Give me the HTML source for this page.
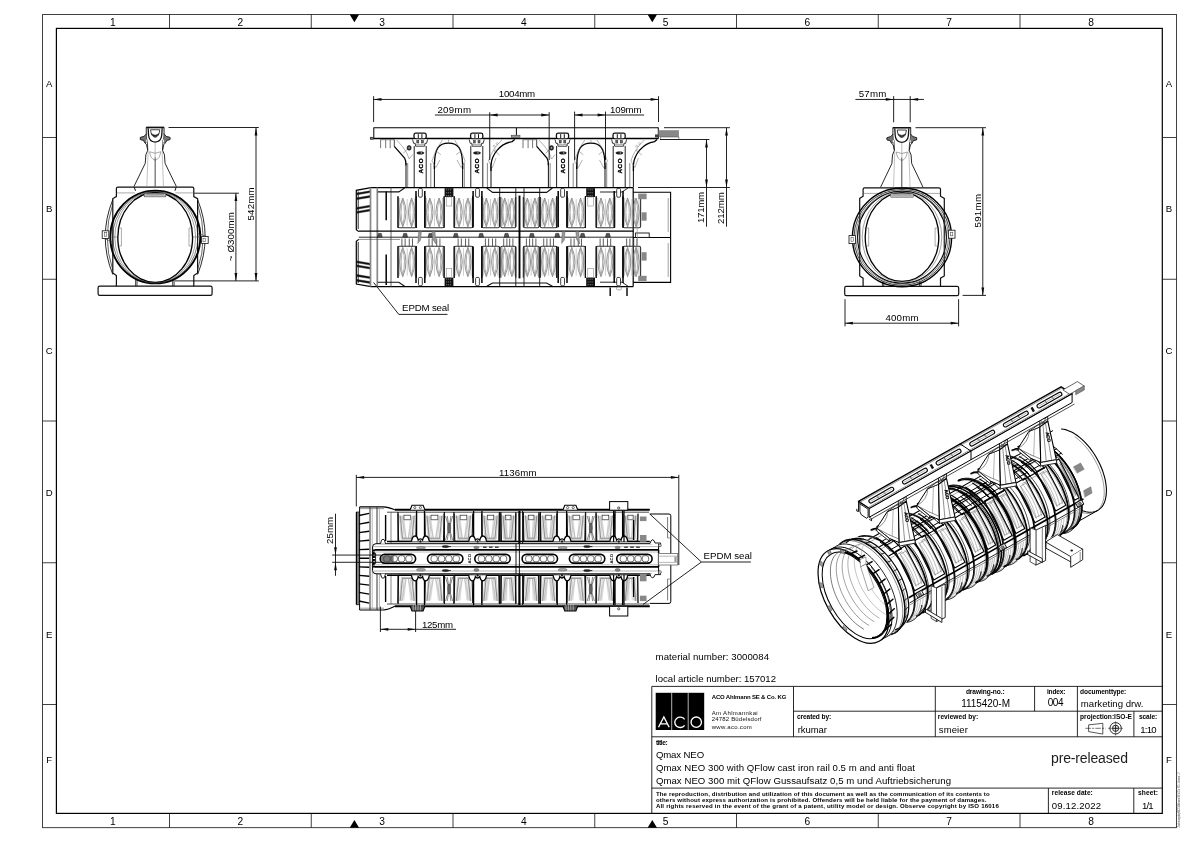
<!DOCTYPE html>
<html><head><meta charset="utf-8"><title>Qmax NEO 300 drawing</title>
<style>
html,body{margin:0;padding:0;background:#fff;}
body{width:1191px;height:842px;overflow:hidden;font-family:"Liberation Sans",sans-serif;}
svg{display:block;font-family:"Liberation Sans",sans-serif;filter:grayscale(1);}
text{font-family:"Liberation Sans",sans-serif;}
</style></head><body>
<svg width="1191" height="842" viewBox="0 0 1191 842">
<rect x="0" y="0" width="1191" height="842" fill="#fff"/>
<g id="frame">
<rect x="42.60" y="14.40" width="1133.80" height="813.30" rx="0" stroke="#111" stroke-width="0.8" fill="none" />
<rect x="56.40" y="28.40" width="1105.90" height="785.00" rx="0" stroke="#000" stroke-width="1.2" fill="none" />
<line x1="169.50" y1="14.40" x2="169.50" y2="28.40" stroke="#111" stroke-width="0.8" />
<line x1="169.50" y1="813.40" x2="169.50" y2="827.70" stroke="#111" stroke-width="0.8" />
<line x1="311.25" y1="14.40" x2="311.25" y2="28.40" stroke="#111" stroke-width="0.8" />
<line x1="311.25" y1="813.40" x2="311.25" y2="827.70" stroke="#111" stroke-width="0.8" />
<line x1="453.00" y1="14.40" x2="453.00" y2="28.40" stroke="#111" stroke-width="0.8" />
<line x1="453.00" y1="813.40" x2="453.00" y2="827.70" stroke="#111" stroke-width="0.8" />
<line x1="594.75" y1="14.40" x2="594.75" y2="28.40" stroke="#111" stroke-width="0.8" />
<line x1="594.75" y1="813.40" x2="594.75" y2="827.70" stroke="#111" stroke-width="0.8" />
<line x1="736.50" y1="14.40" x2="736.50" y2="28.40" stroke="#111" stroke-width="0.8" />
<line x1="736.50" y1="813.40" x2="736.50" y2="827.70" stroke="#111" stroke-width="0.8" />
<line x1="878.25" y1="14.40" x2="878.25" y2="28.40" stroke="#111" stroke-width="0.8" />
<line x1="878.25" y1="813.40" x2="878.25" y2="827.70" stroke="#111" stroke-width="0.8" />
<line x1="1020.00" y1="14.40" x2="1020.00" y2="28.40" stroke="#111" stroke-width="0.8" />
<line x1="1020.00" y1="813.40" x2="1020.00" y2="827.70" stroke="#111" stroke-width="0.8" />
<line x1="42.60" y1="137.50" x2="56.40" y2="137.50" stroke="#111" stroke-width="0.8" />
<line x1="1162.30" y1="137.50" x2="1176.40" y2="137.50" stroke="#111" stroke-width="0.8" />
<line x1="42.60" y1="279.25" x2="56.40" y2="279.25" stroke="#111" stroke-width="0.8" />
<line x1="1162.30" y1="279.25" x2="1176.40" y2="279.25" stroke="#111" stroke-width="0.8" />
<line x1="42.60" y1="421.00" x2="56.40" y2="421.00" stroke="#111" stroke-width="0.8" />
<line x1="1162.30" y1="421.00" x2="1176.40" y2="421.00" stroke="#111" stroke-width="0.8" />
<line x1="42.60" y1="562.75" x2="56.40" y2="562.75" stroke="#111" stroke-width="0.8" />
<line x1="1162.30" y1="562.75" x2="1176.40" y2="562.75" stroke="#111" stroke-width="0.8" />
<line x1="42.60" y1="704.50" x2="56.40" y2="704.50" stroke="#111" stroke-width="0.8" />
<line x1="1162.30" y1="704.50" x2="1176.40" y2="704.50" stroke="#111" stroke-width="0.8" />
<text x="112.95" y="25.90" font-size="10.2" text-anchor="middle" fill="#000" >1</text>
<text x="112.95" y="825.00" font-size="10.2" text-anchor="middle" fill="#000" >1</text>
<text x="240.38" y="25.90" font-size="10.2" text-anchor="middle" fill="#000" >2</text>
<text x="240.38" y="825.00" font-size="10.2" text-anchor="middle" fill="#000" >2</text>
<text x="382.12" y="25.90" font-size="10.2" text-anchor="middle" fill="#000" >3</text>
<text x="382.12" y="825.00" font-size="10.2" text-anchor="middle" fill="#000" >3</text>
<text x="523.88" y="25.90" font-size="10.2" text-anchor="middle" fill="#000" >4</text>
<text x="523.88" y="825.00" font-size="10.2" text-anchor="middle" fill="#000" >4</text>
<text x="665.62" y="25.90" font-size="10.2" text-anchor="middle" fill="#000" >5</text>
<text x="665.62" y="825.00" font-size="10.2" text-anchor="middle" fill="#000" >5</text>
<text x="807.38" y="25.90" font-size="10.2" text-anchor="middle" fill="#000" >6</text>
<text x="807.38" y="825.00" font-size="10.2" text-anchor="middle" fill="#000" >6</text>
<text x="949.12" y="25.90" font-size="10.2" text-anchor="middle" fill="#000" >7</text>
<text x="949.12" y="825.00" font-size="10.2" text-anchor="middle" fill="#000" >7</text>
<text x="1091.15" y="25.90" font-size="10.2" text-anchor="middle" fill="#000" >8</text>
<text x="1091.15" y="825.00" font-size="10.2" text-anchor="middle" fill="#000" >8</text>
<text x="49.30" y="86.85" font-size="9.6" text-anchor="middle" fill="#000" >A</text>
<text x="1169.00" y="86.85" font-size="9.6" text-anchor="middle" fill="#000" >A</text>
<text x="49.30" y="212.28" font-size="9.6" text-anchor="middle" fill="#000" >B</text>
<text x="1169.00" y="212.28" font-size="9.6" text-anchor="middle" fill="#000" >B</text>
<text x="49.30" y="354.02" font-size="9.6" text-anchor="middle" fill="#000" >C</text>
<text x="1169.00" y="354.02" font-size="9.6" text-anchor="middle" fill="#000" >C</text>
<text x="49.30" y="495.77" font-size="9.6" text-anchor="middle" fill="#000" >D</text>
<text x="1169.00" y="495.77" font-size="9.6" text-anchor="middle" fill="#000" >D</text>
<text x="49.30" y="637.52" font-size="9.6" text-anchor="middle" fill="#000" >E</text>
<text x="1169.00" y="637.52" font-size="9.6" text-anchor="middle" fill="#000" >E</text>
<text x="49.30" y="762.85" font-size="9.6" text-anchor="middle" fill="#000" >F</text>
<text x="1169.00" y="762.85" font-size="9.6" text-anchor="middle" fill="#000" >F</text>
<polygon points="349.7,14.4 359.09999999999997,14.4 354.4,22.2" fill="#000"/>
<polygon points="349.7,827.7 359.09999999999997,827.7 354.4,819.9" fill="#000"/>
<polygon points="647.5999999999999,14.4 657.0,14.4 652.3,22.2" fill="#000"/>
<polygon points="647.5999999999999,827.7 657.0,827.7 652.3,819.9" fill="#000"/>
</g>
<g id="title">
<line x1="651.80" y1="686.40" x2="1162.30" y2="686.40" stroke="#111" stroke-width="0.9" />
<line x1="651.80" y1="686.40" x2="651.80" y2="813.40" stroke="#111" stroke-width="0.9" />
<line x1="793.50" y1="711.20" x2="1162.30" y2="711.20" stroke="#111" stroke-width="0.9" />
<line x1="651.80" y1="736.80" x2="1162.30" y2="736.80" stroke="#111" stroke-width="0.9" />
<line x1="651.80" y1="788.10" x2="1162.30" y2="788.10" stroke="#111" stroke-width="0.9" />
<line x1="793.50" y1="686.40" x2="793.50" y2="736.80" stroke="#111" stroke-width="0.9" />
<line x1="935.30" y1="686.40" x2="935.30" y2="736.80" stroke="#111" stroke-width="0.9" />
<line x1="1034.60" y1="686.40" x2="1034.60" y2="711.20" stroke="#111" stroke-width="0.9" />
<line x1="1077.40" y1="686.40" x2="1077.40" y2="736.80" stroke="#111" stroke-width="0.9" />
<line x1="1133.90" y1="711.20" x2="1133.90" y2="736.80" stroke="#111" stroke-width="0.9" />
<line x1="1048.40" y1="788.10" x2="1048.40" y2="813.40" stroke="#111" stroke-width="0.9" />
<line x1="1133.80" y1="788.10" x2="1133.80" y2="813.40" stroke="#111" stroke-width="0.9" />
<rect x="655.70" y="692.80" width="48.50" height="37.20" rx="0" stroke="#000" stroke-width="0" fill="#000" />
<line x1="671.70" y1="692.80" x2="671.70" y2="730.00" stroke="#fff" stroke-width="0.7" />
<line x1="688.20" y1="692.80" x2="688.20" y2="730.00" stroke="#fff" stroke-width="0.7" />
<g fill="none" stroke="#fff" stroke-width="1.35">
<path d="M658.5,727.3 L663.85,717 L669.2,727.3 M660.3,723.9 L667.4,723.9"/>
<path d="M684.6,719.3 A5.4,5.2 0 1 0 684.6,725.3"/>
<ellipse cx="696.25" cy="722.15" rx="5.2" ry="5.15"/>
</g>
<text x="711.70" y="698.90" font-size="6" text-anchor="start" fill="#000" font-weight="bold" textLength="74.60" lengthAdjust="spacing" >ACO Ahlmann SE &amp; Co. KG</text>
<text x="711.70" y="714.90" font-size="6" text-anchor="start" fill="#111" textLength="46.00" lengthAdjust="spacing" >Am Ahlmannkai</text>
<text x="711.70" y="720.80" font-size="6" text-anchor="start" fill="#111" textLength="49.80" lengthAdjust="spacing" >24782 Büdelsdorf</text>
<text x="711.70" y="728.70" font-size="6" text-anchor="start" fill="#111" textLength="40.10" lengthAdjust="spacing" >www.aco.com</text>
<text x="655.60" y="682.00" font-size="9.6" text-anchor="start" fill="#000" textLength="120.40" lengthAdjust="spacing" >local article number: 157012</text>
<text x="655.60" y="660.20" font-size="9.6" text-anchor="start" fill="#000" textLength="113.40" lengthAdjust="spacing" >material number: 3000084</text>
<text x="796.90" y="719.30" font-size="6.6" text-anchor="start" fill="#000" font-weight="bold" textLength="34.40" lengthAdjust="spacing" >created by:</text>
<text x="797.80" y="732.90" font-size="9.5" text-anchor="start" fill="#000" textLength="29.10" lengthAdjust="spacing" >rkumar</text>
<text x="937.80" y="719.30" font-size="6.6" text-anchor="start" fill="#000" font-weight="bold" textLength="40.30" lengthAdjust="spacing" >reviewed by:</text>
<text x="938.80" y="732.90" font-size="9.5" text-anchor="start" fill="#000" textLength="29.00" lengthAdjust="spacing" >smeier</text>
<text x="965.90" y="694.10" font-size="6.6" text-anchor="start" fill="#000" font-weight="bold" textLength="38.70" lengthAdjust="spacing" >drawing-no.:</text>
<text x="961.20" y="706.90" font-size="10" text-anchor="start" fill="#000" textLength="48.80" lengthAdjust="spacing" >1115420-M</text>
<text x="1046.90" y="694.10" font-size="6.6" text-anchor="start" fill="#000" font-weight="bold" textLength="18.50" lengthAdjust="spacing" >index:</text>
<text x="1047.80" y="706.30" font-size="10" text-anchor="start" fill="#000" textLength="15.70" lengthAdjust="spacing" >004</text>
<text x="1080.10" y="694.10" font-size="6.6" text-anchor="start" fill="#000" font-weight="bold" textLength="46.20" lengthAdjust="spacing" >documenttype:</text>
<text x="1080.80" y="706.90" font-size="9.6" text-anchor="start" fill="#000" textLength="62.60" lengthAdjust="spacing" >marketing drw.</text>
<text x="1080.10" y="719.30" font-size="6.6" text-anchor="start" fill="#000" font-weight="bold" textLength="51.90" lengthAdjust="spacing" >projection:ISO-E</text>
<text x="1138.90" y="719.30" font-size="6.6" text-anchor="start" fill="#000" font-weight="bold" textLength="18.30" lengthAdjust="spacing" >scale:</text>
<text x="1140.20" y="732.90" font-size="9.6" text-anchor="start" fill="#000" textLength="16.40" lengthAdjust="spacing" >1:10</text>
<path d="M1088.6,724.9 L1102.8,723.3 L1102.8,734.1 L1088.6,731.6 Z" stroke="#111" stroke-width="0.7" fill="none" />
<line x1="1085.40" y1="728.30" x2="1105.60" y2="728.30" stroke="#111" stroke-width="0.6" stroke-dasharray="5.5 1.2 2 1.2"/>
<ellipse cx="1115.60" cy="728.30" rx="5.70" ry="5.70" stroke="#111" stroke-width="0.9" fill="none" />
<ellipse cx="1115.60" cy="728.30" rx="3.10" ry="3.10" stroke="#111" stroke-width="0.9" fill="none" />
<line x1="1113.00" y1="728.30" x2="1118.20" y2="728.30" stroke="#111" stroke-width="0.8" />
<line x1="1115.60" y1="725.70" x2="1115.60" y2="730.90" stroke="#111" stroke-width="0.8" />
<line x1="1108.00" y1="728.30" x2="1123.00" y2="728.30" stroke="#111" stroke-width="0.5" />
<line x1="1115.60" y1="721.20" x2="1115.60" y2="735.60" stroke="#111" stroke-width="0.5" />
<text x="655.90" y="744.70" font-size="6.6" text-anchor="start" fill="#000" font-weight="bold" textLength="11.70" lengthAdjust="spacing" >title:</text>
<text x="655.90" y="757.80" font-size="9.6" text-anchor="start" fill="#000" textLength="48.20" lengthAdjust="spacing" >Qmax NEO</text>
<text x="655.90" y="770.80" font-size="9.6" text-anchor="start" fill="#000" textLength="259.10" lengthAdjust="spacing" >Qmax NEO 300 with QFlow cast iron rail 0.5 m and anti float</text>
<text x="655.90" y="783.90" font-size="9.6" text-anchor="start" fill="#000" textLength="295.10" lengthAdjust="spacing" >Qmax NEO 300 mit QFlow Gussaufsatz 0,5 m und Auftriebsicherung</text>
<text x="1051.00" y="762.60" font-size="14" text-anchor="start" fill="#1c1c1c" textLength="77.00" lengthAdjust="spacing" >pre-released</text>
<text x="655.90" y="796.00" font-size="6.1" text-anchor="start" fill="#000" font-weight="bold" textLength="333.80" lengthAdjust="spacing" >The reproduction, distribution and utilization of this document as well as the communication of its contents to</text>
<text x="655.90" y="802.30" font-size="6.1" text-anchor="start" fill="#000" font-weight="bold" textLength="330.60" lengthAdjust="spacing" >others without express authorization is prohibited. Offenders will be held liable for the payment of damages.</text>
<text x="655.90" y="808.20" font-size="6.1" text-anchor="start" fill="#000" font-weight="bold" textLength="342.90" lengthAdjust="spacing" >All rights reserved in the event of the grant of a patent, utility model or design. Observe copyright by ISO 16016</text>
<text x="1051.80" y="795.30" font-size="6.6" text-anchor="start" fill="#000" font-weight="bold" textLength="41.00" lengthAdjust="spacing" >release date:</text>
<text x="1051.80" y="808.90" font-size="9.6" text-anchor="start" fill="#000" textLength="49.30" lengthAdjust="spacing" >09.12.2022</text>
<text x="1138.00" y="795.30" font-size="6.6" text-anchor="start" fill="#000" font-weight="bold" textLength="20.00" lengthAdjust="spacing" >sheet:</text>
<text x="1141.90" y="808.90" font-size="9.6" text-anchor="start" fill="#000" textLength="11.70" lengthAdjust="spacing" >1/1</text>
<text x="1179.60" y="827.40" font-size="2.6" text-anchor="start" fill="#5a5a5a" transform="rotate(-90 1179.60 827.40)" textLength="55.00" lengthAdjust="spacing" >Zeichnungskopf ACO Ahlmann SE &amp; Co. KG - Version 1.7</text>
</g>
<g id="front">
<rect x="98.10" y="286.20" width="114.00" height="9.20" rx="1.6" stroke="#111" stroke-width="1.2" fill="none" />
<path d="M117.9,187.1 L192.3,187.1 Q193.8,187.1 193.8,188.6 L193.8,196.6 L197.6,198.6 L197.6,273 L193.8,275.6 L193.8,286.2 M116.4,286.2 L116.4,275.6 L112.8,273 L112.8,198.6 L116.4,196.6 L116.4,188.6 Q116.4,187.1 117.9,187.1" stroke="#111" stroke-width="1.2" fill="none" />
<line x1="135.60" y1="279.50" x2="135.60" y2="286.20" stroke="#111" stroke-width="0.8" />
<line x1="137.00" y1="279.50" x2="137.00" y2="286.20" stroke="#111" stroke-width="0.8" />
<line x1="172.70" y1="279.50" x2="172.70" y2="286.20" stroke="#111" stroke-width="0.8" />
<line x1="174.10" y1="279.50" x2="174.10" y2="286.20" stroke="#111" stroke-width="0.8" />
<path d="M134.2,187.1 L135.5,190.8 M176.2,187.1 L174.9,190.8" stroke="#111" stroke-width="1.0" fill="none" />
<line x1="116.40" y1="192.90" x2="135.00" y2="192.90" stroke="#555" stroke-width="0.5" />
<line x1="175.40" y1="192.90" x2="193.80" y2="192.90" stroke="#555" stroke-width="0.5" />
<ellipse cx="155.30" cy="237.00" rx="45.00" ry="46.40" stroke="#000" stroke-width="1.9" fill="none" />
<ellipse cx="155.30" cy="237.20" rx="42.60" ry="46.00" stroke="#222" stroke-width="0.6" fill="none" />
<ellipse cx="155.20" cy="237.40" rx="37.40" ry="44.90" stroke="#000" stroke-width="1.35" fill="none" />
<ellipse cx="155.20" cy="237.30" rx="40.40" ry="45.60" stroke="#444" stroke-width="0.5" fill="none" />
<rect x="144.20" y="193.30" width="21.60" height="3.60" rx="0" stroke="#444" stroke-width="0.5" fill="#bbb" />
<line x1="146.00" y1="194.60" x2="164.00" y2="194.60" stroke="#666" stroke-width="0.4" />
<path d="M112.79999999999998,199.5 Q97.69999999999999,237 112.79999999999998,274.5" stroke="#111" stroke-width="0.9" fill="none" />
<path d="M112.79999999999998,204 Q101.69999999999999,237 112.79999999999998,270" stroke="#222" stroke-width="0.7" fill="none" />
<line x1="117.40" y1="228.00" x2="121.40" y2="228.00" stroke="#555" stroke-width="0.5" />
<line x1="117.40" y1="246.00" x2="121.40" y2="246.00" stroke="#555" stroke-width="0.5" />
<line x1="121.40" y1="228.00" x2="121.40" y2="246.00" stroke="#555" stroke-width="0.5" />
<line x1="117.70" y1="237.00" x2="110.20" y2="237.00" stroke="#444" stroke-width="0.5" />
<path d="M197.6,199.5 Q212.7,237 197.6,274.5" stroke="#111" stroke-width="0.9" fill="none" />
<path d="M197.6,204 Q208.7,237 197.6,270" stroke="#222" stroke-width="0.7" fill="none" />
<line x1="193.00" y1="228.00" x2="189.00" y2="228.00" stroke="#555" stroke-width="0.5" />
<line x1="193.00" y1="246.00" x2="189.00" y2="246.00" stroke="#555" stroke-width="0.5" />
<line x1="189.00" y1="228.00" x2="189.00" y2="246.00" stroke="#555" stroke-width="0.5" />
<line x1="192.70" y1="237.00" x2="200.20" y2="237.00" stroke="#444" stroke-width="0.5" />
<rect x="102.20" y="230.80" width="6.60" height="7.60" rx="0" stroke="#111" stroke-width="0.8" fill="#fff" />
<rect x="104.60" y="232.60" width="2.20" height="3.60" rx="0" stroke="#333" stroke-width="0.5" fill="none" />
<line x1="104.00" y1="238.40" x2="112.50" y2="242.00" stroke="#333" stroke-width="0.6" />
<rect x="201.60" y="236.40" width="6.60" height="7.20" rx="0" stroke="#111" stroke-width="0.8" fill="#fff" />
<rect x="203.00" y="238.20" width="2.20" height="3.60" rx="0" stroke="#333" stroke-width="0.5" fill="none" />
<line x1="197.80" y1="233.50" x2="206.50" y2="236.40" stroke="#333" stroke-width="0.6" />
<path d="M155.15,127.25 L164.05,127.25 L164.05,134.65 L166.35,136.55 L169.95,137.45 L169.95,139.55 L166.75,140.25 L165.45,142.75 L163.75,144.75 L162.55,150.25 L164.45,154.75 L165.05,163.25 L176.35,186.50 M155.15,127.25 L146.25,127.25 L146.25,134.65 L143.95,136.55 L140.35,137.45 L140.35,139.55 L143.55,140.25 L144.85,142.75 L146.55,144.75 L147.75,150.25 L145.85,154.75 L145.25,163.25 L133.95,186.50" stroke="#111" stroke-width="0.9" fill="none" />
<line x1="146.25" y1="127.55" x2="164.05" y2="127.55" stroke="#111" stroke-width="1.5" />
<path d="M148.15,128.25 L148.55,135.25 Q149.15,141.75 155.15,142.05 Q161.15,141.75 161.75,135.25 L162.15,128.25" stroke="#111" stroke-width="1.3" fill="none" />
<path d="M150.55,129.75 Q151.15,136.75 155.15,137.25 Q159.15,136.75 159.75,129.75 Z" stroke="#111" stroke-width="0.8" fill="#fff" />
<path d="M151.35,133.75 Q155.15,139.75 158.95000000000002,133.75 Q155.15,136.55 151.35,133.75 Z" stroke="#111" stroke-width="0.5" fill="#222" />
<path d="M146.25,133.75 L143.95000000000002,136.55 L140.35,137.45 L140.35,139.55 L143.55,140.25 L144.85,142.75 L146.95000000000002,141.75 Z" stroke="#111" stroke-width="0.6" fill="#777" />
<path d="M147.35,140.25 L147.75,150.25" stroke="#111" stroke-width="0.8" fill="none" />
<ellipse cx="146.85" cy="140.95" rx="0.90" ry="1.60" stroke="#555" stroke-width="0.4" fill="#fff" />
<path d="M164.05,133.75 L166.35,136.55 L169.95000000000002,137.45 L169.95000000000002,139.55 L166.75,140.25 L165.45000000000002,142.75 L163.35,141.75 Z" stroke="#111" stroke-width="0.6" fill="#777" />
<path d="M162.95000000000002,140.25 L162.55,150.25" stroke="#111" stroke-width="0.8" fill="none" />
<ellipse cx="163.45" cy="140.95" rx="0.90" ry="1.60" stroke="#555" stroke-width="0.4" fill="#fff" />
<line x1="155.15" y1="142.25" x2="155.15" y2="157.25" stroke="#777" stroke-width="0.5" />
<line x1="155.15" y1="157.25" x2="155.15" y2="186.50" stroke="#333" stroke-width="0.9" />
<line x1="148.15" y1="151.25" x2="146.85" y2="186.50" stroke="#777" stroke-width="0.45" />
<line x1="162.15" y1="151.25" x2="163.45" y2="186.50" stroke="#777" stroke-width="0.45" />
<path d="M149.55,151.75 Q155.15,154.75 160.75,151.75" stroke="#555" stroke-width="0.5" fill="none" />
<path d="M149.55,151.75 Q150.65,159.25 155.15,160.25 Q159.65,159.25 160.75,151.75" stroke="#555" stroke-width="0.5" fill="none" />
<line x1="168.50" y1="127.50" x2="258.80" y2="127.50" stroke="#0a0a0a" stroke-width="0.9" />
<line x1="175.00" y1="280.90" x2="258.80" y2="280.90" stroke="#0a0a0a" stroke-width="0.9" />
<line x1="194.20" y1="193.20" x2="238.90" y2="193.20" stroke="#0a0a0a" stroke-width="0.9" />
<line x1="256.00" y1="127.50" x2="256.00" y2="280.90" stroke="#0a0a0a" stroke-width="0.9" />
<polygon points="256.00,127.50 257.40,135.40 254.60,135.40" fill="#0a0a0a"/>
<polygon points="256.00,280.90 254.60,273.00 257.40,273.00" fill="#0a0a0a"/>
<line x1="235.90" y1="193.20" x2="235.90" y2="280.90" stroke="#0a0a0a" stroke-width="0.9" />
<polygon points="235.90,193.20 237.30,201.10 234.50,201.10" fill="#0a0a0a"/>
<polygon points="235.90,280.90 234.50,273.00 237.30,273.00" fill="#0a0a0a"/>
<text x="253.90" y="220.50" font-size="9.7" text-anchor="start" fill="#000" transform="rotate(-90 253.90 220.50)" textLength="33.10" lengthAdjust="spacing" >542mm</text>
<text x="234.20" y="261.20" font-size="9.7" text-anchor="start" fill="#000" transform="rotate(-90 234.20 261.20)" textLength="49.00" lengthAdjust="spacing" >~ Ø300mm</text>
</g>
<g id="side">
<line x1="373.60" y1="127.70" x2="658.50" y2="127.70" stroke="#000" stroke-width="1.1" />
<line x1="370.60" y1="138.50" x2="658.50" y2="138.50" stroke="#000" stroke-width="1.7" />
<line x1="373.80" y1="127.70" x2="373.80" y2="138.50" stroke="#000" stroke-width="1.0" />
<line x1="658.30" y1="127.70" x2="658.30" y2="138.50" stroke="#000" stroke-width="1.0" />
<rect x="370.20" y="137.20" width="3.40" height="2.00" rx="0" stroke="#111" stroke-width="0.5" fill="#777" />
<line x1="516.40" y1="128.00" x2="516.40" y2="136.50" stroke="#000" stroke-width="1.0" />
<rect x="511.20" y="135.20" width="8.80" height="2.40" rx="0" stroke="#333" stroke-width="0.5" fill="#999" />
<line x1="380.20" y1="139.70" x2="394.40" y2="139.70" stroke="#555" stroke-width="0.7" />
<line x1="380.60" y1="139.60" x2="380.60" y2="148.20" stroke="#777" stroke-width="1.0" />
<line x1="385.70" y1="139.60" x2="385.70" y2="148.20" stroke="#777" stroke-width="1.0" />
<line x1="390.20" y1="139.60" x2="390.20" y2="148.20" stroke="#777" stroke-width="1.0" />
<line x1="394.30" y1="139.60" x2="394.30" y2="146.60" stroke="#333" stroke-width="0.9" />
<path d="M394.3,146.4 L404.6,158.2 Q406.1,160.5 406.00000000000006,165.5" stroke="#000" stroke-width="1.25" fill="none" />
<path d="M396.6,140 Q402.6,146 406.6,152.5 L409.20000000000005,159" stroke="#666" stroke-width="0.5" fill="none" />
<path d="M403.1,153.5 L407.6,149 M409.20000000000005,159 L412.70000000000005,154.5" stroke="#666" stroke-width="0.5" fill="none" />
<ellipse cx="409.10" cy="147.90" rx="2.10" ry="2.30" stroke="#111" stroke-width="0.6" fill="#333" />
<ellipse cx="409.10" cy="147.90" rx="0.70" ry="0.80" stroke="#000" stroke-width="0" fill="#bbb" />
<line x1="406.00" y1="187.20" x2="406.00" y2="163.00" stroke="#111" stroke-width="1.0" />
<line x1="407.70" y1="187.20" x2="407.70" y2="163.00" stroke="#555" stroke-width="0.7" />
<line x1="414.20" y1="187.20" x2="414.20" y2="146.00" stroke="#222" stroke-width="1.0" />
<line x1="426.20" y1="187.20" x2="426.20" y2="146.00" stroke="#222" stroke-width="1.0" />
<line x1="430.80" y1="187.20" x2="430.80" y2="163.00" stroke="#555" stroke-width="0.7" />
<line x1="434.40" y1="187.20" x2="434.40" y2="163.00" stroke="#111" stroke-width="1.0" />
<rect x="414.00" y="133.20" width="12.20" height="5.60" rx="1.8" stroke="#111" stroke-width="1.3" fill="#fff" />
<line x1="418.30" y1="134.20" x2="418.30" y2="138.00" stroke="#111" stroke-width="1.0" />
<line x1="421.90" y1="134.20" x2="421.90" y2="138.00" stroke="#111" stroke-width="1.0" />
<path d="M412.6,139.4 L413.6,143.3 L415.20000000000005,143.3 L415.6,146.2 L424.6,146.2 L425.00000000000006,143.3 L426.6,143.3 L427.6,139.4" stroke="#222" stroke-width="0.9" fill="#fff" />
<rect x="416.80" y="140.40" width="2.00" height="2.60" rx="0" stroke="#222" stroke-width="0.5" fill="#666" />
<rect x="421.40" y="140.40" width="2.00" height="2.60" rx="0" stroke="#222" stroke-width="0.5" fill="#666" />
<line x1="415.60" y1="144.40" x2="424.60" y2="144.40" stroke="#555" stroke-width="0.5" />
<ellipse cx="420.40" cy="152.90" rx="3.60" ry="1.25" stroke="#111" stroke-width="0.5" fill="#222" />
<ellipse cx="421.40" cy="152.90" rx="0.80" ry="0.60" stroke="#000" stroke-width="0" fill="#bbb" />
<text x="422.60" y="173.60" font-size="6.2" text-anchor="start" fill="#000" font-weight="bold" transform="rotate(-90 422.60 173.60)" textLength="15.20" lengthAdjust="spacing" stroke="#000" stroke-width="0.35">ACO</text>
<line x1="462.60" y1="187.20" x2="462.60" y2="163.00" stroke="#111" stroke-width="1.0" />
<line x1="464.30" y1="187.20" x2="464.30" y2="163.00" stroke="#555" stroke-width="0.7" />
<line x1="470.80" y1="187.20" x2="470.80" y2="146.00" stroke="#222" stroke-width="1.0" />
<line x1="482.80" y1="187.20" x2="482.80" y2="146.00" stroke="#222" stroke-width="1.0" />
<line x1="487.40" y1="187.20" x2="487.40" y2="163.00" stroke="#555" stroke-width="0.7" />
<line x1="491.00" y1="187.20" x2="491.00" y2="163.00" stroke="#111" stroke-width="1.0" />
<rect x="470.60" y="133.20" width="12.20" height="5.60" rx="1.8" stroke="#111" stroke-width="1.3" fill="#fff" />
<line x1="474.90" y1="134.20" x2="474.90" y2="138.00" stroke="#111" stroke-width="1.0" />
<line x1="478.50" y1="134.20" x2="478.50" y2="138.00" stroke="#111" stroke-width="1.0" />
<path d="M469.2,139.4 L470.2,143.3 L471.8,143.3 L472.2,146.2 L481.2,146.2 L481.6,143.3 L483.2,143.3 L484.2,139.4" stroke="#222" stroke-width="0.9" fill="#fff" />
<rect x="473.40" y="140.40" width="2.00" height="2.60" rx="0" stroke="#222" stroke-width="0.5" fill="#666" />
<rect x="478.00" y="140.40" width="2.00" height="2.60" rx="0" stroke="#222" stroke-width="0.5" fill="#666" />
<line x1="472.20" y1="144.40" x2="481.20" y2="144.40" stroke="#555" stroke-width="0.5" />
<ellipse cx="477.00" cy="152.90" rx="3.60" ry="1.25" stroke="#111" stroke-width="0.5" fill="#222" />
<ellipse cx="478.00" cy="152.90" rx="0.80" ry="0.60" stroke="#000" stroke-width="0" fill="#bbb" />
<text x="479.20" y="173.60" font-size="6.2" text-anchor="start" fill="#000" font-weight="bold" transform="rotate(-90 479.20 173.60)" textLength="15.20" lengthAdjust="spacing" stroke="#000" stroke-width="0.35">ACO</text>
<path d="M434.40,169.00 L434.40,165.00 C434.70,148.00 439.00,143.20 448.50,143.20 C458.00,143.20 462.30,148.00 462.60,165.00 L462.60,169.00" stroke="#000" stroke-width="1.3" fill="none" />
<path d="M431.90,161.00 Q435.40,149.20 442.40,140.00" stroke="#666" stroke-width="0.5" fill="none" />
<path d="M465.10,161.00 Q461.60,149.20 454.60,140.00" stroke="#666" stroke-width="0.5" fill="none" />
<line x1="448.50" y1="139.60" x2="448.50" y2="143.20" stroke="#666" stroke-width="0.5" />
<line x1="436.40" y1="151.20" x2="440.90" y2="154.70" stroke="#666" stroke-width="0.5" />
<line x1="460.60" y1="151.20" x2="456.10" y2="154.70" stroke="#666" stroke-width="0.5" />
<path d="M431.90,161.00 L435.90,167.50 L439.90,160.00" stroke="#666" stroke-width="0.5" fill="none" />
<path d="M465.10,161.00 L461.10,167.50 L457.10,160.00" stroke="#666" stroke-width="0.5" fill="none" />
<path d="M491.00,171 L491.00,165 C491.60,155 500.00,143.3 512.20,141.6 L514.70,139.6" stroke="#000" stroke-width="1.25" fill="none" />
<path d="M488.50,161 Q492.00,149 502.00,140" stroke="#666" stroke-width="0.5" fill="none" />
<path d="M488.50,161 L492.50,167.5 L496.00,158" stroke="#666" stroke-width="0.5" fill="none" />
<line x1="494.00" y1="150.50" x2="499.50" y2="155.00" stroke="#666" stroke-width="0.5" />
<ellipse cx="494.20" cy="146.20" rx="1.00" ry="1.00" stroke="#777" stroke-width="0.4" fill="none" />
<ellipse cx="497.20" cy="143.60" rx="1.00" ry="1.00" stroke="#777" stroke-width="0.4" fill="none" />
<ellipse cx="495.20" cy="150.60" rx="1.00" ry="1.00" stroke="#777" stroke-width="0.4" fill="none" />
<line x1="522.60" y1="139.70" x2="536.80" y2="139.70" stroke="#555" stroke-width="0.7" />
<line x1="523.00" y1="139.60" x2="523.00" y2="148.20" stroke="#777" stroke-width="1.0" />
<line x1="528.10" y1="139.60" x2="528.10" y2="148.20" stroke="#777" stroke-width="1.0" />
<line x1="532.60" y1="139.60" x2="532.60" y2="148.20" stroke="#777" stroke-width="1.0" />
<line x1="536.70" y1="139.60" x2="536.70" y2="146.60" stroke="#333" stroke-width="0.9" />
<path d="M536.7,146.4 L547.0,158.2 Q548.5,160.5 548.4,165.5" stroke="#000" stroke-width="1.25" fill="none" />
<path d="M539.0,140 Q545.0,146 549.0,152.5 L551.6,159" stroke="#666" stroke-width="0.5" fill="none" />
<path d="M545.5,153.5 L550.0,149 M551.6,159 L555.1,154.5" stroke="#666" stroke-width="0.5" fill="none" />
<ellipse cx="551.50" cy="147.90" rx="2.10" ry="2.30" stroke="#111" stroke-width="0.6" fill="#333" />
<ellipse cx="551.50" cy="147.90" rx="0.70" ry="0.80" stroke="#000" stroke-width="0" fill="#bbb" />
<line x1="548.40" y1="187.20" x2="548.40" y2="163.00" stroke="#111" stroke-width="1.0" />
<line x1="550.10" y1="187.20" x2="550.10" y2="163.00" stroke="#555" stroke-width="0.7" />
<line x1="556.60" y1="187.20" x2="556.60" y2="146.00" stroke="#222" stroke-width="1.0" />
<line x1="568.60" y1="187.20" x2="568.60" y2="146.00" stroke="#222" stroke-width="1.0" />
<line x1="573.20" y1="187.20" x2="573.20" y2="163.00" stroke="#555" stroke-width="0.7" />
<line x1="576.80" y1="187.20" x2="576.80" y2="163.00" stroke="#111" stroke-width="1.0" />
<rect x="556.40" y="133.20" width="12.20" height="5.60" rx="1.8" stroke="#111" stroke-width="1.3" fill="#fff" />
<line x1="560.70" y1="134.20" x2="560.70" y2="138.00" stroke="#111" stroke-width="1.0" />
<line x1="564.30" y1="134.20" x2="564.30" y2="138.00" stroke="#111" stroke-width="1.0" />
<path d="M555.0,139.4 L556.0,143.3 L557.6,143.3 L558.0,146.2 L567.0,146.2 L567.4,143.3 L569.0,143.3 L570.0,139.4" stroke="#222" stroke-width="0.9" fill="#fff" />
<rect x="559.20" y="140.40" width="2.00" height="2.60" rx="0" stroke="#222" stroke-width="0.5" fill="#666" />
<rect x="563.80" y="140.40" width="2.00" height="2.60" rx="0" stroke="#222" stroke-width="0.5" fill="#666" />
<line x1="558.00" y1="144.40" x2="567.00" y2="144.40" stroke="#555" stroke-width="0.5" />
<ellipse cx="562.80" cy="152.90" rx="3.60" ry="1.25" stroke="#111" stroke-width="0.5" fill="#222" />
<ellipse cx="563.80" cy="152.90" rx="0.80" ry="0.60" stroke="#000" stroke-width="0" fill="#bbb" />
<text x="565.00" y="173.60" font-size="6.2" text-anchor="start" fill="#000" font-weight="bold" transform="rotate(-90 565.00 173.60)" textLength="15.20" lengthAdjust="spacing" stroke="#000" stroke-width="0.35">ACO</text>
<line x1="605.00" y1="187.20" x2="605.00" y2="163.00" stroke="#111" stroke-width="1.0" />
<line x1="606.70" y1="187.20" x2="606.70" y2="163.00" stroke="#555" stroke-width="0.7" />
<line x1="613.20" y1="187.20" x2="613.20" y2="146.00" stroke="#222" stroke-width="1.0" />
<line x1="625.20" y1="187.20" x2="625.20" y2="146.00" stroke="#222" stroke-width="1.0" />
<line x1="629.80" y1="187.20" x2="629.80" y2="163.00" stroke="#555" stroke-width="0.7" />
<line x1="633.40" y1="187.20" x2="633.40" y2="163.00" stroke="#111" stroke-width="1.0" />
<rect x="613.00" y="133.20" width="12.20" height="5.60" rx="1.8" stroke="#111" stroke-width="1.3" fill="#fff" />
<line x1="617.30" y1="134.20" x2="617.30" y2="138.00" stroke="#111" stroke-width="1.0" />
<line x1="620.90" y1="134.20" x2="620.90" y2="138.00" stroke="#111" stroke-width="1.0" />
<path d="M611.6,139.4 L612.6,143.3 L614.2,143.3 L614.6,146.2 L623.6,146.2 L624.0,143.3 L625.6,143.3 L626.6,139.4" stroke="#222" stroke-width="0.9" fill="#fff" />
<rect x="615.80" y="140.40" width="2.00" height="2.60" rx="0" stroke="#222" stroke-width="0.5" fill="#666" />
<rect x="620.40" y="140.40" width="2.00" height="2.60" rx="0" stroke="#222" stroke-width="0.5" fill="#666" />
<line x1="614.60" y1="144.40" x2="623.60" y2="144.40" stroke="#555" stroke-width="0.5" />
<ellipse cx="619.40" cy="152.90" rx="3.60" ry="1.25" stroke="#111" stroke-width="0.5" fill="#222" />
<ellipse cx="620.40" cy="152.90" rx="0.80" ry="0.60" stroke="#000" stroke-width="0" fill="#bbb" />
<text x="621.60" y="173.60" font-size="6.2" text-anchor="start" fill="#000" font-weight="bold" transform="rotate(-90 621.60 173.60)" textLength="15.20" lengthAdjust="spacing" stroke="#000" stroke-width="0.35">ACO</text>
<path d="M576.80,169.00 L576.80,165.00 C577.10,148.00 581.40,143.20 590.90,143.20 C600.40,143.20 604.70,148.00 605.00,165.00 L605.00,169.00" stroke="#000" stroke-width="1.3" fill="none" />
<path d="M574.30,161.00 Q577.80,149.20 584.80,140.00" stroke="#666" stroke-width="0.5" fill="none" />
<path d="M607.50,161.00 Q604.00,149.20 597.00,140.00" stroke="#666" stroke-width="0.5" fill="none" />
<line x1="590.90" y1="139.60" x2="590.90" y2="143.20" stroke="#666" stroke-width="0.5" />
<line x1="578.80" y1="151.20" x2="583.30" y2="154.70" stroke="#666" stroke-width="0.5" />
<line x1="603.00" y1="151.20" x2="598.50" y2="154.70" stroke="#666" stroke-width="0.5" />
<path d="M574.30,161.00 L578.30,167.50 L582.30,160.00" stroke="#666" stroke-width="0.5" fill="none" />
<path d="M607.50,161.00 L603.50,167.50 L599.50,160.00" stroke="#666" stroke-width="0.5" fill="none" />
<path d="M633.40,171 L633.40,165 C634.00,155 642.40,143.3 654.60,141.6 L657.10,139.6" stroke="#000" stroke-width="1.25" fill="none" />
<path d="M630.90,161 Q634.40,149 644.40,140" stroke="#666" stroke-width="0.5" fill="none" />
<path d="M630.90,161 L634.90,167.5 L638.40,158" stroke="#666" stroke-width="0.5" fill="none" />
<line x1="636.40" y1="150.50" x2="641.90" y2="155.00" stroke="#666" stroke-width="0.5" />
<ellipse cx="636.60" cy="146.20" rx="1.00" ry="1.00" stroke="#777" stroke-width="0.4" fill="none" />
<ellipse cx="639.60" cy="143.60" rx="1.00" ry="1.00" stroke="#777" stroke-width="0.4" fill="none" />
<ellipse cx="637.60" cy="150.60" rx="1.00" ry="1.00" stroke="#777" stroke-width="0.4" fill="none" />
<rect x="658.50" y="130.20" width="20.40" height="6.80" rx="0" stroke="#000" stroke-width="0" fill="#888" />
<rect x="660.40" y="137.00" width="18.50" height="2.60" rx="0" stroke="#555" stroke-width="0.6" fill="#fff" />
<rect x="655.00" y="134.40" width="3.80" height="3.00" rx="0" stroke="#000" stroke-width="0" fill="#444" />
<line x1="371.00" y1="187.60" x2="633.20" y2="187.60" stroke="#000" stroke-width="1.2" />
<line x1="371.00" y1="286.60" x2="633.20" y2="286.60" stroke="#000" stroke-width="1.2" />
<line x1="633.20" y1="187.60" x2="633.20" y2="286.60" stroke="#000" stroke-width="1.2" />
<path d="M371,187.6 L356.3,190.3 L356.3,229.6 L358.8,231.6 M358.8,239.4 L356.3,241.4 L356.3,284 L371,286.6" stroke="#000" stroke-width="1.2" fill="none" />
<line x1="358.20" y1="191.50" x2="358.20" y2="229.00" stroke="#111" stroke-width="0.9" />
<line x1="358.20" y1="242.00" x2="358.20" y2="283.00" stroke="#111" stroke-width="0.9" />
<path d="M357,193.0 L370,190.8 L370,192.60000000000002 L357,194.8 Z" stroke="#111" stroke-width="0.4" fill="#111" />
<path d="M357,281.2 L370,283.4 L370,281.59999999999997 L357,279.4 Z" stroke="#111" stroke-width="0.4" fill="#111" />
<path d="M357,197.79999999999998 L370,195.6 L370,197.4 L357,199.6 Z" stroke="#111" stroke-width="0.4" fill="#111" />
<path d="M357,276.40000000000003 L370,278.6 L370,276.8 L357,274.6 Z" stroke="#111" stroke-width="0.4" fill="#111" />
<path d="M357,207.39999999999998 L370,205.2 L370,207.0 L357,209.2 Z" stroke="#111" stroke-width="0.4" fill="#111" />
<path d="M357,266.8 L370,269.0 L370,267.2 L357,265.0 Z" stroke="#111" stroke-width="0.4" fill="#111" />
<path d="M357,211.39999999999998 L370,209.2 L370,211.0 L357,213.2 Z" stroke="#111" stroke-width="0.4" fill="#111" />
<path d="M357,262.8 L370,265.0 L370,263.2 L357,261.0 Z" stroke="#111" stroke-width="0.4" fill="#111" />
<line x1="370.50" y1="187.60" x2="370.50" y2="286.60" stroke="#888" stroke-width="1.7" />
<line x1="377.30" y1="187.60" x2="377.30" y2="286.60" stroke="#888" stroke-width="1.7" />
<line x1="391.00" y1="187.60" x2="391.00" y2="286.60" stroke="#555" stroke-width="0.9" />
<line x1="386.20" y1="191.60" x2="386.20" y2="220.20" stroke="#000" stroke-width="1.5" />
<line x1="386.20" y1="254.40" x2="386.20" y2="285.00" stroke="#000" stroke-width="1.5" />
<path d="M377.8,191.9 L398.8,191.9 L404.6,188.0" stroke="#111" stroke-width="1.1" fill="none" />
<path d="M377.8,282.3 L398.8,282.3 L404.6,286.20000000000005" stroke="#111" stroke-width="1.1" fill="none" />
<path d="M486.8,188.0 L492.6,192.4 L546.6,192.4 L552.4,188.0" stroke="#111" stroke-width="1.1" fill="none" />
<path d="M486.8,286.20000000000005 L492.6,283.0 L546.6,283.0 L552.4,286.20000000000005" stroke="#111" stroke-width="1.1" fill="none" />
<path d="M628,188.0 L622,192.0 L600,192.0" stroke="#111" stroke-width="0.9" fill="none" />
<path d="M628,286.20000000000005 L622,282.20000000000005 L600,282.20000000000005" stroke="#111" stroke-width="0.9" fill="none" />
<line x1="358.80" y1="231.20" x2="633.20" y2="231.20" stroke="#000" stroke-width="1.3" />
<line x1="358.80" y1="237.20" x2="633.20" y2="237.20" stroke="#111" stroke-width="0.9" />
<line x1="358.80" y1="239.40" x2="400.00" y2="239.40" stroke="#444" stroke-width="0.6" />
<path d="M377.40,237.2 L378.30,233.4 L381.30,233.4 L382.20,237.2 Z" stroke="#111" stroke-width="0.5" fill="#555" />
<path d="M402.75,237.2 L403.65,233.4 L406.65,233.4 L407.55,237.2 Z" stroke="#111" stroke-width="0.5" fill="#555" />
<path d="M428.10,237.2 L429.00,233.4 L432.00,233.4 L432.90,237.2 Z" stroke="#111" stroke-width="0.5" fill="#555" />
<path d="M453.45,237.2 L454.35,233.4 L457.35,233.4 L458.25,237.2 Z" stroke="#111" stroke-width="0.5" fill="#555" />
<path d="M478.80,237.2 L479.70,233.4 L482.70,233.4 L483.60,237.2 Z" stroke="#111" stroke-width="0.5" fill="#555" />
<path d="M504.15,237.2 L505.05,233.4 L508.05,233.4 L508.95,237.2 Z" stroke="#111" stroke-width="0.5" fill="#555" />
<path d="M529.50,237.2 L530.40,233.4 L533.40,233.4 L534.30,237.2 Z" stroke="#111" stroke-width="0.5" fill="#555" />
<path d="M554.85,237.2 L555.75,233.4 L558.75,233.4 L559.65,237.2 Z" stroke="#111" stroke-width="0.5" fill="#555" />
<path d="M580.20,237.2 L581.10,233.4 L584.10,233.4 L585.00,237.2 Z" stroke="#111" stroke-width="0.5" fill="#555" />
<path d="M605.55,237.2 L606.45,233.4 L609.45,233.4 L610.35,237.2 Z" stroke="#111" stroke-width="0.5" fill="#555" />
<path d="M398,197 L398,226.3 Q398,227.8 399.5,227.8 L414.9,227.8 Q416.4,227.8 416.4,226.3 L416.4,197" stroke="#333" stroke-width="1.1" fill="none" />
<path d="M402.78,198.00 Q396.38,212.40 402.78,226.80 Q409.18,212.40 402.78,198.00" stroke="#777" stroke-width="0.8" fill="none" />
<path d="M402.78,199.50 Q399.38,212.40 402.78,225.30 Q406.18,212.40 402.78,199.50" stroke="#999" stroke-width="0.8" fill="none" />
<path d="M411.62,198.00 Q405.22,212.40 411.62,226.80 Q418.02,212.40 411.62,198.00" stroke="#777" stroke-width="0.8" fill="none" />
<path d="M411.62,199.50 Q408.22,212.40 411.62,225.30 Q415.02,212.40 411.62,199.50" stroke="#999" stroke-width="0.8" fill="none" />
<line x1="407.20" y1="199.00" x2="407.20" y2="225.80" stroke="#999" stroke-width="0.5" />
<line x1="399.60" y1="198.00" x2="399.60" y2="225.80" stroke="#888" stroke-width="0.5" />
<line x1="414.80" y1="198.00" x2="414.80" y2="225.80" stroke="#888" stroke-width="0.5" />
<path d="M398,277.7 L398,247.8 Q398,246.3 399.5,246.3 L414.9,246.3 Q416.4,246.3 416.4,247.8 L416.4,277.7" stroke="#333" stroke-width="1.1" fill="none" />
<path d="M402.78,247.30 Q396.38,262.00 402.78,276.70 Q409.18,262.00 402.78,247.30" stroke="#777" stroke-width="0.8" fill="none" />
<path d="M402.78,248.80 Q399.38,262.00 402.78,275.20 Q406.18,262.00 402.78,248.80" stroke="#999" stroke-width="0.8" fill="none" />
<path d="M411.62,247.30 Q405.22,262.00 411.62,276.70 Q418.02,262.00 411.62,247.30" stroke="#777" stroke-width="0.8" fill="none" />
<path d="M411.62,248.80 Q408.22,262.00 411.62,275.20 Q415.02,262.00 411.62,248.80" stroke="#999" stroke-width="0.8" fill="none" />
<line x1="407.20" y1="248.30" x2="407.20" y2="275.70" stroke="#999" stroke-width="0.5" />
<line x1="399.60" y1="247.30" x2="399.60" y2="275.70" stroke="#888" stroke-width="0.5" />
<line x1="414.80" y1="247.30" x2="414.80" y2="275.70" stroke="#888" stroke-width="0.5" />
<line x1="401.92" y1="238.50" x2="401.92" y2="246.30" stroke="#333" stroke-width="0.8" />
<line x1="405.12" y1="238.50" x2="405.12" y2="246.30" stroke="#333" stroke-width="0.8" />
<line x1="409.28" y1="238.50" x2="409.28" y2="246.30" stroke="#333" stroke-width="0.8" />
<line x1="412.48" y1="238.50" x2="412.48" y2="246.30" stroke="#333" stroke-width="0.8" />
<path d="M424.8,197 L424.8,226.3 Q424.8,227.8 426.3,227.8 L442.6,227.8 Q444.1,227.8 444.1,226.3 L444.1,197" stroke="#333" stroke-width="1.1" fill="none" />
<path d="M429.82,198.00 Q423.42,212.40 429.82,226.80 Q436.22,212.40 429.82,198.00" stroke="#777" stroke-width="0.8" fill="none" />
<path d="M429.82,199.50 Q426.42,212.40 429.82,225.30 Q433.22,212.40 429.82,199.50" stroke="#999" stroke-width="0.8" fill="none" />
<path d="M439.08,198.00 Q432.68,212.40 439.08,226.80 Q445.48,212.40 439.08,198.00" stroke="#777" stroke-width="0.8" fill="none" />
<path d="M439.08,199.50 Q435.68,212.40 439.08,225.30 Q442.48,212.40 439.08,199.50" stroke="#999" stroke-width="0.8" fill="none" />
<line x1="434.45" y1="199.00" x2="434.45" y2="225.80" stroke="#999" stroke-width="0.5" />
<line x1="426.40" y1="198.00" x2="426.40" y2="225.80" stroke="#888" stroke-width="0.5" />
<line x1="442.50" y1="198.00" x2="442.50" y2="225.80" stroke="#888" stroke-width="0.5" />
<path d="M424.8,277.7 L424.8,247.8 Q424.8,246.3 426.3,246.3 L442.6,246.3 Q444.1,246.3 444.1,247.8 L444.1,277.7" stroke="#333" stroke-width="1.1" fill="none" />
<path d="M429.82,247.30 Q423.42,262.00 429.82,276.70 Q436.22,262.00 429.82,247.30" stroke="#777" stroke-width="0.8" fill="none" />
<path d="M429.82,248.80 Q426.42,262.00 429.82,275.20 Q433.22,262.00 429.82,248.80" stroke="#999" stroke-width="0.8" fill="none" />
<path d="M439.08,247.30 Q432.68,262.00 439.08,276.70 Q445.48,262.00 439.08,247.30" stroke="#777" stroke-width="0.8" fill="none" />
<path d="M439.08,248.80 Q435.68,262.00 439.08,275.20 Q442.48,262.00 439.08,248.80" stroke="#999" stroke-width="0.8" fill="none" />
<line x1="434.45" y1="248.30" x2="434.45" y2="275.70" stroke="#999" stroke-width="0.5" />
<line x1="426.40" y1="247.30" x2="426.40" y2="275.70" stroke="#888" stroke-width="0.5" />
<line x1="442.50" y1="247.30" x2="442.50" y2="275.70" stroke="#888" stroke-width="0.5" />
<line x1="428.99" y1="238.50" x2="428.99" y2="246.30" stroke="#333" stroke-width="0.8" />
<line x1="432.19" y1="238.50" x2="432.19" y2="246.30" stroke="#333" stroke-width="0.8" />
<line x1="436.71" y1="238.50" x2="436.71" y2="246.30" stroke="#333" stroke-width="0.8" />
<line x1="439.91" y1="238.50" x2="439.91" y2="246.30" stroke="#333" stroke-width="0.8" />
<path d="M454.2,197 L454.2,226.3 Q454.2,227.8 455.7,227.8 L471.2,227.8 Q472.7,227.8 472.7,226.3 L472.7,197" stroke="#333" stroke-width="1.1" fill="none" />
<path d="M459.01,198.00 Q452.61,212.40 459.01,226.80 Q465.41,212.40 459.01,198.00" stroke="#777" stroke-width="0.8" fill="none" />
<path d="M459.01,199.50 Q455.61,212.40 459.01,225.30 Q462.41,212.40 459.01,199.50" stroke="#999" stroke-width="0.8" fill="none" />
<path d="M467.89,198.00 Q461.49,212.40 467.89,226.80 Q474.29,212.40 467.89,198.00" stroke="#777" stroke-width="0.8" fill="none" />
<path d="M467.89,199.50 Q464.49,212.40 467.89,225.30 Q471.29,212.40 467.89,199.50" stroke="#999" stroke-width="0.8" fill="none" />
<line x1="463.45" y1="199.00" x2="463.45" y2="225.80" stroke="#999" stroke-width="0.5" />
<line x1="455.80" y1="198.00" x2="455.80" y2="225.80" stroke="#888" stroke-width="0.5" />
<line x1="471.10" y1="198.00" x2="471.10" y2="225.80" stroke="#888" stroke-width="0.5" />
<path d="M454.2,277.7 L454.2,247.8 Q454.2,246.3 455.7,246.3 L471.2,246.3 Q472.7,246.3 472.7,247.8 L472.7,277.7" stroke="#333" stroke-width="1.1" fill="none" />
<path d="M459.01,247.30 Q452.61,262.00 459.01,276.70 Q465.41,262.00 459.01,247.30" stroke="#777" stroke-width="0.8" fill="none" />
<path d="M459.01,248.80 Q455.61,262.00 459.01,275.20 Q462.41,262.00 459.01,248.80" stroke="#999" stroke-width="0.8" fill="none" />
<path d="M467.89,247.30 Q461.49,262.00 467.89,276.70 Q474.29,262.00 467.89,247.30" stroke="#777" stroke-width="0.8" fill="none" />
<path d="M467.89,248.80 Q464.49,262.00 467.89,275.20 Q471.29,262.00 467.89,248.80" stroke="#999" stroke-width="0.8" fill="none" />
<line x1="463.45" y1="248.30" x2="463.45" y2="275.70" stroke="#999" stroke-width="0.5" />
<line x1="455.80" y1="247.30" x2="455.80" y2="275.70" stroke="#888" stroke-width="0.5" />
<line x1="471.10" y1="247.30" x2="471.10" y2="275.70" stroke="#888" stroke-width="0.5" />
<line x1="458.15" y1="238.50" x2="458.15" y2="246.30" stroke="#333" stroke-width="0.8" />
<line x1="461.35" y1="238.50" x2="461.35" y2="246.30" stroke="#333" stroke-width="0.8" />
<line x1="465.55" y1="238.50" x2="465.55" y2="246.30" stroke="#333" stroke-width="0.8" />
<line x1="468.75" y1="238.50" x2="468.75" y2="246.30" stroke="#333" stroke-width="0.8" />
<path d="M481.7,197 L481.7,226.3 Q481.7,227.8 483.2,227.8 L497.9,227.8 Q499.4,227.8 499.4,226.3 L499.4,197" stroke="#333" stroke-width="1.1" fill="none" />
<path d="M486.30,198.00 Q479.90,212.40 486.30,226.80 Q492.70,212.40 486.30,198.00" stroke="#777" stroke-width="0.8" fill="none" />
<path d="M486.30,199.50 Q482.90,212.40 486.30,225.30 Q489.70,212.40 486.30,199.50" stroke="#999" stroke-width="0.8" fill="none" />
<path d="M494.80,198.00 Q488.40,212.40 494.80,226.80 Q501.20,212.40 494.80,198.00" stroke="#777" stroke-width="0.8" fill="none" />
<path d="M494.80,199.50 Q491.40,212.40 494.80,225.30 Q498.20,212.40 494.80,199.50" stroke="#999" stroke-width="0.8" fill="none" />
<line x1="490.55" y1="199.00" x2="490.55" y2="225.80" stroke="#999" stroke-width="0.5" />
<line x1="483.30" y1="198.00" x2="483.30" y2="225.80" stroke="#888" stroke-width="0.5" />
<line x1="497.80" y1="198.00" x2="497.80" y2="225.80" stroke="#888" stroke-width="0.5" />
<path d="M481.7,277.7 L481.7,247.8 Q481.7,246.3 483.2,246.3 L497.9,246.3 Q499.4,246.3 499.4,247.8 L499.4,277.7" stroke="#333" stroke-width="1.1" fill="none" />
<path d="M486.30,247.30 Q479.90,262.00 486.30,276.70 Q492.70,262.00 486.30,247.30" stroke="#777" stroke-width="0.8" fill="none" />
<path d="M486.30,248.80 Q482.90,262.00 486.30,275.20 Q489.70,262.00 486.30,248.80" stroke="#999" stroke-width="0.8" fill="none" />
<path d="M494.80,247.30 Q488.40,262.00 494.80,276.70 Q501.20,262.00 494.80,247.30" stroke="#777" stroke-width="0.8" fill="none" />
<path d="M494.80,248.80 Q491.40,262.00 494.80,275.20 Q498.20,262.00 494.80,248.80" stroke="#999" stroke-width="0.8" fill="none" />
<line x1="490.55" y1="248.30" x2="490.55" y2="275.70" stroke="#999" stroke-width="0.5" />
<line x1="483.30" y1="247.30" x2="483.30" y2="275.70" stroke="#888" stroke-width="0.5" />
<line x1="497.80" y1="247.30" x2="497.80" y2="275.70" stroke="#888" stroke-width="0.5" />
<line x1="485.41" y1="238.50" x2="485.41" y2="246.30" stroke="#333" stroke-width="0.8" />
<line x1="488.61" y1="238.50" x2="488.61" y2="246.30" stroke="#333" stroke-width="0.8" />
<line x1="492.49" y1="238.50" x2="492.49" y2="246.30" stroke="#333" stroke-width="0.8" />
<line x1="495.69" y1="238.50" x2="495.69" y2="246.30" stroke="#333" stroke-width="0.8" />
<path d="M500.8,197 L500.8,226.3 Q500.8,227.8 502.3,227.8 L514.3,227.8 Q515.8,227.8 515.8,226.3 L515.8,197" stroke="#333" stroke-width="1.1" fill="none" />
<path d="M504.70,198.00 Q498.30,212.40 504.70,226.80 Q511.10,212.40 504.70,198.00" stroke="#777" stroke-width="0.8" fill="none" />
<path d="M504.70,199.50 Q501.30,212.40 504.70,225.30 Q508.10,212.40 504.70,199.50" stroke="#999" stroke-width="0.8" fill="none" />
<path d="M511.90,198.00 Q505.50,212.40 511.90,226.80 Q518.30,212.40 511.90,198.00" stroke="#777" stroke-width="0.8" fill="none" />
<path d="M511.90,199.50 Q508.50,212.40 511.90,225.30 Q515.30,212.40 511.90,199.50" stroke="#999" stroke-width="0.8" fill="none" />
<line x1="508.30" y1="199.00" x2="508.30" y2="225.80" stroke="#999" stroke-width="0.5" />
<line x1="502.40" y1="198.00" x2="502.40" y2="225.80" stroke="#888" stroke-width="0.5" />
<line x1="514.20" y1="198.00" x2="514.20" y2="225.80" stroke="#888" stroke-width="0.5" />
<path d="M500.8,277.7 L500.8,247.8 Q500.8,246.3 502.3,246.3 L514.3,246.3 Q515.8,246.3 515.8,247.8 L515.8,277.7" stroke="#333" stroke-width="1.1" fill="none" />
<path d="M504.70,247.30 Q498.30,262.00 504.70,276.70 Q511.10,262.00 504.70,247.30" stroke="#777" stroke-width="0.8" fill="none" />
<path d="M504.70,248.80 Q501.30,262.00 504.70,275.20 Q508.10,262.00 504.70,248.80" stroke="#999" stroke-width="0.8" fill="none" />
<path d="M511.90,247.30 Q505.50,262.00 511.90,276.70 Q518.30,262.00 511.90,247.30" stroke="#777" stroke-width="0.8" fill="none" />
<path d="M511.90,248.80 Q508.50,262.00 511.90,275.20 Q515.30,262.00 511.90,248.80" stroke="#999" stroke-width="0.8" fill="none" />
<line x1="508.30" y1="248.30" x2="508.30" y2="275.70" stroke="#999" stroke-width="0.5" />
<line x1="502.40" y1="247.30" x2="502.40" y2="275.70" stroke="#888" stroke-width="0.5" />
<line x1="514.20" y1="247.30" x2="514.20" y2="275.70" stroke="#888" stroke-width="0.5" />
<line x1="503.70" y1="238.50" x2="503.70" y2="246.30" stroke="#333" stroke-width="0.8" />
<line x1="506.90" y1="238.50" x2="506.90" y2="246.30" stroke="#333" stroke-width="0.8" />
<line x1="509.70" y1="238.50" x2="509.70" y2="246.30" stroke="#333" stroke-width="0.8" />
<line x1="512.90" y1="238.50" x2="512.90" y2="246.30" stroke="#333" stroke-width="0.8" />
<path d="M523.3,197 L523.3,226.3 Q523.3,227.8 524.8,227.8 L537.5,227.8 Q539,227.8 539,226.3 L539,197" stroke="#333" stroke-width="1.1" fill="none" />
<path d="M527.38,198.00 Q520.98,212.40 527.38,226.80 Q533.78,212.40 527.38,198.00" stroke="#777" stroke-width="0.8" fill="none" />
<path d="M527.38,199.50 Q523.98,212.40 527.38,225.30 Q530.78,212.40 527.38,199.50" stroke="#999" stroke-width="0.8" fill="none" />
<path d="M534.92,198.00 Q528.52,212.40 534.92,226.80 Q541.32,212.40 534.92,198.00" stroke="#777" stroke-width="0.8" fill="none" />
<path d="M534.92,199.50 Q531.52,212.40 534.92,225.30 Q538.32,212.40 534.92,199.50" stroke="#999" stroke-width="0.8" fill="none" />
<line x1="531.15" y1="199.00" x2="531.15" y2="225.80" stroke="#999" stroke-width="0.5" />
<line x1="524.90" y1="198.00" x2="524.90" y2="225.80" stroke="#888" stroke-width="0.5" />
<line x1="537.40" y1="198.00" x2="537.40" y2="225.80" stroke="#888" stroke-width="0.5" />
<path d="M523.3,277.7 L523.3,247.8 Q523.3,246.3 524.8,246.3 L537.5,246.3 Q539,246.3 539,247.8 L539,277.7" stroke="#333" stroke-width="1.1" fill="none" />
<path d="M527.38,247.30 Q520.98,262.00 527.38,276.70 Q533.78,262.00 527.38,247.30" stroke="#777" stroke-width="0.8" fill="none" />
<path d="M527.38,248.80 Q523.98,262.00 527.38,275.20 Q530.78,262.00 527.38,248.80" stroke="#999" stroke-width="0.8" fill="none" />
<path d="M534.92,247.30 Q528.52,262.00 534.92,276.70 Q541.32,262.00 534.92,247.30" stroke="#777" stroke-width="0.8" fill="none" />
<path d="M534.92,248.80 Q531.52,262.00 534.92,275.20 Q538.32,262.00 534.92,248.80" stroke="#999" stroke-width="0.8" fill="none" />
<line x1="531.15" y1="248.30" x2="531.15" y2="275.70" stroke="#999" stroke-width="0.5" />
<line x1="524.90" y1="247.30" x2="524.90" y2="275.70" stroke="#888" stroke-width="0.5" />
<line x1="537.40" y1="247.30" x2="537.40" y2="275.70" stroke="#888" stroke-width="0.5" />
<line x1="526.41" y1="238.50" x2="526.41" y2="246.30" stroke="#333" stroke-width="0.8" />
<line x1="529.61" y1="238.50" x2="529.61" y2="246.30" stroke="#333" stroke-width="0.8" />
<line x1="532.69" y1="238.50" x2="532.69" y2="246.30" stroke="#333" stroke-width="0.8" />
<line x1="535.89" y1="238.50" x2="535.89" y2="246.30" stroke="#333" stroke-width="0.8" />
<path d="M540.4,197 L540.4,226.3 Q540.4,227.8 541.9,227.8 L555.3,227.8 Q556.8,227.8 556.8,226.3 L556.8,197" stroke="#333" stroke-width="1.1" fill="none" />
<path d="M544.66,198.00 Q538.26,212.40 544.66,226.80 Q551.06,212.40 544.66,198.00" stroke="#777" stroke-width="0.8" fill="none" />
<path d="M544.66,199.50 Q541.26,212.40 544.66,225.30 Q548.06,212.40 544.66,199.50" stroke="#999" stroke-width="0.8" fill="none" />
<path d="M552.54,198.00 Q546.14,212.40 552.54,226.80 Q558.94,212.40 552.54,198.00" stroke="#777" stroke-width="0.8" fill="none" />
<path d="M552.54,199.50 Q549.14,212.40 552.54,225.30 Q555.94,212.40 552.54,199.50" stroke="#999" stroke-width="0.8" fill="none" />
<line x1="548.60" y1="199.00" x2="548.60" y2="225.80" stroke="#999" stroke-width="0.5" />
<line x1="542.00" y1="198.00" x2="542.00" y2="225.80" stroke="#888" stroke-width="0.5" />
<line x1="555.20" y1="198.00" x2="555.20" y2="225.80" stroke="#888" stroke-width="0.5" />
<path d="M540.4,277.7 L540.4,247.8 Q540.4,246.3 541.9,246.3 L555.3,246.3 Q556.8,246.3 556.8,247.8 L556.8,277.7" stroke="#333" stroke-width="1.1" fill="none" />
<path d="M544.66,247.30 Q538.26,262.00 544.66,276.70 Q551.06,262.00 544.66,247.30" stroke="#777" stroke-width="0.8" fill="none" />
<path d="M544.66,248.80 Q541.26,262.00 544.66,275.20 Q548.06,262.00 544.66,248.80" stroke="#999" stroke-width="0.8" fill="none" />
<path d="M552.54,247.30 Q546.14,262.00 552.54,276.70 Q558.94,262.00 552.54,247.30" stroke="#777" stroke-width="0.8" fill="none" />
<path d="M552.54,248.80 Q549.14,262.00 552.54,275.20 Q555.94,262.00 552.54,248.80" stroke="#999" stroke-width="0.8" fill="none" />
<line x1="548.60" y1="248.30" x2="548.60" y2="275.70" stroke="#999" stroke-width="0.5" />
<line x1="542.00" y1="247.30" x2="542.00" y2="275.70" stroke="#888" stroke-width="0.5" />
<line x1="555.20" y1="247.30" x2="555.20" y2="275.70" stroke="#888" stroke-width="0.5" />
<line x1="543.72" y1="238.50" x2="543.72" y2="246.30" stroke="#333" stroke-width="0.8" />
<line x1="546.92" y1="238.50" x2="546.92" y2="246.30" stroke="#333" stroke-width="0.8" />
<line x1="550.28" y1="238.50" x2="550.28" y2="246.30" stroke="#333" stroke-width="0.8" />
<line x1="553.48" y1="238.50" x2="553.48" y2="246.30" stroke="#333" stroke-width="0.8" />
<path d="M567,197 L567,226.3 Q567,227.8 568.5,227.8 L583.9,227.8 Q585.4,227.8 585.4,226.3 L585.4,197" stroke="#333" stroke-width="1.1" fill="none" />
<path d="M571.78,198.00 Q565.38,212.40 571.78,226.80 Q578.18,212.40 571.78,198.00" stroke="#777" stroke-width="0.8" fill="none" />
<path d="M571.78,199.50 Q568.38,212.40 571.78,225.30 Q575.18,212.40 571.78,199.50" stroke="#999" stroke-width="0.8" fill="none" />
<path d="M580.62,198.00 Q574.22,212.40 580.62,226.80 Q587.02,212.40 580.62,198.00" stroke="#777" stroke-width="0.8" fill="none" />
<path d="M580.62,199.50 Q577.22,212.40 580.62,225.30 Q584.02,212.40 580.62,199.50" stroke="#999" stroke-width="0.8" fill="none" />
<line x1="576.20" y1="199.00" x2="576.20" y2="225.80" stroke="#999" stroke-width="0.5" />
<line x1="568.60" y1="198.00" x2="568.60" y2="225.80" stroke="#888" stroke-width="0.5" />
<line x1="583.80" y1="198.00" x2="583.80" y2="225.80" stroke="#888" stroke-width="0.5" />
<path d="M567,277.7 L567,247.8 Q567,246.3 568.5,246.3 L583.9,246.3 Q585.4,246.3 585.4,247.8 L585.4,277.7" stroke="#333" stroke-width="1.1" fill="none" />
<path d="M571.78,247.30 Q565.38,262.00 571.78,276.70 Q578.18,262.00 571.78,247.30" stroke="#777" stroke-width="0.8" fill="none" />
<path d="M571.78,248.80 Q568.38,262.00 571.78,275.20 Q575.18,262.00 571.78,248.80" stroke="#999" stroke-width="0.8" fill="none" />
<path d="M580.62,247.30 Q574.22,262.00 580.62,276.70 Q587.02,262.00 580.62,247.30" stroke="#777" stroke-width="0.8" fill="none" />
<path d="M580.62,248.80 Q577.22,262.00 580.62,275.20 Q584.02,262.00 580.62,248.80" stroke="#999" stroke-width="0.8" fill="none" />
<line x1="576.20" y1="248.30" x2="576.20" y2="275.70" stroke="#999" stroke-width="0.5" />
<line x1="568.60" y1="247.30" x2="568.60" y2="275.70" stroke="#888" stroke-width="0.5" />
<line x1="583.80" y1="247.30" x2="583.80" y2="275.70" stroke="#888" stroke-width="0.5" />
<line x1="570.92" y1="238.50" x2="570.92" y2="246.30" stroke="#333" stroke-width="0.8" />
<line x1="574.12" y1="238.50" x2="574.12" y2="246.30" stroke="#333" stroke-width="0.8" />
<line x1="578.28" y1="238.50" x2="578.28" y2="246.30" stroke="#333" stroke-width="0.8" />
<line x1="581.48" y1="238.50" x2="581.48" y2="246.30" stroke="#333" stroke-width="0.8" />
<path d="M596.2,197 L596.2,226.3 Q596.2,227.8 597.7,227.8 L613.1,227.8 Q614.6,227.8 614.6,226.3 L614.6,197" stroke="#333" stroke-width="1.1" fill="none" />
<path d="M600.98,198.00 Q594.58,212.40 600.98,226.80 Q607.38,212.40 600.98,198.00" stroke="#777" stroke-width="0.8" fill="none" />
<path d="M600.98,199.50 Q597.58,212.40 600.98,225.30 Q604.38,212.40 600.98,199.50" stroke="#999" stroke-width="0.8" fill="none" />
<path d="M609.82,198.00 Q603.42,212.40 609.82,226.80 Q616.22,212.40 609.82,198.00" stroke="#777" stroke-width="0.8" fill="none" />
<path d="M609.82,199.50 Q606.42,212.40 609.82,225.30 Q613.22,212.40 609.82,199.50" stroke="#999" stroke-width="0.8" fill="none" />
<line x1="605.40" y1="199.00" x2="605.40" y2="225.80" stroke="#999" stroke-width="0.5" />
<line x1="597.80" y1="198.00" x2="597.80" y2="225.80" stroke="#888" stroke-width="0.5" />
<line x1="613.00" y1="198.00" x2="613.00" y2="225.80" stroke="#888" stroke-width="0.5" />
<path d="M596.2,277.7 L596.2,247.8 Q596.2,246.3 597.7,246.3 L613.1,246.3 Q614.6,246.3 614.6,247.8 L614.6,277.7" stroke="#333" stroke-width="1.1" fill="none" />
<path d="M600.98,247.30 Q594.58,262.00 600.98,276.70 Q607.38,262.00 600.98,247.30" stroke="#777" stroke-width="0.8" fill="none" />
<path d="M600.98,248.80 Q597.58,262.00 600.98,275.20 Q604.38,262.00 600.98,248.80" stroke="#999" stroke-width="0.8" fill="none" />
<path d="M609.82,247.30 Q603.42,262.00 609.82,276.70 Q616.22,262.00 609.82,247.30" stroke="#777" stroke-width="0.8" fill="none" />
<path d="M609.82,248.80 Q606.42,262.00 609.82,275.20 Q613.22,262.00 609.82,248.80" stroke="#999" stroke-width="0.8" fill="none" />
<line x1="605.40" y1="248.30" x2="605.40" y2="275.70" stroke="#999" stroke-width="0.5" />
<line x1="597.80" y1="247.30" x2="597.80" y2="275.70" stroke="#888" stroke-width="0.5" />
<line x1="613.00" y1="247.30" x2="613.00" y2="275.70" stroke="#888" stroke-width="0.5" />
<line x1="600.12" y1="238.50" x2="600.12" y2="246.30" stroke="#333" stroke-width="0.8" />
<line x1="603.32" y1="238.50" x2="603.32" y2="246.30" stroke="#333" stroke-width="0.8" />
<line x1="607.48" y1="238.50" x2="607.48" y2="246.30" stroke="#333" stroke-width="0.8" />
<line x1="610.68" y1="238.50" x2="610.68" y2="246.30" stroke="#333" stroke-width="0.8" />
<path d="M623,197 L623,226.3 Q623,227.8 624.5,227.8 L639.1,227.8 Q640.6,227.8 640.6,226.3 L640.6,197" stroke="#333" stroke-width="1.1" fill="none" />
<path d="M627.58,198.00 Q621.18,212.40 627.58,226.80 Q633.98,212.40 627.58,198.00" stroke="#777" stroke-width="0.8" fill="none" />
<path d="M627.58,199.50 Q624.18,212.40 627.58,225.30 Q630.98,212.40 627.58,199.50" stroke="#999" stroke-width="0.8" fill="none" />
<path d="M636.02,198.00 Q629.62,212.40 636.02,226.80 Q642.42,212.40 636.02,198.00" stroke="#777" stroke-width="0.8" fill="none" />
<path d="M636.02,199.50 Q632.62,212.40 636.02,225.30 Q639.42,212.40 636.02,199.50" stroke="#999" stroke-width="0.8" fill="none" />
<line x1="631.80" y1="199.00" x2="631.80" y2="225.80" stroke="#999" stroke-width="0.5" />
<line x1="624.60" y1="198.00" x2="624.60" y2="225.80" stroke="#888" stroke-width="0.5" />
<line x1="639.00" y1="198.00" x2="639.00" y2="225.80" stroke="#888" stroke-width="0.5" />
<path d="M623,277.7 L623,247.8 Q623,246.3 624.5,246.3 L639.1,246.3 Q640.6,246.3 640.6,247.8 L640.6,277.7" stroke="#333" stroke-width="1.1" fill="none" />
<path d="M627.58,247.30 Q621.18,262.00 627.58,276.70 Q633.98,262.00 627.58,247.30" stroke="#777" stroke-width="0.8" fill="none" />
<path d="M627.58,248.80 Q624.18,262.00 627.58,275.20 Q630.98,262.00 627.58,248.80" stroke="#999" stroke-width="0.8" fill="none" />
<path d="M636.02,247.30 Q629.62,262.00 636.02,276.70 Q642.42,262.00 636.02,247.30" stroke="#777" stroke-width="0.8" fill="none" />
<path d="M636.02,248.80 Q632.62,262.00 636.02,275.20 Q639.42,262.00 636.02,248.80" stroke="#999" stroke-width="0.8" fill="none" />
<line x1="631.80" y1="248.30" x2="631.80" y2="275.70" stroke="#999" stroke-width="0.5" />
<line x1="624.60" y1="247.30" x2="624.60" y2="275.70" stroke="#888" stroke-width="0.5" />
<line x1="639.00" y1="247.30" x2="639.00" y2="275.70" stroke="#888" stroke-width="0.5" />
<line x1="626.68" y1="238.50" x2="626.68" y2="246.30" stroke="#333" stroke-width="0.8" />
<line x1="629.88" y1="238.50" x2="629.88" y2="246.30" stroke="#333" stroke-width="0.8" />
<line x1="633.72" y1="238.50" x2="633.72" y2="246.30" stroke="#333" stroke-width="0.8" />
<line x1="636.92" y1="238.50" x2="636.92" y2="246.30" stroke="#333" stroke-width="0.8" />
<rect x="418.50" y="188.40" width="3.80" height="8.80" rx="1.2" stroke="#111" stroke-width="0.8" fill="#fff" />
<rect x="418.50" y="277.40" width="3.80" height="8.40" rx="1.2" stroke="#111" stroke-width="0.8" fill="#fff" />
<line x1="416.00" y1="191.00" x2="416.00" y2="227.20" stroke="#000" stroke-width="1.5" />
<line x1="416.00" y1="246.80" x2="416.00" y2="283.00" stroke="#000" stroke-width="1.5" />
<line x1="424.80" y1="191.00" x2="424.80" y2="227.20" stroke="#000" stroke-width="1.5" />
<line x1="424.80" y1="246.80" x2="424.80" y2="283.00" stroke="#000" stroke-width="1.5" />
<rect x="475.60" y="188.40" width="3.80" height="8.80" rx="1.2" stroke="#111" stroke-width="0.8" fill="#fff" />
<rect x="475.60" y="277.40" width="3.80" height="8.40" rx="1.2" stroke="#111" stroke-width="0.8" fill="#fff" />
<line x1="473.10" y1="191.00" x2="473.10" y2="227.20" stroke="#000" stroke-width="1.5" />
<line x1="473.10" y1="246.80" x2="473.10" y2="283.00" stroke="#000" stroke-width="1.5" />
<line x1="481.90" y1="191.00" x2="481.90" y2="227.20" stroke="#000" stroke-width="1.5" />
<line x1="481.90" y1="246.80" x2="481.90" y2="283.00" stroke="#000" stroke-width="1.5" />
<rect x="560.70" y="188.40" width="3.80" height="8.80" rx="1.2" stroke="#111" stroke-width="0.8" fill="#fff" />
<rect x="560.70" y="277.40" width="3.80" height="8.40" rx="1.2" stroke="#111" stroke-width="0.8" fill="#fff" />
<line x1="558.20" y1="191.00" x2="558.20" y2="227.20" stroke="#000" stroke-width="1.5" />
<line x1="558.20" y1="246.80" x2="558.20" y2="283.00" stroke="#000" stroke-width="1.5" />
<line x1="567.00" y1="191.00" x2="567.00" y2="227.20" stroke="#000" stroke-width="1.5" />
<line x1="567.00" y1="246.80" x2="567.00" y2="283.00" stroke="#000" stroke-width="1.5" />
<rect x="616.70" y="188.40" width="3.80" height="8.80" rx="1.2" stroke="#111" stroke-width="0.8" fill="#fff" />
<rect x="616.70" y="277.40" width="3.80" height="8.40" rx="1.2" stroke="#111" stroke-width="0.8" fill="#fff" />
<line x1="614.20" y1="191.00" x2="614.20" y2="227.20" stroke="#000" stroke-width="1.5" />
<line x1="614.20" y1="246.80" x2="614.20" y2="283.00" stroke="#000" stroke-width="1.5" />
<line x1="623.00" y1="191.00" x2="623.00" y2="227.20" stroke="#000" stroke-width="1.5" />
<line x1="623.00" y1="246.80" x2="623.00" y2="283.00" stroke="#000" stroke-width="1.5" />
<rect x="444.60" y="188.20" width="8.80" height="8.80" rx="0" stroke="#000" stroke-width="0" fill="#111" />
<line x1="446.00" y1="189.81" x2="452.00" y2="189.81" stroke="#ddd" stroke-width="0.5" stroke-dasharray="1.2 0.8"/>
<line x1="446.00" y1="192.75" x2="452.00" y2="192.75" stroke="#ddd" stroke-width="0.5" stroke-dasharray="1.2 0.8"/>
<line x1="446.00" y1="195.68" x2="452.00" y2="195.68" stroke="#ddd" stroke-width="0.5" stroke-dasharray="1.2 0.8"/>
<rect x="444.60" y="277.60" width="8.80" height="8.40" rx="0" stroke="#000" stroke-width="0" fill="#111" />
<line x1="446.00" y1="279.14" x2="452.00" y2="279.14" stroke="#ddd" stroke-width="0.5" stroke-dasharray="1.2 0.8"/>
<line x1="446.00" y1="281.94" x2="452.00" y2="281.94" stroke="#ddd" stroke-width="0.5" stroke-dasharray="1.2 0.8"/>
<line x1="446.00" y1="284.74" x2="452.00" y2="284.74" stroke="#ddd" stroke-width="0.5" stroke-dasharray="1.2 0.8"/>
<rect x="446.20" y="197.00" width="5.60" height="9.00" rx="0" stroke="#777" stroke-width="0.5" fill="none" />
<rect x="446.20" y="268.60" width="5.60" height="9.00" rx="0" stroke="#777" stroke-width="0.5" fill="none" />
<rect x="586.20" y="188.20" width="8.80" height="8.80" rx="0" stroke="#000" stroke-width="0" fill="#111" />
<line x1="587.60" y1="189.81" x2="593.60" y2="189.81" stroke="#ddd" stroke-width="0.5" stroke-dasharray="1.2 0.8"/>
<line x1="587.60" y1="192.75" x2="593.60" y2="192.75" stroke="#ddd" stroke-width="0.5" stroke-dasharray="1.2 0.8"/>
<line x1="587.60" y1="195.68" x2="593.60" y2="195.68" stroke="#ddd" stroke-width="0.5" stroke-dasharray="1.2 0.8"/>
<rect x="586.20" y="277.60" width="8.80" height="8.40" rx="0" stroke="#000" stroke-width="0" fill="#111" />
<line x1="587.60" y1="279.14" x2="593.60" y2="279.14" stroke="#ddd" stroke-width="0.5" stroke-dasharray="1.2 0.8"/>
<line x1="587.60" y1="281.94" x2="593.60" y2="281.94" stroke="#ddd" stroke-width="0.5" stroke-dasharray="1.2 0.8"/>
<line x1="587.60" y1="284.74" x2="593.60" y2="284.74" stroke="#ddd" stroke-width="0.5" stroke-dasharray="1.2 0.8"/>
<rect x="587.80" y="197.00" width="5.60" height="9.00" rx="0" stroke="#777" stroke-width="0.5" fill="none" />
<rect x="587.80" y="268.60" width="5.60" height="9.00" rx="0" stroke="#777" stroke-width="0.5" fill="none" />
<line x1="519.50" y1="195.60" x2="519.50" y2="278.40" stroke="#000" stroke-width="1.9" />
<line x1="499.70" y1="188.20" x2="499.70" y2="227.00" stroke="#111" stroke-width="0.9" />
<line x1="499.70" y1="246.50" x2="499.70" y2="286.00" stroke="#111" stroke-width="0.9" />
<line x1="515.80" y1="188.20" x2="515.80" y2="227.00" stroke="#111" stroke-width="0.9" />
<line x1="515.80" y1="246.50" x2="515.80" y2="286.00" stroke="#111" stroke-width="0.9" />
<line x1="524.00" y1="188.20" x2="524.00" y2="227.00" stroke="#111" stroke-width="0.9" />
<line x1="524.00" y1="246.50" x2="524.00" y2="286.00" stroke="#111" stroke-width="0.9" />
<line x1="539.70" y1="188.20" x2="539.70" y2="227.00" stroke="#111" stroke-width="0.9" />
<line x1="539.70" y1="246.50" x2="539.70" y2="286.00" stroke="#111" stroke-width="0.9" />
<line x1="398.00" y1="196.00" x2="398.00" y2="228.00" stroke="#111" stroke-width="1.2" />
<line x1="398.00" y1="246.00" x2="398.00" y2="278.00" stroke="#111" stroke-width="1.2" />
<line x1="416.40" y1="196.00" x2="416.40" y2="228.00" stroke="#111" stroke-width="1.2" />
<line x1="416.40" y1="246.00" x2="416.40" y2="278.00" stroke="#111" stroke-width="1.2" />
<line x1="424.80" y1="196.00" x2="424.80" y2="228.00" stroke="#111" stroke-width="1.2" />
<line x1="424.80" y1="246.00" x2="424.80" y2="278.00" stroke="#111" stroke-width="1.2" />
<line x1="444.10" y1="196.00" x2="444.10" y2="228.00" stroke="#111" stroke-width="1.2" />
<line x1="444.10" y1="246.00" x2="444.10" y2="278.00" stroke="#111" stroke-width="1.2" />
<line x1="454.20" y1="196.00" x2="454.20" y2="228.00" stroke="#111" stroke-width="1.2" />
<line x1="454.20" y1="246.00" x2="454.20" y2="278.00" stroke="#111" stroke-width="1.2" />
<line x1="472.70" y1="196.00" x2="472.70" y2="228.00" stroke="#111" stroke-width="1.2" />
<line x1="472.70" y1="246.00" x2="472.70" y2="278.00" stroke="#111" stroke-width="1.2" />
<line x1="481.70" y1="196.00" x2="481.70" y2="228.00" stroke="#111" stroke-width="1.2" />
<line x1="481.70" y1="246.00" x2="481.70" y2="278.00" stroke="#111" stroke-width="1.2" />
<line x1="556.80" y1="196.00" x2="556.80" y2="228.00" stroke="#111" stroke-width="1.2" />
<line x1="556.80" y1="246.00" x2="556.80" y2="278.00" stroke="#111" stroke-width="1.2" />
<line x1="567.00" y1="196.00" x2="567.00" y2="228.00" stroke="#111" stroke-width="1.2" />
<line x1="567.00" y1="246.00" x2="567.00" y2="278.00" stroke="#111" stroke-width="1.2" />
<line x1="585.40" y1="196.00" x2="585.40" y2="228.00" stroke="#111" stroke-width="1.2" />
<line x1="585.40" y1="246.00" x2="585.40" y2="278.00" stroke="#111" stroke-width="1.2" />
<line x1="596.20" y1="196.00" x2="596.20" y2="228.00" stroke="#111" stroke-width="1.2" />
<line x1="596.20" y1="246.00" x2="596.20" y2="278.00" stroke="#111" stroke-width="1.2" />
<line x1="614.60" y1="196.00" x2="614.60" y2="228.00" stroke="#111" stroke-width="1.2" />
<line x1="614.60" y1="246.00" x2="614.60" y2="278.00" stroke="#111" stroke-width="1.2" />
<line x1="623.00" y1="196.00" x2="623.00" y2="228.00" stroke="#111" stroke-width="1.2" />
<line x1="623.00" y1="246.00" x2="623.00" y2="278.00" stroke="#111" stroke-width="1.2" />
<path d="M562.2,231.4 L565.0,231.4 L564.4,240 L561.6,243.6 Z" stroke="#555" stroke-width="0.4" fill="#999" />
<path d="M575.8,231.4 L578.8,231.4 L579.6,244 L576.4,239 Z" stroke="#555" stroke-width="0.4" fill="#999" />
<path d="M418.6,231.4 L421.4,231.4 L420.6,240 L417.8,243.6 Z" stroke="#555" stroke-width="0.4" fill="#999" />
<path d="M432,231.4 L435,231.4 L435.8,244 L432.6,239 Z" stroke="#555" stroke-width="0.4" fill="#999" />
<path d="M633.2,192.2 L670.6,192.2 L670.6,282.4 L633.2,282.4" stroke="#000" stroke-width="1.1" fill="none" />
<line x1="633.20" y1="237.50" x2="670.60" y2="237.50" stroke="#000" stroke-width="1.0" />
<line x1="668.20" y1="198.00" x2="668.20" y2="232.00" stroke="#888" stroke-width="0.8" />
<line x1="668.20" y1="243.00" x2="668.20" y2="277.00" stroke="#888" stroke-width="0.8" />
<rect x="638.20" y="193.60" width="8.40" height="5.60" rx="0" stroke="#000" stroke-width="0" fill="#888" />
<rect x="641.60" y="212.30" width="5.00" height="8.40" rx="0" stroke="#000" stroke-width="0" fill="#888" />
<rect x="641.60" y="252.20" width="5.00" height="8.40" rx="0" stroke="#000" stroke-width="0" fill="#888" />
<rect x="638.20" y="275.80" width="8.40" height="5.20" rx="0" stroke="#000" stroke-width="0" fill="#888" />
<rect x="635.60" y="233.00" width="13.60" height="4.40" rx="0" stroke="#111" stroke-width="0.9" fill="#fff" />
<path d="M634,197.5 Q641,237 634,277" stroke="#888" stroke-width="0.6" fill="none" />
<line x1="610.20" y1="287.40" x2="610.20" y2="296.00" stroke="#000" stroke-width="1.4" />
<line x1="627.00" y1="287.40" x2="627.00" y2="296.00" stroke="#000" stroke-width="1.4" />
<rect x="616.60" y="286.80" width="4.80" height="3.00" rx="1" stroke="#777" stroke-width="0.6" fill="none" />
<line x1="373.60" y1="96.20" x2="373.60" y2="122.00" stroke="#0a0a0a" stroke-width="0.9" />
<line x1="658.50" y1="96.20" x2="658.50" y2="122.00" stroke="#0a0a0a" stroke-width="0.9" />
<line x1="373.60" y1="99.44" x2="658.50" y2="99.44" stroke="#0a0a0a" stroke-width="0.9" />
<polygon points="373.60,99.44 381.50,98.04 381.50,100.84" fill="#0a0a0a"/>
<polygon points="658.50,99.44 650.60,100.84 650.60,98.04" fill="#0a0a0a"/>
<text x="498.80" y="96.95" font-size="9.7" text-anchor="start" fill="#000" textLength="36.40" lengthAdjust="spacing" >1004mm</text>
<line x1="489.74" y1="112.20" x2="489.74" y2="160.00" stroke="#0a0a0a" stroke-width="0.9" />
<line x1="549.17" y1="112.20" x2="549.17" y2="160.00" stroke="#0a0a0a" stroke-width="0.9" />
<line x1="434.90" y1="115.00" x2="549.17" y2="115.00" stroke="#0a0a0a" stroke-width="0.9" />
<polygon points="489.74,115.00 497.64,113.60 497.64,116.40" fill="#0a0a0a"/>
<polygon points="549.17,115.00 541.27,116.40 541.27,113.60" fill="#0a0a0a"/>
<text x="437.40" y="112.80" font-size="9.7" text-anchor="start" fill="#000" textLength="33.60" lengthAdjust="spacing" >209mm</text>
<line x1="574.60" y1="111.60" x2="574.60" y2="160.00" stroke="#0a0a0a" stroke-width="0.9" />
<line x1="605.50" y1="111.60" x2="605.50" y2="160.00" stroke="#0a0a0a" stroke-width="0.9" />
<line x1="574.60" y1="115.00" x2="644.10" y2="115.00" stroke="#0a0a0a" stroke-width="0.9" />
<polygon points="574.60,115.00 582.50,113.60 582.50,116.40" fill="#0a0a0a"/>
<polygon points="605.50,115.00 597.60,116.40 597.60,113.60" fill="#0a0a0a"/>
<text x="610.10" y="112.90" font-size="9.7" text-anchor="start" fill="#000" textLength="31.40" lengthAdjust="spacing" >109mm</text>
<line x1="664.00" y1="127.70" x2="729.90" y2="127.70" stroke="#0a0a0a" stroke-width="0.9" />
<line x1="660.00" y1="139.50" x2="709.40" y2="139.50" stroke="#0a0a0a" stroke-width="0.9" />
<line x1="638.00" y1="187.50" x2="729.90" y2="187.50" stroke="#0a0a0a" stroke-width="0.9" />
<line x1="706.50" y1="139.50" x2="706.50" y2="187.50" stroke="#0a0a0a" stroke-width="0.9" />
<polygon points="706.50,139.50 707.90,147.40 705.10,147.40" fill="#0a0a0a"/>
<polygon points="706.50,187.50 705.10,179.60 707.90,179.60" fill="#0a0a0a"/>
<line x1="706.50" y1="187.50" x2="706.50" y2="226.70" stroke="#0a0a0a" stroke-width="0.9" />
<line x1="726.50" y1="127.70" x2="726.50" y2="187.50" stroke="#0a0a0a" stroke-width="0.9" />
<polygon points="726.50,127.70 727.90,135.60 725.10,135.60" fill="#0a0a0a"/>
<polygon points="726.50,187.50 725.10,179.60 727.90,179.60" fill="#0a0a0a"/>
<line x1="726.50" y1="187.50" x2="726.50" y2="226.70" stroke="#0a0a0a" stroke-width="0.9" />
<text x="704.05" y="223.10" font-size="9.7" text-anchor="start" fill="#000" transform="rotate(-90 704.05 223.10)" textLength="31.30" lengthAdjust="spacing" >171mm</text>
<text x="724.00" y="224.10" font-size="9.7" text-anchor="start" fill="#000" transform="rotate(-90 724.00 224.10)" textLength="32.00" lengthAdjust="spacing" >212mm</text>
<path d="M373.6,282.5 L398.8,314.4 L447.5,314.4" stroke="#0a0a0a" stroke-width="0.9" fill="none" />
<text x="402.10" y="310.70" font-size="9.7" text-anchor="start" fill="#000" textLength="47.00" lengthAdjust="spacing" >EPDM seal</text>
</g>
<g id="right">
<rect x="844.70" y="286.30" width="114.00" height="9.40" rx="1.6" stroke="#111" stroke-width="1.2" fill="none" />
<path d="M864.6,187.8 L939,187.8 Q940.5,187.8 940.5,189.3 L940.5,196.2 L944.3,198.4 L944.3,276 L940.5,278.2 L940.5,286.3 M863.1,286.3 L863.1,278.2 L859.7,276 L859.7,198.4 L863.1,196.2 L863.1,189.3 Q863.1,187.8 864.6,187.8" stroke="#111" stroke-width="1.2" fill="none" />
<line x1="882.40" y1="281.50" x2="882.40" y2="286.30" stroke="#111" stroke-width="0.8" />
<line x1="883.80" y1="281.50" x2="883.80" y2="286.30" stroke="#111" stroke-width="0.8" />
<line x1="919.60" y1="281.50" x2="919.60" y2="286.30" stroke="#111" stroke-width="0.8" />
<line x1="921.00" y1="281.50" x2="921.00" y2="286.30" stroke="#111" stroke-width="0.8" />
<line x1="863.10" y1="193.40" x2="882.00" y2="193.40" stroke="#555" stroke-width="0.5" />
<line x1="921.80" y1="193.40" x2="940.50" y2="193.40" stroke="#555" stroke-width="0.5" />
<ellipse cx="902.00" cy="237.40" rx="49.60" ry="49.40" stroke="#000" stroke-width="1.4" fill="none" />
<ellipse cx="902.00" cy="237.40" rx="48.00" ry="47.90" stroke="#111" stroke-width="0.8" fill="none" />
<ellipse cx="902.00" cy="237.40" rx="46.40" ry="46.60" stroke="#333" stroke-width="0.6" fill="none" />
<ellipse cx="902.00" cy="237.20" rx="44.40" ry="46.00" stroke="#000" stroke-width="1.1" fill="none" />
<ellipse cx="902.00" cy="237.00" rx="36.80" ry="44.40" stroke="#000" stroke-width="1.3" fill="none" />
<ellipse cx="902.00" cy="237.00" rx="39.80" ry="45.20" stroke="#444" stroke-width="0.5" fill="none" />
<rect x="890.80" y="193.60" width="22.40" height="3.60" rx="0" stroke="#444" stroke-width="0.5" fill="#bbb" />
<line x1="892.50" y1="194.90" x2="911.50" y2="194.90" stroke="#666" stroke-width="0.4" />
<line x1="864.70" y1="228.00" x2="868.70" y2="228.00" stroke="#555" stroke-width="0.5" />
<line x1="864.70" y1="246.00" x2="868.70" y2="246.00" stroke="#555" stroke-width="0.5" />
<line x1="868.70" y1="228.00" x2="868.70" y2="246.00" stroke="#555" stroke-width="0.5" />
<line x1="859.40" y1="214.00" x2="859.40" y2="260.00" stroke="#555" stroke-width="0.5" />
<line x1="939.10" y1="228.00" x2="935.10" y2="228.00" stroke="#555" stroke-width="0.5" />
<line x1="939.10" y1="246.00" x2="935.10" y2="246.00" stroke="#555" stroke-width="0.5" />
<line x1="935.10" y1="228.00" x2="935.10" y2="246.00" stroke="#555" stroke-width="0.5" />
<line x1="944.40" y1="214.00" x2="944.40" y2="260.00" stroke="#555" stroke-width="0.5" />
<rect x="849.00" y="235.60" width="6.60" height="8.00" rx="0" stroke="#111" stroke-width="0.8" fill="#fff" />
<rect x="851.00" y="237.60" width="2.20" height="3.60" rx="0" stroke="#333" stroke-width="0.5" fill="none" />
<rect x="948.40" y="230.20" width="6.60" height="8.00" rx="0" stroke="#111" stroke-width="0.8" fill="#fff" />
<rect x="950.60" y="232.20" width="2.20" height="3.60" rx="0" stroke="#333" stroke-width="0.5" fill="none" />
<path d="M901.80,127.50 L910.70,127.50 L910.70,134.90 L913.00,136.80 L916.60,137.70 L916.60,139.80 L913.40,140.50 L912.10,143.00 L910.40,145.00 L909.20,150.50 L911.10,155.00 L911.70,163.50 L923.00,187.20 M901.80,127.50 L892.90,127.50 L892.90,134.90 L890.60,136.80 L887.00,137.70 L887.00,139.80 L890.20,140.50 L891.50,143.00 L893.20,145.00 L894.40,150.50 L892.50,155.00 L891.90,163.50 L880.60,187.20" stroke="#111" stroke-width="0.9" fill="none" />
<line x1="892.90" y1="127.80" x2="910.70" y2="127.80" stroke="#111" stroke-width="1.5" />
<path d="M894.8,128.5 L895.1999999999999,135.5 Q895.8,142.0 901.8,142.3 Q907.8,142.0 908.4,135.5 L908.8,128.5" stroke="#111" stroke-width="1.3" fill="none" />
<path d="M897.1999999999999,130.0 Q897.8,137.0 901.8,137.5 Q905.8,137.0 906.4,130.0 Z" stroke="#111" stroke-width="0.8" fill="#fff" />
<path d="M898.0,134.0 Q901.8,140.0 905.5999999999999,134.0 Q901.8,136.8 898.0,134.0 Z" stroke="#111" stroke-width="0.5" fill="#222" />
<path d="M892.9,134.0 L890.5999999999999,136.8 L887.0,137.7 L887.0,139.8 L890.1999999999999,140.5 L891.5,143.0 L893.5999999999999,142.0 Z" stroke="#111" stroke-width="0.6" fill="#777" />
<path d="M894.0,140.5 L894.4,150.5" stroke="#111" stroke-width="0.8" fill="none" />
<ellipse cx="893.50" cy="141.20" rx="0.90" ry="1.60" stroke="#555" stroke-width="0.4" fill="#fff" />
<path d="M910.6999999999999,134.0 L913.0,136.8 L916.5999999999999,137.7 L916.5999999999999,139.8 L913.4,140.5 L912.0999999999999,143.0 L910.0,142.0 Z" stroke="#111" stroke-width="0.6" fill="#777" />
<path d="M909.5999999999999,140.5 L909.1999999999999,150.5" stroke="#111" stroke-width="0.8" fill="none" />
<ellipse cx="910.10" cy="141.20" rx="0.90" ry="1.60" stroke="#555" stroke-width="0.4" fill="#fff" />
<line x1="901.80" y1="142.50" x2="901.80" y2="157.50" stroke="#777" stroke-width="0.5" />
<line x1="901.80" y1="157.50" x2="901.80" y2="187.20" stroke="#333" stroke-width="0.9" />
<line x1="894.80" y1="151.50" x2="893.50" y2="187.20" stroke="#777" stroke-width="0.45" />
<line x1="908.80" y1="151.50" x2="910.10" y2="187.20" stroke="#777" stroke-width="0.45" />
<path d="M896.1999999999999,152.0 Q901.8,155.0 907.4,152.0" stroke="#555" stroke-width="0.5" fill="none" />
<path d="M896.1999999999999,152.0 Q897.3,159.5 901.8,160.5 Q906.3,159.5 907.4,152.0" stroke="#555" stroke-width="0.5" fill="none" />
<line x1="915.50" y1="127.70" x2="986.00" y2="127.70" stroke="#0a0a0a" stroke-width="0.9" />
<line x1="962.60" y1="295.40" x2="986.00" y2="295.40" stroke="#0a0a0a" stroke-width="0.9" />
<line x1="982.80" y1="127.70" x2="982.80" y2="295.40" stroke="#0a0a0a" stroke-width="0.9" />
<polygon points="982.80,127.70 984.20,135.60 981.40,135.60" fill="#0a0a0a"/>
<polygon points="982.80,295.40 981.40,287.50 984.20,287.50" fill="#0a0a0a"/>
<text x="980.60" y="227.50" font-size="9.7" text-anchor="start" fill="#000" transform="rotate(-90 980.60 227.50)" textLength="33.50" lengthAdjust="spacing" >591mm</text>
<line x1="893.65" y1="96.10" x2="893.65" y2="122.30" stroke="#0a0a0a" stroke-width="0.9" />
<line x1="910.20" y1="96.10" x2="910.20" y2="122.30" stroke="#0a0a0a" stroke-width="0.9" />
<line x1="855.40" y1="99.45" x2="923.90" y2="99.45" stroke="#0a0a0a" stroke-width="0.9" />
<polygon points="893.65,99.45 885.75,100.85 885.75,98.05" fill="#0a0a0a"/>
<polygon points="910.20,99.45 918.10,98.05 918.10,100.85" fill="#0a0a0a"/>
<text x="858.70" y="96.95" font-size="9.7" text-anchor="start" fill="#000" textLength="27.60" lengthAdjust="spacing" >57mm</text>
<line x1="845.00" y1="299.20" x2="845.00" y2="326.40" stroke="#0a0a0a" stroke-width="0.9" />
<line x1="958.60" y1="299.20" x2="958.60" y2="326.40" stroke="#0a0a0a" stroke-width="0.9" />
<line x1="845.00" y1="323.20" x2="958.60" y2="323.20" stroke="#0a0a0a" stroke-width="0.9" />
<polygon points="845.00,323.20 852.90,321.80 852.90,324.60" fill="#0a0a0a"/>
<polygon points="958.60,323.20 950.70,324.60 950.70,321.80" fill="#0a0a0a"/>
<text x="902.00" y="320.60" font-size="9.7" text-anchor="middle" fill="#000" textLength="33.00" lengthAdjust="spacing" >400mm</text>
</g>
<g id="plan">
<path d="M356.6,512 L356.6,604.7" stroke="#000" stroke-width="1.6" fill="none" />
<path d="M359.6,507 L359.6,610" stroke="#000" stroke-width="1.0" fill="none" />
<line x1="358.10" y1="512.00" x2="358.10" y2="604.70" stroke="#777" stroke-width="1.8" />
<path d="M359.6,506.8 L383.5,506.8 Q388,507 394.8,509.8 M359.6,610 L383.5,610 Q388,609.8 394.8,606.3" stroke="#000" stroke-width="1.2" fill="none" />
<line x1="359.60" y1="508.60" x2="384.00" y2="508.60" stroke="#555" stroke-width="0.6" />
<line x1="359.60" y1="608.20" x2="384.00" y2="608.20" stroke="#555" stroke-width="0.6" />
<line x1="356.40" y1="512.00" x2="359.60" y2="512.00" stroke="#111" stroke-width="0.8" />
<line x1="356.40" y1="604.70" x2="359.60" y2="604.70" stroke="#111" stroke-width="0.8" />
<line x1="370.00" y1="507.00" x2="370.00" y2="610.00" stroke="#333" stroke-width="1.0" />
<line x1="372.20" y1="507.00" x2="372.20" y2="610.00" stroke="#888" stroke-width="0.6" />
<line x1="377.00" y1="507.00" x2="377.00" y2="610.00" stroke="#333" stroke-width="1.0" />
<line x1="379.40" y1="507.00" x2="379.40" y2="610.00" stroke="#888" stroke-width="0.6" />
<line x1="359.00" y1="515.50" x2="369.20" y2="513.26" stroke="#000" stroke-width="1.3" />
<line x1="359.00" y1="524.05" x2="369.20" y2="522.26" stroke="#000" stroke-width="1.3" />
<line x1="359.00" y1="532.60" x2="369.20" y2="531.25" stroke="#000" stroke-width="1.3" />
<line x1="359.00" y1="541.15" x2="369.20" y2="540.25" stroke="#000" stroke-width="1.3" />
<line x1="359.00" y1="549.70" x2="369.20" y2="549.25" stroke="#000" stroke-width="1.3" />
<line x1="359.00" y1="558.25" x2="369.20" y2="558.24" stroke="#000" stroke-width="1.3" />
<line x1="359.00" y1="566.80" x2="369.20" y2="567.24" stroke="#000" stroke-width="1.3" />
<line x1="359.00" y1="575.35" x2="369.20" y2="576.23" stroke="#000" stroke-width="1.3" />
<line x1="359.00" y1="583.90" x2="369.20" y2="585.23" stroke="#000" stroke-width="1.3" />
<line x1="359.00" y1="592.45" x2="369.20" y2="594.23" stroke="#000" stroke-width="1.3" />
<line x1="359.00" y1="601.00" x2="369.20" y2="603.22" stroke="#000" stroke-width="1.3" />
<line x1="394.80" y1="509.80" x2="649.80" y2="509.80" stroke="#000" stroke-width="2.0" />
<line x1="394.80" y1="606.30" x2="649.80" y2="606.30" stroke="#000" stroke-width="2.0" />
<line x1="387.00" y1="512.20" x2="649.00" y2="512.20" stroke="#222" stroke-width="0.8" />
<line x1="387.00" y1="604.00" x2="649.00" y2="604.00" stroke="#222" stroke-width="0.8" />
<line x1="385.60" y1="515.00" x2="385.60" y2="541.00" stroke="#000" stroke-width="1.4" />
<line x1="385.60" y1="576.00" x2="385.60" y2="602.00" stroke="#000" stroke-width="1.4" />
<line x1="391.00" y1="512.00" x2="391.00" y2="543.00" stroke="#555" stroke-width="0.7" />
<line x1="391.00" y1="574.00" x2="391.00" y2="604.00" stroke="#555" stroke-width="0.7" />
<path d="M398,513.6 L398.6,541.4 L415.79999999999995,541.4 L416.4,513.6" stroke="#111" stroke-width="1.1" fill="none" />
<path d="M400.2,515.6 L402.4,538.1999999999999 L412.0,538.1999999999999 L414.2,515.6" stroke="#555" stroke-width="0.7" fill="none" />
<line x1="399.47" y1="515.60" x2="401.31" y2="539.20" stroke="#999" stroke-width="0.45" />
<line x1="414.93" y1="515.60" x2="413.09" y2="539.20" stroke="#999" stroke-width="0.45" />
<line x1="400.94" y1="515.60" x2="402.78" y2="539.20" stroke="#999" stroke-width="0.45" />
<line x1="413.46" y1="515.60" x2="411.62" y2="539.20" stroke="#999" stroke-width="0.45" />
<line x1="402.42" y1="515.60" x2="404.26" y2="539.20" stroke="#999" stroke-width="0.45" />
<line x1="411.98" y1="515.60" x2="410.14" y2="539.20" stroke="#999" stroke-width="0.45" />
<line x1="401.20" y1="539.20" x2="413.20" y2="539.20" stroke="#888" stroke-width="0.5" />
<rect x="403.89" y="515.20" width="6.62" height="4.60" rx="0" stroke="#222" stroke-width="0.7" fill="#fff" />
<path d="M401.4,516.1 L406.0,538.0 M413.0,516.1 L408.4,538.0" stroke="#aaa" stroke-width="0.4" fill="none" />
<path d="M402.59999999999997,516.1 L406.0,538.0 M411.8,516.1 L408.4,538.0" stroke="#aaa" stroke-width="0.4" fill="none" />
<path d="M403.8,516.1 L406.0,538.0 M410.59999999999997,516.1 L408.4,538.0" stroke="#aaa" stroke-width="0.4" fill="none" />
<path d="M398,602.9 L398.6,575.2 L415.79999999999995,575.2 L416.4,602.9" stroke="#111" stroke-width="1.1" fill="none" />
<path d="M400.2,600.9 L402.4,578.4000000000001 L412.0,578.4000000000001 L414.2,600.9" stroke="#555" stroke-width="0.7" fill="none" />
<line x1="399.47" y1="600.90" x2="401.31" y2="577.40" stroke="#999" stroke-width="0.45" />
<line x1="414.93" y1="600.90" x2="413.09" y2="577.40" stroke="#999" stroke-width="0.45" />
<line x1="400.94" y1="600.90" x2="402.78" y2="577.40" stroke="#999" stroke-width="0.45" />
<line x1="413.46" y1="600.90" x2="411.62" y2="577.40" stroke="#999" stroke-width="0.45" />
<line x1="402.42" y1="600.90" x2="404.26" y2="577.40" stroke="#999" stroke-width="0.45" />
<line x1="411.98" y1="600.90" x2="410.14" y2="577.40" stroke="#999" stroke-width="0.45" />
<line x1="401.20" y1="577.40" x2="413.20" y2="577.40" stroke="#888" stroke-width="0.5" />
<path d="M401.4,600.4 L406.0,578.6 M413.0,600.4 L408.4,578.6" stroke="#aaa" stroke-width="0.4" fill="none" />
<path d="M402.59999999999997,600.4 L406.0,578.6 M411.8,600.4 L408.4,578.6" stroke="#aaa" stroke-width="0.4" fill="none" />
<path d="M403.8,600.4 L406.0,578.6 M410.59999999999997,600.4 L408.4,578.6" stroke="#aaa" stroke-width="0.4" fill="none" />
<path d="M424.8,513.6 L425.40000000000003,541.4 L443.5,541.4 L444.1,513.6" stroke="#111" stroke-width="1.1" fill="none" />
<path d="M427.0,515.6 L429.2,538.1999999999999 L439.70000000000005,538.1999999999999 L441.90000000000003,515.6" stroke="#555" stroke-width="0.7" fill="none" />
<line x1="426.34" y1="515.60" x2="428.27" y2="539.20" stroke="#999" stroke-width="0.45" />
<line x1="442.56" y1="515.60" x2="440.63" y2="539.20" stroke="#999" stroke-width="0.45" />
<line x1="427.89" y1="515.60" x2="429.82" y2="539.20" stroke="#999" stroke-width="0.45" />
<line x1="441.01" y1="515.60" x2="439.08" y2="539.20" stroke="#999" stroke-width="0.45" />
<line x1="429.43" y1="515.60" x2="431.36" y2="539.20" stroke="#999" stroke-width="0.45" />
<line x1="439.47" y1="515.60" x2="437.54" y2="539.20" stroke="#999" stroke-width="0.45" />
<line x1="428.00" y1="539.20" x2="440.90" y2="539.20" stroke="#888" stroke-width="0.5" />
<rect x="430.98" y="515.20" width="6.95" height="4.60" rx="0" stroke="#222" stroke-width="0.7" fill="#fff" />
<path d="M428.2,516.1 L433.25000000000006,538.0 M440.70000000000005,516.1 L435.65000000000003,538.0" stroke="#aaa" stroke-width="0.4" fill="none" />
<path d="M429.4,516.1 L433.25000000000006,538.0 M439.50000000000006,516.1 L435.65000000000003,538.0" stroke="#aaa" stroke-width="0.4" fill="none" />
<path d="M430.6,516.1 L433.25000000000006,538.0 M438.3,516.1 L435.65000000000003,538.0" stroke="#aaa" stroke-width="0.4" fill="none" />
<path d="M424.8,602.9 L425.40000000000003,575.2 L443.5,575.2 L444.1,602.9" stroke="#111" stroke-width="1.1" fill="none" />
<path d="M427.0,600.9 L429.2,578.4000000000001 L439.70000000000005,578.4000000000001 L441.90000000000003,600.9" stroke="#555" stroke-width="0.7" fill="none" />
<line x1="426.34" y1="600.90" x2="428.27" y2="577.40" stroke="#999" stroke-width="0.45" />
<line x1="442.56" y1="600.90" x2="440.63" y2="577.40" stroke="#999" stroke-width="0.45" />
<line x1="427.89" y1="600.90" x2="429.82" y2="577.40" stroke="#999" stroke-width="0.45" />
<line x1="441.01" y1="600.90" x2="439.08" y2="577.40" stroke="#999" stroke-width="0.45" />
<line x1="429.43" y1="600.90" x2="431.36" y2="577.40" stroke="#999" stroke-width="0.45" />
<line x1="439.47" y1="600.90" x2="437.54" y2="577.40" stroke="#999" stroke-width="0.45" />
<line x1="428.00" y1="577.40" x2="440.90" y2="577.40" stroke="#888" stroke-width="0.5" />
<path d="M428.2,600.4 L433.25000000000006,578.6 M440.70000000000005,600.4 L435.65000000000003,578.6" stroke="#aaa" stroke-width="0.4" fill="none" />
<path d="M429.4,600.4 L433.25000000000006,578.6 M439.50000000000006,600.4 L435.65000000000003,578.6" stroke="#aaa" stroke-width="0.4" fill="none" />
<path d="M430.6,600.4 L433.25000000000006,578.6 M438.3,600.4 L435.65000000000003,578.6" stroke="#aaa" stroke-width="0.4" fill="none" />
<path d="M454.2,513.6 L454.8,541.4 L472.09999999999997,541.4 L472.7,513.6" stroke="#111" stroke-width="1.1" fill="none" />
<path d="M456.4,515.6 L458.59999999999997,538.1999999999999 L468.3,538.1999999999999 L470.5,515.6" stroke="#555" stroke-width="0.7" fill="none" />
<line x1="455.68" y1="515.60" x2="457.53" y2="539.20" stroke="#999" stroke-width="0.45" />
<line x1="471.22" y1="515.60" x2="469.37" y2="539.20" stroke="#999" stroke-width="0.45" />
<line x1="457.16" y1="515.60" x2="459.01" y2="539.20" stroke="#999" stroke-width="0.45" />
<line x1="469.74" y1="515.60" x2="467.89" y2="539.20" stroke="#999" stroke-width="0.45" />
<line x1="458.64" y1="515.60" x2="460.49" y2="539.20" stroke="#999" stroke-width="0.45" />
<line x1="468.26" y1="515.60" x2="466.41" y2="539.20" stroke="#999" stroke-width="0.45" />
<line x1="457.40" y1="539.20" x2="469.50" y2="539.20" stroke="#888" stroke-width="0.5" />
<rect x="460.12" y="515.20" width="6.66" height="4.60" rx="0" stroke="#222" stroke-width="0.7" fill="#fff" />
<path d="M457.59999999999997,516.1 L462.25,538.0 M469.3,516.1 L464.65,538.0" stroke="#aaa" stroke-width="0.4" fill="none" />
<path d="M458.79999999999995,516.1 L462.25,538.0 M468.1,516.1 L464.65,538.0" stroke="#aaa" stroke-width="0.4" fill="none" />
<path d="M460.0,516.1 L462.25,538.0 M466.9,516.1 L464.65,538.0" stroke="#aaa" stroke-width="0.4" fill="none" />
<path d="M454.2,602.9 L454.8,575.2 L472.09999999999997,575.2 L472.7,602.9" stroke="#111" stroke-width="1.1" fill="none" />
<path d="M456.4,600.9 L458.59999999999997,578.4000000000001 L468.3,578.4000000000001 L470.5,600.9" stroke="#555" stroke-width="0.7" fill="none" />
<line x1="455.68" y1="600.90" x2="457.53" y2="577.40" stroke="#999" stroke-width="0.45" />
<line x1="471.22" y1="600.90" x2="469.37" y2="577.40" stroke="#999" stroke-width="0.45" />
<line x1="457.16" y1="600.90" x2="459.01" y2="577.40" stroke="#999" stroke-width="0.45" />
<line x1="469.74" y1="600.90" x2="467.89" y2="577.40" stroke="#999" stroke-width="0.45" />
<line x1="458.64" y1="600.90" x2="460.49" y2="577.40" stroke="#999" stroke-width="0.45" />
<line x1="468.26" y1="600.90" x2="466.41" y2="577.40" stroke="#999" stroke-width="0.45" />
<line x1="457.40" y1="577.40" x2="469.50" y2="577.40" stroke="#888" stroke-width="0.5" />
<path d="M457.59999999999997,600.4 L462.25,578.6 M469.3,600.4 L464.65,578.6" stroke="#aaa" stroke-width="0.4" fill="none" />
<path d="M458.79999999999995,600.4 L462.25,578.6 M468.1,600.4 L464.65,578.6" stroke="#aaa" stroke-width="0.4" fill="none" />
<path d="M460.0,600.4 L462.25,578.6 M466.9,600.4 L464.65,578.6" stroke="#aaa" stroke-width="0.4" fill="none" />
<path d="M481.7,513.6 L482.3,541.4 L498.79999999999995,541.4 L499.4,513.6" stroke="#111" stroke-width="1.1" fill="none" />
<path d="M483.9,515.6 L486.09999999999997,538.1999999999999 L495.0,538.1999999999999 L497.2,515.6" stroke="#555" stroke-width="0.7" fill="none" />
<line x1="483.12" y1="515.60" x2="484.89" y2="539.20" stroke="#999" stroke-width="0.45" />
<line x1="497.98" y1="515.60" x2="496.21" y2="539.20" stroke="#999" stroke-width="0.45" />
<line x1="484.53" y1="515.60" x2="486.30" y2="539.20" stroke="#999" stroke-width="0.45" />
<line x1="496.57" y1="515.60" x2="494.80" y2="539.20" stroke="#999" stroke-width="0.45" />
<line x1="485.95" y1="515.60" x2="487.72" y2="539.20" stroke="#999" stroke-width="0.45" />
<line x1="495.15" y1="515.60" x2="493.38" y2="539.20" stroke="#999" stroke-width="0.45" />
<line x1="484.90" y1="539.20" x2="496.20" y2="539.20" stroke="#888" stroke-width="0.5" />
<rect x="487.36" y="515.20" width="6.37" height="4.60" rx="0" stroke="#222" stroke-width="0.7" fill="#fff" />
<path d="M485.09999999999997,516.1 L489.34999999999997,538.0 M496.0,516.1 L491.74999999999994,538.0" stroke="#aaa" stroke-width="0.4" fill="none" />
<path d="M486.29999999999995,516.1 L489.34999999999997,538.0 M494.8,516.1 L491.74999999999994,538.0" stroke="#aaa" stroke-width="0.4" fill="none" />
<path d="M487.5,516.1 L489.34999999999997,538.0 M493.59999999999997,516.1 L491.74999999999994,538.0" stroke="#aaa" stroke-width="0.4" fill="none" />
<path d="M481.7,602.9 L482.3,575.2 L498.79999999999995,575.2 L499.4,602.9" stroke="#111" stroke-width="1.1" fill="none" />
<path d="M483.9,600.9 L486.09999999999997,578.4000000000001 L495.0,578.4000000000001 L497.2,600.9" stroke="#555" stroke-width="0.7" fill="none" />
<line x1="483.12" y1="600.90" x2="484.89" y2="577.40" stroke="#999" stroke-width="0.45" />
<line x1="497.98" y1="600.90" x2="496.21" y2="577.40" stroke="#999" stroke-width="0.45" />
<line x1="484.53" y1="600.90" x2="486.30" y2="577.40" stroke="#999" stroke-width="0.45" />
<line x1="496.57" y1="600.90" x2="494.80" y2="577.40" stroke="#999" stroke-width="0.45" />
<line x1="485.95" y1="600.90" x2="487.72" y2="577.40" stroke="#999" stroke-width="0.45" />
<line x1="495.15" y1="600.90" x2="493.38" y2="577.40" stroke="#999" stroke-width="0.45" />
<line x1="484.90" y1="577.40" x2="496.20" y2="577.40" stroke="#888" stroke-width="0.5" />
<path d="M485.09999999999997,600.4 L489.34999999999997,578.6 M496.0,600.4 L491.74999999999994,578.6" stroke="#aaa" stroke-width="0.4" fill="none" />
<path d="M486.29999999999995,600.4 L489.34999999999997,578.6 M494.8,600.4 L491.74999999999994,578.6" stroke="#aaa" stroke-width="0.4" fill="none" />
<path d="M487.5,600.4 L489.34999999999997,578.6 M493.59999999999997,600.4 L491.74999999999994,578.6" stroke="#aaa" stroke-width="0.4" fill="none" />
<path d="M500.8,513.6 L501.40000000000003,541.4 L515.1999999999999,541.4 L515.8,513.6" stroke="#111" stroke-width="1.1" fill="none" />
<path d="M503.0,515.6 L505.2,538.1999999999999 L511.4,538.1999999999999 L513.5999999999999,515.6" stroke="#555" stroke-width="0.7" fill="none" />
<line x1="502.00" y1="515.60" x2="503.50" y2="539.20" stroke="#999" stroke-width="0.45" />
<line x1="514.60" y1="515.60" x2="513.10" y2="539.20" stroke="#999" stroke-width="0.45" />
<line x1="503.20" y1="515.60" x2="504.70" y2="539.20" stroke="#999" stroke-width="0.45" />
<line x1="513.40" y1="515.60" x2="511.90" y2="539.20" stroke="#999" stroke-width="0.45" />
<line x1="504.40" y1="515.60" x2="505.90" y2="539.20" stroke="#999" stroke-width="0.45" />
<line x1="512.20" y1="515.60" x2="510.70" y2="539.20" stroke="#999" stroke-width="0.45" />
<line x1="504.00" y1="539.20" x2="512.60" y2="539.20" stroke="#888" stroke-width="0.5" />
<rect x="505.60" y="515.20" width="5.40" height="4.60" rx="0" stroke="#222" stroke-width="0.7" fill="#fff" />
<path d="M504.2,516.1 L507.09999999999997,538.0 M512.3999999999999,516.1 L509.49999999999994,538.0" stroke="#aaa" stroke-width="0.4" fill="none" />
<path d="M505.4,516.1 L507.09999999999997,538.0 M511.19999999999993,516.1 L509.49999999999994,538.0" stroke="#aaa" stroke-width="0.4" fill="none" />
<path d="M506.6,516.1 L507.09999999999997,538.0 M509.9999999999999,516.1 L509.49999999999994,538.0" stroke="#aaa" stroke-width="0.4" fill="none" />
<path d="M500.8,602.9 L501.40000000000003,575.2 L515.1999999999999,575.2 L515.8,602.9" stroke="#111" stroke-width="1.1" fill="none" />
<path d="M503.0,600.9 L505.2,578.4000000000001 L511.4,578.4000000000001 L513.5999999999999,600.9" stroke="#555" stroke-width="0.7" fill="none" />
<line x1="502.00" y1="600.90" x2="503.50" y2="577.40" stroke="#999" stroke-width="0.45" />
<line x1="514.60" y1="600.90" x2="513.10" y2="577.40" stroke="#999" stroke-width="0.45" />
<line x1="503.20" y1="600.90" x2="504.70" y2="577.40" stroke="#999" stroke-width="0.45" />
<line x1="513.40" y1="600.90" x2="511.90" y2="577.40" stroke="#999" stroke-width="0.45" />
<line x1="504.40" y1="600.90" x2="505.90" y2="577.40" stroke="#999" stroke-width="0.45" />
<line x1="512.20" y1="600.90" x2="510.70" y2="577.40" stroke="#999" stroke-width="0.45" />
<line x1="504.00" y1="577.40" x2="512.60" y2="577.40" stroke="#888" stroke-width="0.5" />
<path d="M504.2,600.4 L507.09999999999997,578.6 M512.3999999999999,600.4 L509.49999999999994,578.6" stroke="#aaa" stroke-width="0.4" fill="none" />
<path d="M505.4,600.4 L507.09999999999997,578.6 M511.19999999999993,600.4 L509.49999999999994,578.6" stroke="#aaa" stroke-width="0.4" fill="none" />
<path d="M506.6,600.4 L507.09999999999997,578.6 M509.9999999999999,600.4 L509.49999999999994,578.6" stroke="#aaa" stroke-width="0.4" fill="none" />
<path d="M523.3,513.6 L523.9,541.4 L538.4,541.4 L539,513.6" stroke="#111" stroke-width="1.1" fill="none" />
<path d="M525.5,515.6 L527.6999999999999,538.1999999999999 L534.6,538.1999999999999 L536.8,515.6" stroke="#555" stroke-width="0.7" fill="none" />
<line x1="524.56" y1="515.60" x2="526.13" y2="539.20" stroke="#999" stroke-width="0.45" />
<line x1="537.74" y1="515.60" x2="536.17" y2="539.20" stroke="#999" stroke-width="0.45" />
<line x1="525.81" y1="515.60" x2="527.38" y2="539.20" stroke="#999" stroke-width="0.45" />
<line x1="536.49" y1="515.60" x2="534.92" y2="539.20" stroke="#999" stroke-width="0.45" />
<line x1="527.07" y1="515.60" x2="528.64" y2="539.20" stroke="#999" stroke-width="0.45" />
<line x1="535.23" y1="515.60" x2="533.66" y2="539.20" stroke="#999" stroke-width="0.45" />
<line x1="526.50" y1="539.20" x2="535.80" y2="539.20" stroke="#888" stroke-width="0.5" />
<rect x="528.32" y="515.20" width="5.65" height="4.60" rx="0" stroke="#222" stroke-width="0.7" fill="#fff" />
<path d="M526.7,516.1 L529.9499999999999,538.0 M535.5999999999999,516.1 L532.35,538.0" stroke="#aaa" stroke-width="0.4" fill="none" />
<path d="M527.9,516.1 L529.9499999999999,538.0 M534.4,516.1 L532.35,538.0" stroke="#aaa" stroke-width="0.4" fill="none" />
<path d="M529.1,516.1 L529.9499999999999,538.0 M533.1999999999999,516.1 L532.35,538.0" stroke="#aaa" stroke-width="0.4" fill="none" />
<path d="M523.3,602.9 L523.9,575.2 L538.4,575.2 L539,602.9" stroke="#111" stroke-width="1.1" fill="none" />
<path d="M525.5,600.9 L527.6999999999999,578.4000000000001 L534.6,578.4000000000001 L536.8,600.9" stroke="#555" stroke-width="0.7" fill="none" />
<line x1="524.56" y1="600.90" x2="526.13" y2="577.40" stroke="#999" stroke-width="0.45" />
<line x1="537.74" y1="600.90" x2="536.17" y2="577.40" stroke="#999" stroke-width="0.45" />
<line x1="525.81" y1="600.90" x2="527.38" y2="577.40" stroke="#999" stroke-width="0.45" />
<line x1="536.49" y1="600.90" x2="534.92" y2="577.40" stroke="#999" stroke-width="0.45" />
<line x1="527.07" y1="600.90" x2="528.64" y2="577.40" stroke="#999" stroke-width="0.45" />
<line x1="535.23" y1="600.90" x2="533.66" y2="577.40" stroke="#999" stroke-width="0.45" />
<line x1="526.50" y1="577.40" x2="535.80" y2="577.40" stroke="#888" stroke-width="0.5" />
<path d="M526.7,600.4 L529.9499999999999,578.6 M535.5999999999999,600.4 L532.35,578.6" stroke="#aaa" stroke-width="0.4" fill="none" />
<path d="M527.9,600.4 L529.9499999999999,578.6 M534.4,600.4 L532.35,578.6" stroke="#aaa" stroke-width="0.4" fill="none" />
<path d="M529.1,600.4 L529.9499999999999,578.6 M533.1999999999999,600.4 L532.35,578.6" stroke="#aaa" stroke-width="0.4" fill="none" />
<path d="M540.4,513.6 L541.0,541.4 L556.1999999999999,541.4 L556.8,513.6" stroke="#111" stroke-width="1.1" fill="none" />
<path d="M542.6,515.6 L544.8,538.1999999999999 L552.4,538.1999999999999 L554.5999999999999,515.6" stroke="#555" stroke-width="0.7" fill="none" />
<line x1="541.71" y1="515.60" x2="543.35" y2="539.20" stroke="#999" stroke-width="0.45" />
<line x1="555.49" y1="515.60" x2="553.85" y2="539.20" stroke="#999" stroke-width="0.45" />
<line x1="543.02" y1="515.60" x2="544.66" y2="539.20" stroke="#999" stroke-width="0.45" />
<line x1="554.18" y1="515.60" x2="552.54" y2="539.20" stroke="#999" stroke-width="0.45" />
<line x1="544.34" y1="515.60" x2="545.98" y2="539.20" stroke="#999" stroke-width="0.45" />
<line x1="552.86" y1="515.60" x2="551.22" y2="539.20" stroke="#999" stroke-width="0.45" />
<line x1="543.60" y1="539.20" x2="553.60" y2="539.20" stroke="#888" stroke-width="0.5" />
<rect x="545.65" y="515.20" width="5.90" height="4.60" rx="0" stroke="#222" stroke-width="0.7" fill="#fff" />
<path d="M543.8000000000001,516.1 L547.3999999999999,538.0 M553.3999999999999,516.1 L549.8,538.0" stroke="#aaa" stroke-width="0.4" fill="none" />
<path d="M545.0,516.1 L547.3999999999999,538.0 M552.1999999999999,516.1 L549.8,538.0" stroke="#aaa" stroke-width="0.4" fill="none" />
<path d="M546.2,516.1 L547.3999999999999,538.0 M550.9999999999999,516.1 L549.8,538.0" stroke="#aaa" stroke-width="0.4" fill="none" />
<path d="M540.4,602.9 L541.0,575.2 L556.1999999999999,575.2 L556.8,602.9" stroke="#111" stroke-width="1.1" fill="none" />
<path d="M542.6,600.9 L544.8,578.4000000000001 L552.4,578.4000000000001 L554.5999999999999,600.9" stroke="#555" stroke-width="0.7" fill="none" />
<line x1="541.71" y1="600.90" x2="543.35" y2="577.40" stroke="#999" stroke-width="0.45" />
<line x1="555.49" y1="600.90" x2="553.85" y2="577.40" stroke="#999" stroke-width="0.45" />
<line x1="543.02" y1="600.90" x2="544.66" y2="577.40" stroke="#999" stroke-width="0.45" />
<line x1="554.18" y1="600.90" x2="552.54" y2="577.40" stroke="#999" stroke-width="0.45" />
<line x1="544.34" y1="600.90" x2="545.98" y2="577.40" stroke="#999" stroke-width="0.45" />
<line x1="552.86" y1="600.90" x2="551.22" y2="577.40" stroke="#999" stroke-width="0.45" />
<line x1="543.60" y1="577.40" x2="553.60" y2="577.40" stroke="#888" stroke-width="0.5" />
<path d="M543.8000000000001,600.4 L547.3999999999999,578.6 M553.3999999999999,600.4 L549.8,578.6" stroke="#aaa" stroke-width="0.4" fill="none" />
<path d="M545.0,600.4 L547.3999999999999,578.6 M552.1999999999999,600.4 L549.8,578.6" stroke="#aaa" stroke-width="0.4" fill="none" />
<path d="M546.2,600.4 L547.3999999999999,578.6 M550.9999999999999,600.4 L549.8,578.6" stroke="#aaa" stroke-width="0.4" fill="none" />
<path d="M567,513.6 L567.6,541.4 L584.8,541.4 L585.4,513.6" stroke="#111" stroke-width="1.1" fill="none" />
<path d="M569.2,515.6 L571.4,538.1999999999999 L581.0,538.1999999999999 L583.1999999999999,515.6" stroke="#555" stroke-width="0.7" fill="none" />
<line x1="568.47" y1="515.60" x2="570.31" y2="539.20" stroke="#999" stroke-width="0.45" />
<line x1="583.93" y1="515.60" x2="582.09" y2="539.20" stroke="#999" stroke-width="0.45" />
<line x1="569.94" y1="515.60" x2="571.78" y2="539.20" stroke="#999" stroke-width="0.45" />
<line x1="582.46" y1="515.60" x2="580.62" y2="539.20" stroke="#999" stroke-width="0.45" />
<line x1="571.42" y1="515.60" x2="573.26" y2="539.20" stroke="#999" stroke-width="0.45" />
<line x1="580.98" y1="515.60" x2="579.14" y2="539.20" stroke="#999" stroke-width="0.45" />
<line x1="570.20" y1="539.20" x2="582.20" y2="539.20" stroke="#888" stroke-width="0.5" />
<rect x="572.89" y="515.20" width="6.62" height="4.60" rx="0" stroke="#222" stroke-width="0.7" fill="#fff" />
<path d="M570.4000000000001,516.1 L575.0,538.0 M581.9999999999999,516.1 L577.4000000000001,538.0" stroke="#aaa" stroke-width="0.4" fill="none" />
<path d="M571.6,516.1 L575.0,538.0 M580.8,516.1 L577.4000000000001,538.0" stroke="#aaa" stroke-width="0.4" fill="none" />
<path d="M572.8000000000001,516.1 L575.0,538.0 M579.5999999999999,516.1 L577.4000000000001,538.0" stroke="#aaa" stroke-width="0.4" fill="none" />
<path d="M567,602.9 L567.6,575.2 L584.8,575.2 L585.4,602.9" stroke="#111" stroke-width="1.1" fill="none" />
<path d="M569.2,600.9 L571.4,578.4000000000001 L581.0,578.4000000000001 L583.1999999999999,600.9" stroke="#555" stroke-width="0.7" fill="none" />
<line x1="568.47" y1="600.90" x2="570.31" y2="577.40" stroke="#999" stroke-width="0.45" />
<line x1="583.93" y1="600.90" x2="582.09" y2="577.40" stroke="#999" stroke-width="0.45" />
<line x1="569.94" y1="600.90" x2="571.78" y2="577.40" stroke="#999" stroke-width="0.45" />
<line x1="582.46" y1="600.90" x2="580.62" y2="577.40" stroke="#999" stroke-width="0.45" />
<line x1="571.42" y1="600.90" x2="573.26" y2="577.40" stroke="#999" stroke-width="0.45" />
<line x1="580.98" y1="600.90" x2="579.14" y2="577.40" stroke="#999" stroke-width="0.45" />
<line x1="570.20" y1="577.40" x2="582.20" y2="577.40" stroke="#888" stroke-width="0.5" />
<path d="M570.4000000000001,600.4 L575.0,578.6 M581.9999999999999,600.4 L577.4000000000001,578.6" stroke="#aaa" stroke-width="0.4" fill="none" />
<path d="M571.6,600.4 L575.0,578.6 M580.8,600.4 L577.4000000000001,578.6" stroke="#aaa" stroke-width="0.4" fill="none" />
<path d="M572.8000000000001,600.4 L575.0,578.6 M579.5999999999999,600.4 L577.4000000000001,578.6" stroke="#aaa" stroke-width="0.4" fill="none" />
<path d="M596.2,513.6 L596.8000000000001,541.4 L614.0,541.4 L614.6,513.6" stroke="#111" stroke-width="1.1" fill="none" />
<path d="M598.4000000000001,515.6 L600.6,538.1999999999999 L610.2,538.1999999999999 L612.4,515.6" stroke="#555" stroke-width="0.7" fill="none" />
<line x1="597.67" y1="515.60" x2="599.51" y2="539.20" stroke="#999" stroke-width="0.45" />
<line x1="613.13" y1="515.60" x2="611.29" y2="539.20" stroke="#999" stroke-width="0.45" />
<line x1="599.14" y1="515.60" x2="600.98" y2="539.20" stroke="#999" stroke-width="0.45" />
<line x1="611.66" y1="515.60" x2="609.82" y2="539.20" stroke="#999" stroke-width="0.45" />
<line x1="600.62" y1="515.60" x2="602.46" y2="539.20" stroke="#999" stroke-width="0.45" />
<line x1="610.18" y1="515.60" x2="608.34" y2="539.20" stroke="#999" stroke-width="0.45" />
<line x1="599.40" y1="539.20" x2="611.40" y2="539.20" stroke="#888" stroke-width="0.5" />
<rect x="602.09" y="515.20" width="6.62" height="4.60" rx="0" stroke="#222" stroke-width="0.7" fill="#fff" />
<path d="M599.6000000000001,516.1 L604.2,538.0 M611.1999999999999,516.1 L606.6000000000001,538.0" stroke="#aaa" stroke-width="0.4" fill="none" />
<path d="M600.8000000000001,516.1 L604.2,538.0 M610.0,516.1 L606.6000000000001,538.0" stroke="#aaa" stroke-width="0.4" fill="none" />
<path d="M602.0000000000001,516.1 L604.2,538.0 M608.8,516.1 L606.6000000000001,538.0" stroke="#aaa" stroke-width="0.4" fill="none" />
<path d="M596.2,602.9 L596.8000000000001,575.2 L614.0,575.2 L614.6,602.9" stroke="#111" stroke-width="1.1" fill="none" />
<path d="M598.4000000000001,600.9 L600.6,578.4000000000001 L610.2,578.4000000000001 L612.4,600.9" stroke="#555" stroke-width="0.7" fill="none" />
<line x1="597.67" y1="600.90" x2="599.51" y2="577.40" stroke="#999" stroke-width="0.45" />
<line x1="613.13" y1="600.90" x2="611.29" y2="577.40" stroke="#999" stroke-width="0.45" />
<line x1="599.14" y1="600.90" x2="600.98" y2="577.40" stroke="#999" stroke-width="0.45" />
<line x1="611.66" y1="600.90" x2="609.82" y2="577.40" stroke="#999" stroke-width="0.45" />
<line x1="600.62" y1="600.90" x2="602.46" y2="577.40" stroke="#999" stroke-width="0.45" />
<line x1="610.18" y1="600.90" x2="608.34" y2="577.40" stroke="#999" stroke-width="0.45" />
<line x1="599.40" y1="577.40" x2="611.40" y2="577.40" stroke="#888" stroke-width="0.5" />
<path d="M599.6000000000001,600.4 L604.2,578.6 M611.1999999999999,600.4 L606.6000000000001,578.6" stroke="#aaa" stroke-width="0.4" fill="none" />
<path d="M600.8000000000001,600.4 L604.2,578.6 M610.0,600.4 L606.6000000000001,578.6" stroke="#aaa" stroke-width="0.4" fill="none" />
<path d="M602.0000000000001,600.4 L604.2,578.6 M608.8,600.4 L606.6000000000001,578.6" stroke="#aaa" stroke-width="0.4" fill="none" />
<path d="M623,513.6 L623.6,541.4 L637.4,541.4 L638,513.6" stroke="#111" stroke-width="1.1" fill="none" />
<path d="M625.2,515.6 L627.4,538.1999999999999 L633.6,538.1999999999999 L635.8,515.6" stroke="#555" stroke-width="0.7" fill="none" />
<line x1="624.20" y1="515.60" x2="625.70" y2="539.20" stroke="#999" stroke-width="0.45" />
<line x1="636.80" y1="515.60" x2="635.30" y2="539.20" stroke="#999" stroke-width="0.45" />
<line x1="625.40" y1="515.60" x2="626.90" y2="539.20" stroke="#999" stroke-width="0.45" />
<line x1="635.60" y1="515.60" x2="634.10" y2="539.20" stroke="#999" stroke-width="0.45" />
<line x1="626.60" y1="515.60" x2="628.10" y2="539.20" stroke="#999" stroke-width="0.45" />
<line x1="634.40" y1="515.60" x2="632.90" y2="539.20" stroke="#999" stroke-width="0.45" />
<line x1="626.20" y1="539.20" x2="634.80" y2="539.20" stroke="#888" stroke-width="0.5" />
<rect x="627.80" y="515.20" width="5.40" height="4.60" rx="0" stroke="#222" stroke-width="0.7" fill="#fff" />
<path d="M626.4000000000001,516.1 L629.3,538.0 M634.5999999999999,516.1 L631.7,538.0" stroke="#aaa" stroke-width="0.4" fill="none" />
<path d="M627.6,516.1 L629.3,538.0 M633.4,516.1 L631.7,538.0" stroke="#aaa" stroke-width="0.4" fill="none" />
<path d="M628.8000000000001,516.1 L629.3,538.0 M632.1999999999999,516.1 L631.7,538.0" stroke="#aaa" stroke-width="0.4" fill="none" />
<path d="M623,602.9 L623.6,575.2 L637.4,575.2 L638,602.9" stroke="#111" stroke-width="1.1" fill="none" />
<path d="M625.2,600.9 L627.4,578.4000000000001 L633.6,578.4000000000001 L635.8,600.9" stroke="#555" stroke-width="0.7" fill="none" />
<line x1="624.20" y1="600.90" x2="625.70" y2="577.40" stroke="#999" stroke-width="0.45" />
<line x1="636.80" y1="600.90" x2="635.30" y2="577.40" stroke="#999" stroke-width="0.45" />
<line x1="625.40" y1="600.90" x2="626.90" y2="577.40" stroke="#999" stroke-width="0.45" />
<line x1="635.60" y1="600.90" x2="634.10" y2="577.40" stroke="#999" stroke-width="0.45" />
<line x1="626.60" y1="600.90" x2="628.10" y2="577.40" stroke="#999" stroke-width="0.45" />
<line x1="634.40" y1="600.90" x2="632.90" y2="577.40" stroke="#999" stroke-width="0.45" />
<line x1="626.20" y1="577.40" x2="634.80" y2="577.40" stroke="#888" stroke-width="0.5" />
<path d="M626.4000000000001,600.4 L629.3,578.6 M634.5999999999999,600.4 L631.7,578.6" stroke="#aaa" stroke-width="0.4" fill="none" />
<path d="M627.6,600.4 L629.3,578.6 M633.4,600.4 L631.7,578.6" stroke="#aaa" stroke-width="0.4" fill="none" />
<path d="M628.8000000000001,600.4 L629.3,578.6 M632.1999999999999,600.4 L631.7,578.6" stroke="#aaa" stroke-width="0.4" fill="none" />
<line x1="387.00" y1="541.60" x2="649.80" y2="541.60" stroke="#000" stroke-width="1.5" />
<line x1="387.00" y1="575.20" x2="649.80" y2="575.20" stroke="#000" stroke-width="1.5" />
<line x1="416.60" y1="511.00" x2="416.60" y2="542.00" stroke="#000" stroke-width="1.3" />
<line x1="416.60" y1="575.00" x2="416.60" y2="605.00" stroke="#000" stroke-width="1.3" />
<line x1="424.50" y1="511.00" x2="424.50" y2="542.00" stroke="#000" stroke-width="1.3" />
<line x1="424.50" y1="575.00" x2="424.50" y2="605.00" stroke="#000" stroke-width="1.3" />
<line x1="473.60" y1="511.00" x2="473.60" y2="542.00" stroke="#000" stroke-width="1.3" />
<line x1="473.60" y1="575.00" x2="473.60" y2="605.00" stroke="#000" stroke-width="1.3" />
<line x1="481.90" y1="511.00" x2="481.90" y2="542.00" stroke="#000" stroke-width="1.3" />
<line x1="481.90" y1="575.00" x2="481.90" y2="605.00" stroke="#000" stroke-width="1.3" />
<line x1="557.20" y1="511.00" x2="557.20" y2="542.00" stroke="#000" stroke-width="1.3" />
<line x1="557.20" y1="575.00" x2="557.20" y2="605.00" stroke="#000" stroke-width="1.3" />
<line x1="566.60" y1="511.00" x2="566.60" y2="542.00" stroke="#000" stroke-width="1.3" />
<line x1="566.60" y1="575.00" x2="566.60" y2="605.00" stroke="#000" stroke-width="1.3" />
<line x1="615.00" y1="511.00" x2="615.00" y2="542.00" stroke="#000" stroke-width="1.3" />
<line x1="615.00" y1="575.00" x2="615.00" y2="605.00" stroke="#000" stroke-width="1.3" />
<line x1="622.60" y1="511.00" x2="622.60" y2="542.00" stroke="#000" stroke-width="1.3" />
<line x1="622.60" y1="575.00" x2="622.60" y2="605.00" stroke="#000" stroke-width="1.3" />
<line x1="444.40" y1="512.00" x2="444.40" y2="541.50" stroke="#111" stroke-width="1.2" />
<line x1="444.40" y1="575.00" x2="444.40" y2="604.00" stroke="#111" stroke-width="1.2" />
<line x1="453.90" y1="512.00" x2="453.90" y2="541.50" stroke="#111" stroke-width="1.2" />
<line x1="453.90" y1="575.00" x2="453.90" y2="604.00" stroke="#111" stroke-width="1.2" />
<line x1="585.60" y1="512.00" x2="585.60" y2="541.50" stroke="#111" stroke-width="1.2" />
<line x1="585.60" y1="575.00" x2="585.60" y2="604.00" stroke="#111" stroke-width="1.2" />
<line x1="596.00" y1="512.00" x2="596.00" y2="541.50" stroke="#111" stroke-width="1.2" />
<line x1="596.00" y1="575.00" x2="596.00" y2="604.00" stroke="#111" stroke-width="1.2" />
<line x1="398.00" y1="512.00" x2="398.00" y2="541.50" stroke="#111" stroke-width="1.2" />
<line x1="398.00" y1="575.00" x2="398.00" y2="604.00" stroke="#111" stroke-width="1.2" />
<line x1="499.40" y1="512.00" x2="499.40" y2="541.50" stroke="#111" stroke-width="1.2" />
<line x1="499.40" y1="575.00" x2="499.40" y2="604.00" stroke="#111" stroke-width="1.2" />
<line x1="500.80" y1="512.00" x2="500.80" y2="541.50" stroke="#111" stroke-width="1.2" />
<line x1="500.80" y1="575.00" x2="500.80" y2="604.00" stroke="#111" stroke-width="1.2" />
<line x1="515.80" y1="512.00" x2="515.80" y2="541.50" stroke="#111" stroke-width="1.2" />
<line x1="515.80" y1="575.00" x2="515.80" y2="604.00" stroke="#111" stroke-width="1.2" />
<line x1="523.30" y1="512.00" x2="523.30" y2="541.50" stroke="#111" stroke-width="1.2" />
<line x1="523.30" y1="575.00" x2="523.30" y2="604.00" stroke="#111" stroke-width="1.2" />
<line x1="539.00" y1="512.00" x2="539.00" y2="541.50" stroke="#111" stroke-width="1.2" />
<line x1="539.00" y1="575.00" x2="539.00" y2="604.00" stroke="#111" stroke-width="1.2" />
<line x1="540.40" y1="512.00" x2="540.40" y2="541.50" stroke="#111" stroke-width="1.2" />
<line x1="540.40" y1="575.00" x2="540.40" y2="604.00" stroke="#111" stroke-width="1.2" />
<line x1="519.40" y1="511.00" x2="519.40" y2="605.00" stroke="#000" stroke-width="2.2" />
<line x1="522.60" y1="511.00" x2="522.60" y2="605.00" stroke="#111" stroke-width="1.0" />
<path d="M445.5,516 L452.70000000000005,540 M452.70000000000005,516 L445.5,540 M447.3,516 L450.90000000000003,540 M450.90000000000003,516 L447.3,540" stroke="#333" stroke-width="0.6" fill="none" />
<ellipse cx="449.10" cy="528.00" rx="1.60" ry="5.00" stroke="#333" stroke-width="0.5" fill="#666" />
<path d="M445.5,577 L452.70000000000005,601 M452.70000000000005,577 L445.5,601 M447.3,577 L450.90000000000003,601 M450.90000000000003,577 L447.3,601" stroke="#333" stroke-width="0.6" fill="none" />
<ellipse cx="449.10" cy="589.00" rx="1.60" ry="5.00" stroke="#333" stroke-width="0.5" fill="#666" />
<path d="M587.1999999999999,516 L594.4,540 M594.4,516 L587.1999999999999,540 M589.0,516 L592.5999999999999,540 M592.5999999999999,516 L589.0,540" stroke="#333" stroke-width="0.6" fill="none" />
<ellipse cx="590.80" cy="528.00" rx="1.60" ry="5.00" stroke="#333" stroke-width="0.5" fill="#666" />
<path d="M587.1999999999999,577 L594.4,601 M594.4,577 L587.1999999999999,601 M589.0,577 L592.5999999999999,601 M592.5999999999999,577 L589.0,601" stroke="#333" stroke-width="0.6" fill="none" />
<ellipse cx="590.80" cy="589.00" rx="1.60" ry="5.00" stroke="#333" stroke-width="0.5" fill="#666" />
<path d="M411.4,541.6 Q412.4,536.0 415.0,536.0 Q417.4,536.0 418.2,540.2 Q420.4,537.4 422.59999999999997,540.2 Q423.4,536.0 425.79999999999995,536.0 Q428.4,536.0 429.4,541.6" stroke="#000" stroke-width="1.3" fill="#fff" />
<ellipse cx="420.40" cy="541.40" rx="1.00" ry="1.20" stroke="#000" stroke-width="0" fill="#111" />
<path d="M411.4,575.2 Q412.4,580.8000000000001 415.0,580.8000000000001 Q417.4,580.8000000000001 418.2,576.6 Q420.4,579.4000000000001 422.59999999999997,576.6 Q423.4,580.8000000000001 425.79999999999995,580.8000000000001 Q428.4,580.8000000000001 429.4,575.2" stroke="#000" stroke-width="1.3" fill="#fff" />
<ellipse cx="420.40" cy="575.40" rx="1.00" ry="1.20" stroke="#000" stroke-width="0" fill="#111" />
<path d="M468.6,541.6 Q469.6,536.0 472.20000000000005,536.0 Q474.6,536.0 475.40000000000003,540.2 Q477.6,537.4 479.8,540.2 Q480.6,536.0 483.0,536.0 Q485.6,536.0 486.6,541.6" stroke="#000" stroke-width="1.3" fill="#fff" />
<ellipse cx="477.60" cy="541.40" rx="1.00" ry="1.20" stroke="#000" stroke-width="0" fill="#111" />
<path d="M468.6,575.2 Q469.6,580.8000000000001 472.20000000000005,580.8000000000001 Q474.6,580.8000000000001 475.40000000000003,576.6 Q477.6,579.4000000000001 479.8,576.6 Q480.6,580.8000000000001 483.0,580.8000000000001 Q485.6,580.8000000000001 486.6,575.2" stroke="#000" stroke-width="1.3" fill="#fff" />
<ellipse cx="477.60" cy="575.40" rx="1.00" ry="1.20" stroke="#000" stroke-width="0" fill="#111" />
<path d="M553,541.6 Q554,536.0 556.6,536.0 Q559,536.0 559.8,540.2 Q562,537.4 564.2,540.2 Q565,536.0 567.4,536.0 Q570,536.0 571,541.6" stroke="#000" stroke-width="1.3" fill="#fff" />
<ellipse cx="562.00" cy="541.40" rx="1.00" ry="1.20" stroke="#000" stroke-width="0" fill="#111" />
<path d="M553,575.2 Q554,580.8000000000001 556.6,580.8000000000001 Q559,580.8000000000001 559.8,576.6 Q562,579.4000000000001 564.2,576.6 Q565,580.8000000000001 567.4,580.8000000000001 Q570,580.8000000000001 571,575.2" stroke="#000" stroke-width="1.3" fill="#fff" />
<ellipse cx="562.00" cy="575.40" rx="1.00" ry="1.20" stroke="#000" stroke-width="0" fill="#111" />
<path d="M609.8,541.6 Q610.8,536.0 613.4,536.0 Q615.8,536.0 616.5999999999999,540.2 Q618.8,537.4 621.0,540.2 Q621.8,536.0 624.1999999999999,536.0 Q626.8,536.0 627.8,541.6" stroke="#000" stroke-width="1.3" fill="#fff" />
<ellipse cx="618.80" cy="541.40" rx="1.00" ry="1.20" stroke="#000" stroke-width="0" fill="#111" />
<path d="M609.8,575.2 Q610.8,580.8000000000001 613.4,580.8000000000001 Q615.8,580.8000000000001 616.5999999999999,576.6 Q618.8,579.4000000000001 621.0,576.6 Q621.8,580.8000000000001 624.1999999999999,580.8000000000001 Q626.8,580.8000000000001 627.8,575.2" stroke="#000" stroke-width="1.3" fill="#fff" />
<ellipse cx="618.80" cy="575.40" rx="1.00" ry="1.20" stroke="#000" stroke-width="0" fill="#111" />
<path d="M658.6,543.7 L376,543.7 Q372.6,543.7 372.6,547 L372.6,570.6 Q372.6,573.8 376,573.8 L658.6,573.8" stroke="#000" stroke-width="1.0" fill="#fff" />
<line x1="374.00" y1="546.60" x2="658.60" y2="546.60" stroke="#666" stroke-width="0.5" />
<line x1="374.00" y1="571.00" x2="658.60" y2="571.00" stroke="#666" stroke-width="0.5" />
<line x1="374.60" y1="549.90" x2="658.60" y2="549.90" stroke="#000" stroke-width="1.8" />
<line x1="374.60" y1="566.80" x2="658.60" y2="566.80" stroke="#000" stroke-width="1.8" />
<line x1="374.60" y1="552.00" x2="658.60" y2="552.00" stroke="#777" stroke-width="0.5" />
<line x1="374.60" y1="564.80" x2="658.60" y2="564.80" stroke="#777" stroke-width="0.5" />
<path d="M372.6,552 L375.6,553.4 L375.6,563.4 L372.6,564.8" stroke="#000" stroke-width="0.9" fill="none" />
<line x1="373.90" y1="549.40" x2="373.90" y2="567.40" stroke="#000" stroke-width="2.0" stroke-dasharray="2.2 1.0"/>
<path d="M380.5,543.7 L381.5,540.1 Q383,538.3000000000001 384.5,540.1 L385.5,543.7" stroke="#000" stroke-width="0.9" fill="#fff" />
<path d="M380.5,573.8 L381.5,577.4 Q383,579.1999999999999 384.5,577.4 L385.5,573.8" stroke="#000" stroke-width="0.9" fill="#fff" />
<rect x="380.20" y="554.40" width="35.40" height="8.70" rx="4.35" stroke="#000" stroke-width="1.6" fill="#fff" />
<path d="M384.55,555.1999999999999 L393.652,555.1999999999999 L393.652,562.3000000000001 L384.55,562.3000000000001 A3.55,3.55 0 0 1 384.55,555.1999999999999 Z" stroke="#000" stroke-width="0" fill="#777" />
<rect x="383.70" y="555.70" width="6.35" height="6.10" rx="2.2" stroke="#444" stroke-width="0.8" fill="none" />
<rect x="391.05" y="555.70" width="6.35" height="6.10" rx="2.2" stroke="#444" stroke-width="0.8" fill="none" />
<rect x="398.40" y="555.70" width="6.35" height="6.10" rx="2.2" stroke="#444" stroke-width="0.8" fill="none" />
<rect x="405.75" y="555.70" width="6.35" height="6.10" rx="2.2" stroke="#444" stroke-width="0.8" fill="none" />
<rect x="427.50" y="554.40" width="35.40" height="8.70" rx="4.35" stroke="#000" stroke-width="1.6" fill="#fff" />
<rect x="431.00" y="555.70" width="6.35" height="6.10" rx="2.2" stroke="#444" stroke-width="0.8" fill="none" />
<rect x="438.35" y="555.70" width="6.35" height="6.10" rx="2.2" stroke="#444" stroke-width="0.8" fill="none" />
<rect x="445.70" y="555.70" width="6.35" height="6.10" rx="2.2" stroke="#444" stroke-width="0.8" fill="none" />
<rect x="453.05" y="555.70" width="6.35" height="6.10" rx="2.2" stroke="#444" stroke-width="0.8" fill="none" />
<rect x="474.80" y="554.40" width="35.40" height="8.70" rx="4.35" stroke="#000" stroke-width="1.6" fill="#fff" />
<rect x="478.30" y="555.70" width="6.35" height="6.10" rx="2.2" stroke="#444" stroke-width="0.8" fill="none" />
<rect x="485.65" y="555.70" width="6.35" height="6.10" rx="2.2" stroke="#444" stroke-width="0.8" fill="none" />
<rect x="493.00" y="555.70" width="6.35" height="6.10" rx="2.2" stroke="#444" stroke-width="0.8" fill="none" />
<rect x="500.35" y="555.70" width="6.35" height="6.10" rx="2.2" stroke="#444" stroke-width="0.8" fill="none" />
<rect x="522.10" y="554.40" width="35.40" height="8.70" rx="4.35" stroke="#000" stroke-width="1.6" fill="#fff" />
<rect x="525.60" y="555.70" width="6.35" height="6.10" rx="2.2" stroke="#444" stroke-width="0.8" fill="none" />
<rect x="532.95" y="555.70" width="6.35" height="6.10" rx="2.2" stroke="#444" stroke-width="0.8" fill="none" />
<rect x="540.30" y="555.70" width="6.35" height="6.10" rx="2.2" stroke="#444" stroke-width="0.8" fill="none" />
<rect x="547.65" y="555.70" width="6.35" height="6.10" rx="2.2" stroke="#444" stroke-width="0.8" fill="none" />
<rect x="569.40" y="554.40" width="35.40" height="8.70" rx="4.35" stroke="#000" stroke-width="1.6" fill="#fff" />
<rect x="572.90" y="555.70" width="6.35" height="6.10" rx="2.2" stroke="#444" stroke-width="0.8" fill="none" />
<rect x="580.25" y="555.70" width="6.35" height="6.10" rx="2.2" stroke="#444" stroke-width="0.8" fill="none" />
<rect x="587.60" y="555.70" width="6.35" height="6.10" rx="2.2" stroke="#444" stroke-width="0.8" fill="none" />
<rect x="594.95" y="555.70" width="6.35" height="6.10" rx="2.2" stroke="#444" stroke-width="0.8" fill="none" />
<rect x="616.70" y="554.40" width="35.40" height="8.70" rx="4.35" stroke="#000" stroke-width="1.6" fill="#fff" />
<rect x="620.20" y="555.70" width="6.35" height="6.10" rx="2.2" stroke="#444" stroke-width="0.8" fill="none" />
<rect x="627.55" y="555.70" width="6.35" height="6.10" rx="2.2" stroke="#444" stroke-width="0.8" fill="none" />
<rect x="634.90" y="555.70" width="6.35" height="6.10" rx="2.2" stroke="#444" stroke-width="0.8" fill="none" />
<rect x="642.25" y="555.70" width="6.35" height="6.10" rx="2.2" stroke="#444" stroke-width="0.8" fill="none" />
<line x1="516.00" y1="543.70" x2="516.00" y2="573.80" stroke="#000" stroke-width="0.9" />
<line x1="519.40" y1="543.70" x2="519.40" y2="573.80" stroke="#000" stroke-width="0.9" />
<text x="471.00" y="563.60" font-size="4.2" text-anchor="start" fill="#000" font-weight="bold" transform="rotate(-90 471.00 563.60)" textLength="9.60" lengthAdjust="spacing" >ACO</text>
<text x="612.80" y="563.60" font-size="4.2" text-anchor="start" fill="#000" font-weight="bold" transform="rotate(-90 612.80 563.60)" textLength="9.60" lengthAdjust="spacing" >ACO</text>
<ellipse cx="421.00" cy="547.80" rx="4.60" ry="1.30" stroke="#555" stroke-width="0.5" fill="#aaa" />
<ellipse cx="421.00" cy="569.80" rx="4.60" ry="1.30" stroke="#555" stroke-width="0.5" fill="#aaa" />
<ellipse cx="562.60" cy="547.80" rx="4.60" ry="1.30" stroke="#555" stroke-width="0.5" fill="#aaa" />
<ellipse cx="562.60" cy="569.80" rx="4.60" ry="1.30" stroke="#555" stroke-width="0.5" fill="#aaa" />
<ellipse cx="445.50" cy="546.60" rx="3.40" ry="1.10" stroke="#111" stroke-width="0.4" fill="#222" />
<line x1="447.50" y1="546.60" x2="450.90" y2="546.60" stroke="#222" stroke-width="1.0" />
<ellipse cx="445.50" cy="570.60" rx="3.40" ry="1.10" stroke="#111" stroke-width="0.4" fill="#222" />
<line x1="447.50" y1="570.60" x2="450.90" y2="570.60" stroke="#222" stroke-width="1.0" />
<ellipse cx="587.00" cy="546.60" rx="3.40" ry="1.10" stroke="#111" stroke-width="0.4" fill="#222" />
<line x1="589.00" y1="546.60" x2="592.40" y2="546.60" stroke="#222" stroke-width="1.0" />
<ellipse cx="587.00" cy="570.60" rx="3.40" ry="1.10" stroke="#111" stroke-width="0.4" fill="#222" />
<line x1="589.00" y1="570.60" x2="592.40" y2="570.60" stroke="#222" stroke-width="1.0" />
<ellipse cx="476.40" cy="547.60" rx="2.60" ry="1.40" stroke="#444" stroke-width="0.4" fill="#888" />
<ellipse cx="476.40" cy="570.00" rx="2.60" ry="1.40" stroke="#444" stroke-width="0.4" fill="#888" />
<ellipse cx="617.60" cy="547.60" rx="2.60" ry="1.40" stroke="#444" stroke-width="0.4" fill="#888" />
<ellipse cx="617.60" cy="570.00" rx="2.60" ry="1.40" stroke="#444" stroke-width="0.4" fill="#888" />
<rect x="483.00" y="546.60" width="3.60" height="1.20" rx="0" stroke="#000" stroke-width="0" fill="#222" />
<rect x="489.00" y="546.60" width="3.60" height="1.20" rx="0" stroke="#000" stroke-width="0" fill="#222" />
<rect x="495.00" y="546.60" width="3.60" height="1.20" rx="0" stroke="#000" stroke-width="0" fill="#222" />
<rect x="624.20" y="546.60" width="3.60" height="1.20" rx="0" stroke="#000" stroke-width="0" fill="#222" />
<rect x="630.20" y="546.60" width="3.60" height="1.20" rx="0" stroke="#000" stroke-width="0" fill="#222" />
<rect x="636.20" y="546.60" width="3.60" height="1.20" rx="0" stroke="#000" stroke-width="0" fill="#222" />
<path d="M410.2,509.8 L412.0,505.2 L423.09999999999997,505.2 L424.9,509.8" stroke="#000" stroke-width="1.1" fill="#fff" />
<ellipse cx="414.80" cy="507.60" rx="1.10" ry="1.10" stroke="#111" stroke-width="0.6" fill="none" />
<ellipse cx="420.40" cy="507.60" rx="1.10" ry="1.10" stroke="#111" stroke-width="0.6" fill="none" />
<path d="M410.2,606.3 L412.0,611 L423.09999999999997,611 L424.9,606.3" stroke="#000" stroke-width="1.1" fill="#555" />
<line x1="413.20" y1="604.50" x2="413.20" y2="610.40" stroke="#ddd" stroke-width="0.6" />
<line x1="415.60" y1="604.50" x2="415.60" y2="610.40" stroke="#ddd" stroke-width="0.6" />
<line x1="418.00" y1="604.50" x2="418.00" y2="610.40" stroke="#ddd" stroke-width="0.6" />
<line x1="420.40" y1="604.50" x2="420.40" y2="610.40" stroke="#ddd" stroke-width="0.6" />
<path d="M563.0,509.8 L564.8,505.2 L575.9,505.2 L577.7,509.8" stroke="#000" stroke-width="1.1" fill="#fff" />
<ellipse cx="567.60" cy="507.60" rx="1.10" ry="1.10" stroke="#111" stroke-width="0.6" fill="none" />
<ellipse cx="573.20" cy="507.60" rx="1.10" ry="1.10" stroke="#111" stroke-width="0.6" fill="none" />
<path d="M563.0,606.3 L564.8,611 L575.9,611 L577.7,606.3" stroke="#000" stroke-width="1.1" fill="#555" />
<line x1="566.00" y1="604.50" x2="566.00" y2="610.40" stroke="#ddd" stroke-width="0.6" />
<line x1="568.40" y1="604.50" x2="568.40" y2="610.40" stroke="#ddd" stroke-width="0.6" />
<line x1="570.80" y1="604.50" x2="570.80" y2="610.40" stroke="#ddd" stroke-width="0.6" />
<line x1="573.20" y1="604.50" x2="573.20" y2="610.40" stroke="#ddd" stroke-width="0.6" />
<rect x="609.60" y="501.60" width="18.20" height="8.60" rx="0" stroke="#000" stroke-width="1.0" fill="#fff" />
<ellipse cx="618.70" cy="508.00" rx="1.10" ry="1.10" stroke="#111" stroke-width="0.7" fill="none" />
<rect x="609.60" y="606.30" width="18.20" height="9.70" rx="0" stroke="#000" stroke-width="1.0" fill="#fff" />
<ellipse cx="618.70" cy="608.80" rx="1.10" ry="1.10" stroke="#111" stroke-width="0.7" fill="none" />
<line x1="613.60" y1="511.00" x2="613.60" y2="542.00" stroke="#000" stroke-width="1.2" />
<line x1="624.00" y1="511.00" x2="624.00" y2="542.00" stroke="#000" stroke-width="1.2" />
<line x1="613.60" y1="575.00" x2="613.60" y2="605.00" stroke="#000" stroke-width="1.2" />
<line x1="624.00" y1="575.00" x2="624.00" y2="605.00" stroke="#000" stroke-width="1.2" />
<path d="M649.8,514 L669,514 Q670.8,514 670.8,515.8 L670.8,601.6 Q670.8,603.4 669,603.4 L649.8,603.4" stroke="#000" stroke-width="1.0" fill="none" />
<line x1="667.60" y1="517.00" x2="667.60" y2="538.00" stroke="#555" stroke-width="0.8" />
<line x1="667.60" y1="579.00" x2="667.60" y2="600.40" stroke="#555" stroke-width="0.8" />
<line x1="667.60" y1="538.00" x2="670.80" y2="538.00" stroke="#555" stroke-width="0.6" />
<line x1="667.60" y1="579.00" x2="670.80" y2="579.00" stroke="#555" stroke-width="0.6" />
<rect x="639.90" y="516.50" width="6.60" height="4.60" rx="0" stroke="#000" stroke-width="0" fill="#888" />
<rect x="639.90" y="535.00" width="6.60" height="6.80" rx="0" stroke="#000" stroke-width="0" fill="#888" />
<rect x="639.90" y="573.70" width="6.60" height="7.60" rx="0" stroke="#000" stroke-width="0" fill="#888" />
<rect x="639.90" y="595.70" width="6.60" height="5.40" rx="0" stroke="#000" stroke-width="0" fill="#888" />
<line x1="638.00" y1="514.20" x2="638.00" y2="541.40" stroke="#333" stroke-width="0.9" />
<line x1="638.00" y1="575.40" x2="638.00" y2="603.00" stroke="#333" stroke-width="0.9" />
<line x1="633.60" y1="520.00" x2="633.60" y2="540.00" stroke="#000" stroke-width="1.3" />
<line x1="633.60" y1="577.00" x2="633.60" y2="597.00" stroke="#000" stroke-width="1.3" />
<path d="M649.8,543.7 L651,541 Q652,538.6 654,540.6 L655,543 L660.6,543 L660.6,546.4 L658.6,546.4" stroke="#000" stroke-width="0.9" fill="#fff" />
<path d="M649.8,573.8 L651,576.6 Q652,579 654,577 L655,574.6 L660.6,574.6 L660.6,571.2 L658.6,571.2" stroke="#000" stroke-width="0.9" fill="#fff" />
<line x1="658.60" y1="543.70" x2="658.60" y2="573.80" stroke="#000" stroke-width="1.0" />
<ellipse cx="660.00" cy="545.40" rx="1.50" ry="1.20" stroke="#555" stroke-width="0.5" fill="#ccc" />
<ellipse cx="660.00" cy="572.00" rx="1.50" ry="1.20" stroke="#555" stroke-width="0.5" fill="#ccc" />
<line x1="658.60" y1="549.90" x2="658.60" y2="566.80" stroke="#000" stroke-width="1.4" />
<rect x="658.60" y="553.50" width="19.10" height="11.50" rx="0" stroke="#666" stroke-width="0.8" fill="#fff" />
<line x1="658.60" y1="556.20" x2="677.70" y2="556.20" stroke="#888" stroke-width="0.6" />
<line x1="658.60" y1="562.40" x2="677.70" y2="562.40" stroke="#888" stroke-width="0.6" />
<rect x="674.40" y="556.60" width="2.20" height="5.40" rx="0" stroke="#000" stroke-width="0" fill="#999" />
<line x1="356.30" y1="474.80" x2="356.30" y2="506.40" stroke="#0a0a0a" stroke-width="0.9" />
<line x1="678.80" y1="474.80" x2="678.80" y2="565.00" stroke="#0a0a0a" stroke-width="0.9" />
<line x1="356.30" y1="477.40" x2="678.80" y2="477.40" stroke="#0a0a0a" stroke-width="0.9" />
<polygon points="356.30,477.40 364.20,476.00 364.20,478.80" fill="#0a0a0a"/>
<polygon points="678.80,477.40 670.90,478.80 670.90,476.00" fill="#0a0a0a"/>
<text x="499.10" y="475.90" font-size="9.7" text-anchor="start" fill="#000" textLength="37.40" lengthAdjust="spacing" >1136mm</text>
<line x1="332.20" y1="555.07" x2="380.80" y2="555.07" stroke="#0a0a0a" stroke-width="0.9" />
<line x1="332.20" y1="562.29" x2="380.80" y2="562.29" stroke="#0a0a0a" stroke-width="0.9" />
<line x1="335.50" y1="513.70" x2="335.50" y2="575.80" stroke="#0a0a0a" stroke-width="0.9" />
<polygon points="335.50,555.07 334.10,547.17 336.90,547.17" fill="#0a0a0a"/>
<polygon points="335.50,562.29 336.90,570.19 334.10,570.19" fill="#0a0a0a"/>
<text x="332.80" y="544.00" font-size="9.7" text-anchor="start" fill="#000" transform="rotate(-90 332.80 544.00)" textLength="27.10" lengthAdjust="spacing" >25mm</text>
<line x1="380.40" y1="606.60" x2="380.40" y2="632.00" stroke="#0a0a0a" stroke-width="0.9" />
<line x1="415.60" y1="611.00" x2="415.60" y2="632.00" stroke="#0a0a0a" stroke-width="0.9" />
<line x1="380.40" y1="629.30" x2="456.00" y2="629.30" stroke="#0a0a0a" stroke-width="0.9" />
<polygon points="380.40,629.30 388.30,627.90 388.30,630.70" fill="#0a0a0a"/>
<polygon points="415.60,629.30 407.70,630.70 407.70,627.90" fill="#0a0a0a"/>
<text x="422.00" y="627.50" font-size="9.7" text-anchor="start" fill="#000" textLength="31.00" lengthAdjust="spacing" >125mm</text>
<path d="M649.8,514 L701.4,562 L643,604.5" stroke="#0a0a0a" stroke-width="0.9" fill="none" />
<line x1="701.40" y1="562.00" x2="750.90" y2="562.00" stroke="#0a0a0a" stroke-width="0.9" />
<text x="703.60" y="559.40" font-size="9.7" text-anchor="start" fill="#000" textLength="48.40" lengthAdjust="spacing" >EPDM seal</text>
</g>
<g id="iso" stroke-linejoin="round" stroke-linecap="round">
<path d="M1060.2,492.7 L1062.6,495.6 L1065.1,498.4 L1067.6,500.9 L1070.2,503.2 L1072.9,505.3 L1075.5,507.2 L1078.2,508.7 L1080.8,510.0 L1083.4,511.0 L1086.0,511.7 L1088.4,512.1 L1090.8,512.2 L1093.1,512.0 L1095.2,511.5 L1097.2,510.7 L1099.0,509.6 L1100.6,508.2 L1102.1,506.6 L1103.3,504.7 L1104.4,502.5 L1105.2,500.1 L1105.8,497.5 L1106.2,494.7 L1106.4,491.7 L1106.4,488.5 L1106.1,485.3 L1105.6,481.9 L1104.9,478.4 L1103.9,474.9 L1102.8,471.3 L1101.4,467.8 L1099.9,464.2 L1098.1,460.7 L1096.2,457.3 L1094.2,454.0 L1092.0,450.8 L1089.7,447.7 L1087.3,444.9 L1084.8,442.1 L1082.2,439.7 L1079.6,437.4 L1076.9,435.3 L1074.3,433.6 L1071.6,432.1 L1069.0,430.9 L1066.4,429.9 L1063.9,429.3 L1061.4,429.0" stroke="#000" stroke-width="1.1" fill="none" />
<path d="M1071.0,506.8 L1074.2,508.9 L1077.5,510.7 L1080.7,512.0 L1083.8,512.9 L1086.8,513.4 L1089.7,513.4 L1092.3,512.9 L1094.8,512.0 L1097.0,510.7 L1099.0,508.9 L1100.7,506.7 L1102.0,504.1 L1103.1,501.2 L1103.8,498.0 L1104.2,494.4 L1104.2,490.7 L1103.9,486.7 L1103.3,482.5 L1102.3,478.3 L1101.0,473.9 L1099.4,469.6 L1097.6,465.2 L1095.4,461.0 L1093.0,456.8 L1090.4,452.8 L1087.6,449.1 L1084.6,445.5 L1081.5,442.3 L1078.3,439.4 L1075.1,436.8" stroke="#555" stroke-width="0.6" fill="none" />
<line x1="1071.16" y1="525.44" x2="1097.75" y2="510.39" stroke="#000" stroke-width="1.0" />
<line x1="1026.09" y1="445.78" x2="1052.68" y2="430.73" stroke="#000" stroke-width="1.0" />
<path d="M1073.6,466.8 L1080.6,462.9 L1084.2,469.2 L1077.2,473.1 Z" stroke="#555" stroke-width="0.4" fill="#888" />
<path d="M1083.8,490.6 L1090.8,486.7 L1092.0,493.1 L1085.0,497.0 Z" stroke="#555" stroke-width="0.4" fill="#888" />
<path d="M833.7,548.8 L1024.6,443.1 L1029.0,441.5 L1033.9,441.3 L1039.3,442.3 L1045.0,444.7 L1050.8,448.3 L1056.6,453.1 L1062.0,458.8 L1067.1,465.4 L1071.6,472.6 L1075.5,480.1 L1078.5,487.9 L1080.6,495.6 L1081.7,502.9 L1081.8,509.8 L1080.9,515.9 L1079.1,521.0 L1076.3,525.2 L1072.6,528.1 L883.7,637.3 Z" stroke="#111" stroke-width="0" fill="#fff" />
<path d="M903.7,623.5 L906.4,622.1 L908.7,620.1 L910.7,617.7 L912.3,614.7 L913.5,611.3 L914.3,607.5 L914.6,603.4 L914.6,599.0 L914.1,594.3 L913.2,589.4 L911.8,584.4 L910.1,579.4 L908.0,574.4 L905.6,569.4 L902.9,564.6 L899.9,560.0 L896.6,555.7 L893.2,551.6 L889.6,548.0 L885.9,544.7 L882.1,541.9 L878.4,539.6 L874.6,537.9 L871.0,536.6 L867.5,536.0 L864.1,535.8 L861.0,536.3 L858.2,537.3" stroke="#000" stroke-width="1.7" fill="none" />
<path d="M916.8,616.1 L919.5,614.7 L921.8,612.7 L923.8,610.3 L925.4,607.3 L926.6,603.9 L927.3,600.1 L927.7,596.0 L927.6,591.6 L927.2,586.9 L926.2,582.0 L924.9,577.0 L923.2,572.0 L921.1,567.0 L918.7,562.0 L916.0,557.2 L913.0,552.6 L909.7,548.3 L906.3,544.2 L902.7,540.6 L899.0,537.3 L895.2,534.5 L891.4,532.2 L887.7,530.5 L884.1,529.2 L880.5,528.5 L877.2,528.4 L874.1,528.9 L871.3,529.9" stroke="#000" stroke-width="1.7" fill="none" />
<path d="M905.3,622.0 L907.8,620.5 L910.0,618.4 L911.8,615.9 L913.2,613.0 L914.3,609.6 L915.0,605.9 L915.3,601.9 L915.2,597.5 L914.6,593.0 L913.7,588.3 L912.4,583.5 L910.7,578.6 L908.7,573.8 L906.4,569.0 L903.7,564.3 L900.8,559.9 L897.7,555.7 L894.4,551.7 L890.9,548.2 L887.4,545.0 L883.7,542.2 L880.1,539.9 L876.5,538.1 L872.9,536.8 L869.5,536.0 L866.2,535.8 L863.2,536.1 L860.3,536.9" stroke="#555" stroke-width="0.5" fill="none" />
<path d="M916.3,615.8 L918.8,614.3 L921.0,612.2 L922.8,609.7 L924.2,606.8 L925.3,603.4 L926.0,599.7 L926.3,595.6 L926.1,591.3 L925.6,586.8 L924.7,582.1 L923.4,577.3 L921.7,572.4 L919.7,567.5 L917.4,562.8 L914.7,558.1 L911.8,553.7 L908.7,549.4 L905.4,545.5 L901.9,542.0 L898.4,538.8 L894.7,536.0 L891.1,533.7 L887.5,531.9 L883.9,530.6 L880.5,529.8 L877.2,529.6 L874.2,529.9 L871.3,530.7" stroke="#555" stroke-width="0.5" fill="none" />
<path d="M916.1,586.2 L915.8,585.0 L915.5,583.8 L915.1,582.5 L914.8,581.3 L914.4,580.1 L913.9,578.8 L913.5,577.6 L913.0,576.3 L912.5,575.1 L912.0,573.9 L911.5,572.6 L910.9,571.4 L910.3,570.2 L909.7,569.0 L909.1,567.8 L908.4,566.5 L907.8,565.4 L907.1,564.2 L906.4,563.0 L905.7,561.8 L905.0,560.7 L904.2,559.6 L903.4,558.5 L902.7,557.4 L901.9,556.3 L901.1,555.2 L900.2,554.2 L899.4,553.1" stroke="#777" stroke-width="0.5" fill="none" />
<path d="M909.6,619.1 L910.1,618.8 L910.6,618.4 L911.1,618.0 L911.5,617.6 L912.0,617.2 L912.4,616.7 L912.8,616.2 L913.3,615.7 L913.6,615.2 L914.0,614.6 L914.4,614.1 L914.7,613.5 L915.0,612.9 L915.3,612.3 L915.6,611.6 L915.9,610.9 L916.2,610.3 L916.4,609.6 L916.6,608.8 L916.8,608.1 L917.0,607.4 L917.2,606.6 L917.3,605.8 L917.5,605.0 L917.6,604.2 L917.7,603.4 L917.8,602.5 L917.8,601.7" stroke="#777" stroke-width="0.5" fill="none" />
<path d="M918.7,584.8 L918.4,583.5 L918.1,582.3 L917.8,581.1 L917.4,579.8 L917.0,578.6 L916.5,577.3 L916.1,576.1 L915.6,574.9 L915.1,573.6 L914.6,572.4 L914.1,571.2 L913.5,569.9 L912.9,568.7 L912.3,567.5 L911.7,566.3 L911.1,565.1 L910.4,563.9 L909.7,562.7 L909.0,561.5 L908.3,560.4 L907.6,559.2 L906.8,558.1 L906.1,557.0 L905.3,555.9 L904.5,554.8 L903.7,553.7 L902.9,552.7 L902.0,551.7" stroke="#777" stroke-width="0.5" fill="none" />
<path d="M912.2,617.6 L912.7,617.3 L913.2,616.9 L913.7,616.5 L914.2,616.1 L914.6,615.7 L915.0,615.2 L915.5,614.7 L915.9,614.2 L916.3,613.7 L916.6,613.2 L917.0,612.6 L917.3,612.0 L917.7,611.4 L918.0,610.8 L918.3,610.1 L918.5,609.5 L918.8,608.8 L919.0,608.1 L919.2,607.4 L919.4,606.6 L919.6,605.9 L919.8,605.1 L920.0,604.3 L920.1,603.5 L920.2,602.7 L920.3,601.9 L920.4,601.0 L920.4,600.2" stroke="#777" stroke-width="0.5" fill="none" />
<path d="M921.4,583.3 L921.1,582.0 L920.7,580.8 L920.4,579.6 L920.0,578.3 L919.6,577.1 L919.2,575.9 L918.7,574.6 L918.2,573.4 L917.7,572.1 L917.2,570.9 L916.7,569.7 L916.1,568.4 L915.5,567.2 L914.9,566.0 L914.3,564.8 L913.7,563.6 L913.0,562.4 L912.3,561.2 L911.6,560.0 L910.9,558.9 L910.2,557.7 L909.4,556.6 L908.7,555.5 L907.9,554.4 L907.1,553.3 L906.3,552.2 L905.5,551.2 L904.6,550.2" stroke="#777" stroke-width="0.5" fill="none" />
<path d="M914.8,616.2 L915.3,615.8 L915.8,615.4 L916.3,615.0 L916.8,614.6 L917.2,614.2 L917.7,613.7 L918.1,613.3 L918.5,612.7 L918.9,612.2 L919.2,611.7 L919.6,611.1 L919.9,610.5 L920.3,609.9 L920.6,609.3 L920.9,608.7 L921.1,608.0 L921.4,607.3 L921.6,606.6 L921.9,605.9 L922.1,605.2 L922.2,604.4 L922.4,603.6 L922.6,602.8 L922.7,602.0 L922.8,601.2 L922.9,600.4 L923.0,599.6 L923.0,598.7" stroke="#777" stroke-width="0.5" fill="none" />
<path d="M914.7,590.8 L895.4,551.5 L904.9,546.1 L925.0,585.0 Z" stroke="#000" stroke-width="1.1" fill="none" />
<path d="M915.5,585.3 L900.3,554.2 L906.3,550.9 L922.2,581.5 Z" stroke="#666" stroke-width="0.5" fill="none" />
<path d="M906.2,622.3 L907.1,622.2 L907.9,622.1 L908.8,621.9 L909.6,621.7 L910.4,621.5 L911.1,621.2 L911.9,620.8 L912.6,620.5 L913.3,620.0 L914.0,619.6 L914.7,619.1 L915.3,618.6 L915.9,618.0 L916.5,617.4 L917.0,616.7 L917.6,616.1 L918.1,615.3 L918.6,614.6 L919.0,613.8 L919.4,613.0 L919.8,612.2 L920.2,611.3 L920.5,610.4 L920.8,609.4 L921.1,608.4 L921.4,607.4 L921.6,606.4 L921.8,605.4" stroke="#111" stroke-width="1.0" fill="none" />
<path d="M909.6,620.2 L910.2,620.0 L910.9,619.8 L911.5,619.6 L912.2,619.4 L912.8,619.1 L913.4,618.8 L914.0,618.5 L914.5,618.2 L915.1,617.8 L915.6,617.4 L916.2,617.0 L916.7,616.6 L917.2,616.1 L917.7,615.6 L918.1,615.1 L918.6,614.5 L919.0,613.9 L919.4,613.3 L919.8,612.7 L920.1,612.1 L920.5,611.4 L920.8,610.7 L921.1,610.0 L921.4,609.3 L921.7,608.5 L921.9,607.8 L922.2,607.0 L922.4,606.2" stroke="#555" stroke-width="0.5" fill="none" />
<path d="M922.8,612.7 L925.4,611.3 L927.8,609.3 L929.7,606.9 L931.3,603.9 L932.5,600.5 L933.3,596.8 L933.7,592.6 L933.6,588.2 L933.1,583.5 L932.2,578.6 L930.9,573.7 L929.2,568.6 L927.1,563.6 L924.7,558.7 L921.9,553.9 L918.9,549.2 L915.7,544.9 L912.2,540.9 L908.6,537.2 L904.9,534.0 L901.2,531.2 L897.4,528.9 L893.7,527.1 L890.0,525.8 L886.5,525.2 L883.2,525.1 L880.1,525.5 L877.2,526.6" stroke="#000" stroke-width="1.7" fill="none" />
<path d="M936.5,604.9 L939.2,603.5 L941.5,601.6 L943.5,599.1 L945.1,596.2 L946.3,592.8 L947.0,589.0 L947.4,584.8 L947.3,580.4 L946.8,575.7 L945.9,570.9 L944.6,565.9 L942.9,560.9 L940.8,555.8 L938.4,550.9 L935.7,546.1 L932.7,541.5 L929.4,537.1 L926.0,533.1 L922.4,529.4 L918.7,526.2 L914.9,523.4 L911.1,521.1 L907.4,519.3 L903.8,518.1 L900.2,517.4 L896.9,517.3 L893.8,517.8 L891.0,518.8" stroke="#000" stroke-width="1.7" fill="none" />
<path d="M924.4,611.2 L926.9,609.7 L929.0,607.7 L930.8,605.2 L932.3,602.2 L933.4,598.9 L934.0,595.1 L934.3,591.1 L934.2,586.8 L933.7,582.2 L932.8,577.5 L931.5,572.7 L929.8,567.8 L927.8,563.0 L925.4,558.2 L922.8,553.6 L919.9,549.1 L916.8,544.9 L913.4,541.0 L910.0,537.4 L906.4,534.2 L902.8,531.4 L899.1,529.1 L895.5,527.3 L892.0,526.0 L888.6,525.2 L885.3,525.0 L882.2,525.3 L879.4,526.1" stroke="#555" stroke-width="0.5" fill="none" />
<path d="M936.0,604.6 L938.5,603.1 L940.6,601.1 L942.5,598.6 L943.9,595.6 L945.0,592.3 L945.7,588.5 L946.0,584.5 L945.8,580.2 L945.3,575.6 L944.4,570.9 L943.1,566.1 L941.4,561.2 L939.4,556.4 L937.1,551.6 L934.4,547.0 L931.5,542.5 L928.4,538.3 L925.1,534.4 L921.6,530.8 L918.0,527.6 L914.4,524.9 L910.8,522.5 L907.2,520.7 L903.6,519.4 L900.2,518.7 L896.9,518.4 L893.9,518.7 L891.0,519.5" stroke="#555" stroke-width="0.5" fill="none" />
<path d="M935.4,575.3 L935.1,574.1 L934.7,572.9 L934.4,571.7 L934.0,570.4 L933.6,569.2 L933.2,567.9 L932.7,566.7 L932.3,565.5 L931.8,564.2 L931.2,563.0 L930.7,561.7 L930.1,560.5 L929.6,559.3 L929.0,558.1 L928.3,556.9 L927.7,555.7 L927.0,554.5 L926.4,553.3 L925.7,552.1 L924.9,551.0 L924.2,549.8 L923.5,548.7 L922.7,547.6 L921.9,546.5 L921.1,545.4 L920.3,544.3 L919.5,543.3 L918.7,542.2" stroke="#777" stroke-width="0.5" fill="none" />
<path d="M928.8,608.2 L929.4,607.9 L929.8,607.5 L930.3,607.1 L930.8,606.7 L931.2,606.3 L931.7,605.8 L932.1,605.3 L932.5,604.8 L932.9,604.3 L933.3,603.7 L933.6,603.2 L934.0,602.6 L934.3,602.0 L934.6,601.4 L934.9,600.7 L935.2,600.1 L935.4,599.4 L935.7,598.7 L935.9,598.0 L936.1,597.2 L936.3,596.5 L936.4,595.7 L936.6,594.9 L936.7,594.1 L936.8,593.3 L936.9,592.5 L937.0,591.6 L937.1,590.8" stroke="#777" stroke-width="0.5" fill="none" />
<path d="M938.1,573.8 L937.8,572.6 L937.5,571.3 L937.1,570.1 L936.8,568.9 L936.4,567.6 L935.9,566.4 L935.5,565.1 L935.0,563.9 L934.5,562.7 L934.0,561.4 L933.5,560.2 L932.9,559.0 L932.3,557.7 L931.7,556.5 L931.1,555.3 L930.4,554.1 L929.8,552.9 L929.1,551.7 L928.4,550.6 L927.7,549.4 L927.0,548.3 L926.2,547.1 L925.4,546.0 L924.7,544.9 L923.9,543.8 L923.1,542.8 L922.2,541.7 L921.4,540.7" stroke="#777" stroke-width="0.5" fill="none" />
<path d="M931.6,606.7 L932.1,606.3 L932.6,606.0 L933.1,605.6 L933.5,605.1 L934.0,604.7 L934.4,604.3 L934.8,603.8 L935.2,603.3 L935.6,602.7 L936.0,602.2 L936.4,601.6 L936.7,601.0 L937.0,600.4 L937.3,599.8 L937.6,599.2 L937.9,598.5 L938.2,597.8 L938.4,597.1 L938.6,596.4 L938.8,595.7 L939.0,594.9 L939.2,594.1 L939.3,593.4 L939.5,592.6 L939.6,591.7 L939.7,590.9 L939.7,590.1 L939.8,589.2" stroke="#777" stroke-width="0.5" fill="none" />
<path d="M940.9,572.2 L940.6,571.0 L940.2,569.8 L939.9,568.6 L939.5,567.3 L939.1,566.1 L938.7,564.8 L938.2,563.6 L937.7,562.3 L937.3,561.1 L936.7,559.9 L936.2,558.6 L935.6,557.4 L935.1,556.2 L934.4,555.0 L933.8,553.8 L933.2,552.6 L932.5,551.4 L931.8,550.2 L931.1,549.0 L930.4,547.8 L929.7,546.7 L928.9,545.6 L928.2,544.5 L927.4,543.4 L926.6,542.3 L925.8,541.2 L925.0,540.2 L924.2,539.1" stroke="#777" stroke-width="0.5" fill="none" />
<path d="M934.3,605.1 L934.8,604.8 L935.3,604.4 L935.8,604.0 L936.3,603.6 L936.7,603.2 L937.2,602.7 L937.6,602.2 L938.0,601.7 L938.4,601.2 L938.8,600.6 L939.1,600.1 L939.5,599.5 L939.8,598.9 L940.1,598.3 L940.4,597.6 L940.6,597.0 L940.9,596.3 L941.1,595.6 L941.4,594.9 L941.6,594.1 L941.8,593.4 L941.9,592.6 L942.1,591.8 L942.2,591.0 L942.3,590.2 L942.4,589.4 L942.5,588.5 L942.6,587.7" stroke="#777" stroke-width="0.5" fill="none" />
<path d="M933.8,580.0 L914.4,540.7 L924.6,535.0 L944.7,573.8 Z" stroke="#000" stroke-width="1.1" fill="none" />
<path d="M934.5,574.5 L919.3,543.5 L926.0,539.7 L941.9,570.3 Z" stroke="#666" stroke-width="0.5" fill="none" />
<path d="M925.6,611.4 L926.5,611.3 L927.3,611.1 L928.1,611.0 L929.0,610.8 L929.7,610.5 L930.5,610.2 L931.3,609.9 L932.0,609.5 L932.7,609.1 L933.4,608.6 L934.0,608.1 L934.7,607.6 L935.3,607.0 L935.9,606.4 L936.4,605.8 L937.0,605.1 L937.5,604.4 L937.9,603.6 L938.4,602.9 L938.8,602.0 L939.2,601.2 L939.6,600.3 L939.9,599.4 L940.2,598.5 L940.5,597.5 L940.8,596.5 L941.0,595.5 L941.2,594.4" stroke="#111" stroke-width="1.0" fill="none" />
<path d="M928.9,609.2 L929.6,609.0 L930.3,608.9 L930.9,608.7 L931.5,608.4 L932.2,608.2 L932.8,607.9 L933.4,607.6 L933.9,607.2 L934.5,606.9 L935.0,606.5 L935.6,606.0 L936.1,605.6 L936.6,605.1 L937.0,604.6 L937.5,604.1 L937.9,603.6 L938.4,603.0 L938.8,602.4 L939.1,601.8 L939.5,601.1 L939.9,600.5 L940.2,599.8 L940.5,599.1 L940.8,598.3 L941.1,597.6 L941.3,596.8 L941.5,596.0 L941.7,595.2" stroke="#555" stroke-width="0.5" fill="none" />
<path d="M943.7,600.9 L946.3,599.5 L948.7,597.5 L950.6,595.1 L952.2,592.1 L953.4,588.7 L954.2,584.9 L954.6,580.8 L954.5,576.3 L954.0,571.7 L953.1,566.8 L951.8,561.8 L950.1,556.8 L948.0,551.8 L945.6,546.8 L942.9,542.0 L939.8,537.4 L936.6,533.1 L933.1,529.0 L929.5,525.4 L925.8,522.1 L922.1,519.3 L918.3,517.0 L914.6,515.3 L910.9,514.0 L907.4,513.3 L904.1,513.2 L901.0,513.7 L898.1,514.7" stroke="#000" stroke-width="1.7" fill="none" />
<path d="M956.8,593.4 L959.5,592.0 L961.8,590.1 L963.8,587.6 L965.4,584.7 L966.6,581.3 L967.4,577.5 L967.7,573.3 L967.7,568.9 L967.2,564.2 L966.3,559.4 L965.0,554.4 L963.2,549.4 L961.2,544.3 L958.7,539.4 L956.0,534.6 L953.0,530.0 L949.7,525.6 L946.3,521.6 L942.7,517.9 L939.0,514.7 L935.2,511.9 L931.5,509.6 L927.7,507.8 L924.1,506.6 L920.6,505.9 L917.2,505.8 L914.1,506.3 L911.3,507.3" stroke="#000" stroke-width="1.7" fill="none" />
<path d="M945.3,599.4 L947.8,597.9 L949.9,595.8 L951.7,593.3 L953.2,590.4 L954.3,587.0 L955.0,583.3 L955.2,579.3 L955.1,574.9 L954.6,570.4 L953.7,565.7 L952.4,560.9 L950.7,556.0 L948.7,551.2 L946.3,546.4 L943.7,541.7 L940.8,537.3 L937.7,533.1 L934.3,529.1 L930.9,525.6 L927.3,522.4 L923.7,519.6 L920.0,517.3 L916.4,515.5 L912.9,514.2 L909.5,513.4 L906.2,513.2 L903.1,513.5 L900.3,514.3" stroke="#555" stroke-width="0.5" fill="none" />
<path d="M956.4,593.1 L958.8,591.6 L961.0,589.6 L962.8,587.1 L964.3,584.1 L965.3,580.8 L966.0,577.0 L966.3,573.0 L966.2,568.7 L965.7,564.1 L964.7,559.4 L963.4,554.6 L961.8,549.7 L959.7,544.9 L957.4,540.1 L954.8,535.5 L951.9,531.0 L948.7,526.8 L945.4,522.9 L942.0,519.3 L938.4,516.1 L934.8,513.3 L931.1,511.0 L927.5,509.2 L924.0,507.9 L920.5,507.1 L917.3,506.9 L914.2,507.2 L911.4,508.0" stroke="#555" stroke-width="0.5" fill="none" />
<path d="M956.1,563.6 L955.8,562.4 L955.5,561.2 L955.1,559.9 L954.7,558.7 L954.3,557.4 L953.9,556.2 L953.5,555.0 L953.0,553.7 L952.5,552.5 L952.0,551.2 L951.4,550.0 L950.9,548.8 L950.3,547.6 L949.7,546.3 L949.1,545.1 L948.4,543.9 L947.8,542.7 L947.1,541.6 L946.4,540.4 L945.7,539.2 L944.9,538.1 L944.2,536.9 L943.4,535.8 L942.7,534.7 L941.9,533.6 L941.1,532.6 L940.2,531.5 L939.4,530.5" stroke="#777" stroke-width="0.5" fill="none" />
<path d="M949.6,596.5 L950.1,596.2 L950.6,595.8 L951.1,595.4 L951.5,595.0 L952.0,594.5 L952.4,594.1 L952.8,593.6 L953.2,593.1 L953.6,592.6 L954.0,592.0 L954.4,591.5 L954.7,590.9 L955.0,590.3 L955.3,589.6 L955.6,589.0 L955.9,588.3 L956.1,587.6 L956.4,586.9 L956.6,586.2 L956.8,585.5 L957.0,584.7 L957.2,584.0 L957.3,583.2 L957.5,582.4 L957.6,581.6 L957.7,580.7 L957.7,579.9 L957.8,579.0" stroke="#777" stroke-width="0.5" fill="none" />
<path d="M958.7,562.1 L958.4,560.9 L958.1,559.7 L957.8,558.4 L957.4,557.2 L957.0,556.0 L956.5,554.7 L956.1,553.5 L955.6,552.2 L955.1,551.0 L954.6,549.8 L954.1,548.5 L953.5,547.3 L952.9,546.1 L952.3,544.9 L951.7,543.6 L951.1,542.4 L950.4,541.2 L949.7,540.1 L949.0,538.9 L948.3,537.7 L947.6,536.6 L946.8,535.5 L946.1,534.3 L945.3,533.2 L944.5,532.2 L943.7,531.1 L942.9,530.0 L942.0,529.0" stroke="#777" stroke-width="0.5" fill="none" />
<path d="M952.2,595.0 L952.7,594.7 L953.2,594.3 L953.7,593.9 L954.2,593.5 L954.6,593.0 L955.0,592.6 L955.5,592.1 L955.9,591.6 L956.3,591.1 L956.6,590.5 L957.0,590.0 L957.3,589.4 L957.7,588.8 L958.0,588.1 L958.2,587.5 L958.5,586.8 L958.8,586.2 L959.0,585.5 L959.2,584.7 L959.4,584.0 L959.6,583.3 L959.8,582.5 L959.9,581.7 L960.1,580.9 L960.2,580.1 L960.3,579.3 L960.4,578.4 L960.4,577.6" stroke="#777" stroke-width="0.5" fill="none" />
<path d="M961.4,560.6 L961.1,559.4 L960.7,558.2 L960.4,556.9 L960.0,555.7 L959.6,554.5 L959.2,553.2 L958.7,552.0 L958.3,550.7 L957.8,549.5 L957.2,548.3 L956.7,547.0 L956.1,545.8 L955.6,544.6 L955.0,543.4 L954.3,542.2 L953.7,540.9 L953.0,539.8 L952.3,538.6 L951.7,537.4 L950.9,536.2 L950.2,535.1 L949.5,534.0 L948.7,532.9 L947.9,531.8 L947.1,530.7 L946.3,529.6 L945.5,528.6 L944.7,527.5" stroke="#777" stroke-width="0.5" fill="none" />
<path d="M954.8,593.5 L955.4,593.2 L955.8,592.8 L956.3,592.4 L956.8,592.0 L957.2,591.6 L957.7,591.1 L958.1,590.6 L958.5,590.1 L958.9,589.6 L959.3,589.0 L959.6,588.5 L960.0,587.9 L960.3,587.3 L960.6,586.7 L960.9,586.0 L961.2,585.3 L961.4,584.7 L961.6,584.0 L961.9,583.2 L962.1,582.5 L962.3,581.8 L962.4,581.0 L962.6,580.2 L962.7,579.4 L962.8,578.6 L962.9,577.8 L963.0,576.9 L963.1,576.1" stroke="#777" stroke-width="0.5" fill="none" />
<path d="M954.7,568.1 L935.3,528.9 L944.9,523.5 L965.0,562.3 Z" stroke="#000" stroke-width="1.1" fill="none" />
<path d="M955.4,562.6 L940.2,531.6 L946.3,528.2 L962.2,558.8 Z" stroke="#666" stroke-width="0.5" fill="none" />
<path d="M946.2,599.7 L947.1,599.6 L947.9,599.5 L948.8,599.3 L949.6,599.1 L950.4,598.8 L951.1,598.5 L951.9,598.2 L952.6,597.8 L953.3,597.4 L954.0,597.0 L954.7,596.5 L955.3,595.9 L955.9,595.4 L956.5,594.8 L957.0,594.1 L957.6,593.4 L958.1,592.7 L958.6,592.0 L959.0,591.2 L959.4,590.4 L959.8,589.5 L960.2,588.6 L960.5,587.7 L960.8,586.8 L961.1,585.8 L961.4,584.8 L961.6,583.8 L961.8,582.7" stroke="#111" stroke-width="1.0" fill="none" />
<path d="M949.6,597.5 L950.2,597.4 L950.9,597.2 L951.5,597.0 L952.2,596.8 L952.8,596.5 L953.4,596.2 L954.0,595.9 L954.5,595.6 L955.1,595.2 L955.6,594.8 L956.2,594.4 L956.7,593.9 L957.2,593.5 L957.7,593.0 L958.1,592.4 L958.6,591.9 L959.0,591.3 L959.4,590.7 L959.8,590.1 L960.1,589.5 L960.5,588.8 L960.8,588.1 L961.1,587.4 L961.4,586.7 L961.7,585.9 L961.9,585.1 L962.2,584.4 L962.4,583.5" stroke="#555" stroke-width="0.5" fill="none" />
<path d="M963.2,589.8 L965.9,588.4 L968.2,586.5 L970.2,584.0 L971.8,581.0 L973.0,577.7 L973.8,573.9 L974.1,569.7 L974.1,565.3 L973.6,560.6 L972.7,555.7 L971.4,550.8 L969.6,545.7 L967.6,540.7 L965.1,535.8 L962.4,531.0 L959.4,526.4 L956.1,522.0 L952.7,518.0 L949.1,514.3 L945.4,511.1 L941.6,508.3 L937.9,506.0 L934.1,504.2 L930.5,503.0 L927.0,502.3 L923.6,502.2 L920.5,502.6 L917.7,503.7" stroke="#000" stroke-width="1.7" fill="none" />
<path d="M975.8,582.7 L978.5,581.3 L980.8,579.3 L982.8,576.9 L984.4,573.9 L985.6,570.5 L986.4,566.7 L986.7,562.6 L986.7,558.2 L986.2,553.5 L985.3,548.6 L983.9,543.6 L982.2,538.6 L980.2,533.6 L977.7,528.6 L975.0,523.8 L972.0,519.2 L968.7,514.9 L965.3,510.9 L961.7,507.2 L958.0,503.9 L954.2,501.1 L950.5,498.8 L946.7,497.1 L943.1,495.8 L939.6,495.2 L936.2,495.1 L933.1,495.5 L930.3,496.5" stroke="#000" stroke-width="1.7" fill="none" />
<path d="M964.9,588.3 L967.3,586.8 L969.5,584.8 L971.3,582.3 L972.7,579.3 L973.8,576.0 L974.5,572.2 L974.8,568.2 L974.7,563.9 L974.1,559.3 L973.2,554.6 L971.9,549.8 L970.3,544.9 L968.2,540.1 L965.9,535.3 L963.2,530.7 L960.3,526.2 L957.2,522.0 L953.9,518.1 L950.4,514.5 L946.9,511.3 L943.2,508.5 L939.6,506.2 L936.0,504.4 L932.4,503.1 L929.0,502.3 L925.8,502.1 L922.7,502.4 L919.9,503.2" stroke="#555" stroke-width="0.5" fill="none" />
<path d="M975.3,582.4 L977.8,580.9 L980.0,578.8 L981.8,576.3 L983.2,573.4 L984.3,570.0 L985.0,566.3 L985.3,562.2 L985.2,557.9 L984.6,553.4 L983.7,548.7 L982.4,543.9 L980.7,539.0 L978.7,534.1 L976.4,529.4 L973.7,524.7 L970.8,520.3 L967.7,516.1 L964.4,512.1 L960.9,508.6 L957.4,505.4 L953.7,502.6 L950.1,500.3 L946.5,498.5 L942.9,497.2 L939.5,496.4 L936.3,496.2 L933.2,496.5 L930.4,497.3" stroke="#555" stroke-width="0.5" fill="none" />
<path d="M975.5,552.6 L975.2,551.4 L974.9,550.2 L974.5,549.0 L974.1,547.7 L973.7,546.5 L973.3,545.2 L972.9,544.0 L972.4,542.8 L971.9,541.5 L971.4,540.3 L970.8,539.0 L970.3,537.8 L969.7,536.6 L969.1,535.4 L968.5,534.2 L967.8,533.0 L967.2,531.8 L966.5,530.6 L965.8,529.4 L965.1,528.3 L964.3,527.1 L963.6,526.0 L962.8,524.9 L962.0,523.8 L961.2,522.7 L960.4,521.6 L959.6,520.6 L958.8,519.5" stroke="#777" stroke-width="0.5" fill="none" />
<path d="M969.0,585.5 L969.5,585.2 L970.0,584.8 L970.4,584.4 L970.9,584.0 L971.4,583.6 L971.8,583.1 L972.2,582.6 L972.6,582.1 L973.0,581.6 L973.4,581.1 L973.7,580.5 L974.1,579.9 L974.4,579.3 L974.7,578.7 L975.0,578.0 L975.3,577.4 L975.5,576.7 L975.8,576.0 L976.0,575.3 L976.2,574.5 L976.4,573.8 L976.6,573.0 L976.7,572.2 L976.8,571.4 L976.9,570.6 L977.0,569.8 L977.1,568.9 L977.2,568.1" stroke="#777" stroke-width="0.5" fill="none" />
<path d="M978.0,551.2 L977.7,550.0 L977.4,548.8 L977.0,547.5 L976.6,546.3 L976.2,545.1 L975.8,543.8 L975.4,542.6 L974.9,541.3 L974.4,540.1 L973.9,538.9 L973.3,537.6 L972.8,536.4 L972.2,535.2 L971.6,533.9 L971.0,532.7 L970.3,531.5 L969.7,530.3 L969.0,529.2 L968.3,528.0 L967.6,526.8 L966.8,525.7 L966.1,524.6 L965.3,523.4 L964.6,522.3 L963.8,521.3 L963.0,520.2 L962.1,519.1 L961.3,518.1" stroke="#777" stroke-width="0.5" fill="none" />
<path d="M971.5,584.1 L972.0,583.8 L972.5,583.4 L973.0,583.0 L973.4,582.6 L973.9,582.1 L974.3,581.7 L974.7,581.2 L975.1,580.7 L975.5,580.2 L975.9,579.6 L976.3,579.1 L976.6,578.5 L976.9,577.9 L977.2,577.2 L977.5,576.6 L977.8,575.9 L978.0,575.3 L978.3,574.6 L978.5,573.8 L978.7,573.1 L978.9,572.3 L979.1,571.6 L979.2,570.8 L979.4,570.0 L979.5,569.2 L979.6,568.4 L979.6,567.5 L979.7,566.6" stroke="#777" stroke-width="0.5" fill="none" />
<path d="M980.5,549.8 L980.2,548.6 L979.9,547.3 L979.5,546.1 L979.2,544.9 L978.8,543.6 L978.3,542.4 L977.9,541.2 L977.4,539.9 L976.9,538.7 L976.4,537.4 L975.9,536.2 L975.3,535.0 L974.7,533.7 L974.1,532.5 L973.5,531.3 L972.8,530.1 L972.2,528.9 L971.5,527.7 L970.8,526.6 L970.1,525.4 L969.4,524.3 L968.6,523.1 L967.8,522.0 L967.1,520.9 L966.3,519.8 L965.5,518.8 L964.7,517.7 L963.8,516.7" stroke="#777" stroke-width="0.5" fill="none" />
<path d="M974.0,582.7 L974.5,582.3 L975.0,582.0 L975.5,581.6 L975.9,581.2 L976.4,580.7 L976.8,580.3 L977.3,579.8 L977.7,579.3 L978.0,578.7 L978.4,578.2 L978.8,577.6 L979.1,577.1 L979.4,576.4 L979.7,575.8 L980.0,575.2 L980.3,574.5 L980.6,573.8 L980.8,573.1 L981.0,572.4 L981.2,571.7 L981.4,570.9 L981.6,570.2 L981.7,569.4 L981.9,568.6 L982.0,567.8 L982.1,566.9 L982.2,566.1 L982.2,565.2" stroke="#777" stroke-width="0.5" fill="none" />
<path d="M974.2,557.1 L954.9,517.9 L963.9,512.7 L984.0,551.6 Z" stroke="#000" stroke-width="1.1" fill="none" />
<path d="M975.0,551.6 L959.8,520.6 L965.3,517.5 L981.2,548.1 Z" stroke="#666" stroke-width="0.5" fill="none" />
<path d="M965.5,588.8 L966.4,588.7 L967.2,588.6 L968.0,588.4 L968.8,588.2 L969.6,587.9 L970.4,587.6 L971.2,587.3 L971.9,586.9 L972.6,586.5 L973.3,586.0 L973.9,585.6 L974.6,585.0 L975.2,584.5 L975.8,583.9 L976.3,583.2 L976.8,582.5 L977.3,581.8 L977.8,581.1 L978.3,580.3 L978.7,579.5 L979.1,578.6 L979.5,577.7 L979.8,576.8 L980.1,575.9 L980.4,574.9 L980.6,573.9 L980.9,572.9 L981.1,571.8" stroke="#111" stroke-width="1.0" fill="none" />
<path d="M968.8,586.6 L969.5,586.5 L970.2,586.3 L970.8,586.1 L971.4,585.9 L972.1,585.6 L972.7,585.3 L973.2,585.0 L973.8,584.7 L974.4,584.3 L974.9,583.9 L975.4,583.5 L976.0,583.0 L976.4,582.5 L976.9,582.1 L977.4,581.5 L977.8,581.0 L978.2,580.4 L978.6,579.8 L979.0,579.2 L979.4,578.6 L979.7,577.9 L980.1,577.2 L980.4,576.5 L980.7,575.8 L980.9,575.0 L981.2,574.2 L981.4,573.5 L981.6,572.6" stroke="#555" stroke-width="0.5" fill="none" />
<path d="M976.8,582.1 L979.5,580.7 L981.8,578.8 L983.8,576.3 L985.4,573.4 L986.6,570.0 L987.4,566.2 L987.7,562.0 L987.7,557.6 L987.2,552.9 L986.3,548.1 L984.9,543.1 L983.2,538.1 L981.1,533.0 L978.7,528.1 L976.0,523.3 L973.0,518.7 L969.7,514.3 L966.3,510.3 L962.7,506.6 L959.0,503.4 L955.2,500.6 L951.5,498.3 L947.7,496.5 L944.1,495.3 L940.6,494.6 L937.2,494.5 L934.1,495.0 L931.3,496.0" stroke="#000" stroke-width="1.7" fill="none" />
<path d="M987.5,576.1 L990.1,574.7 L992.5,572.7 L994.4,570.3 L996.0,567.3 L997.2,563.9 L998.0,560.1 L998.4,556.0 L998.3,551.6 L997.8,546.9 L996.9,542.0 L995.6,537.0 L993.9,532.0 L991.8,527.0 L989.4,522.1 L986.7,517.2 L983.6,512.6 L980.4,508.3 L976.9,504.3 L973.4,500.6 L969.6,497.3 L965.9,494.5 L962.1,492.2 L958.4,490.5 L954.7,489.2 L951.2,488.6 L947.9,488.5 L944.8,488.9 L941.9,490.0" stroke="#000" stroke-width="1.7" fill="none" />
<path d="M978.4,580.6 L980.9,579.1 L983.1,577.1 L984.9,574.6 L986.3,571.6 L987.4,568.3 L988.1,564.6 L988.4,560.5 L988.3,556.2 L987.7,551.6 L986.8,546.9 L985.5,542.1 L983.8,537.3 L981.8,532.4 L979.5,527.6 L976.8,523.0 L973.9,518.5 L970.8,514.3 L967.5,510.4 L964.0,506.8 L960.5,503.6 L956.8,500.9 L953.2,498.6 L949.6,496.7 L946.0,495.4 L942.6,494.7 L939.3,494.4 L936.3,494.7 L933.4,495.6" stroke="#555" stroke-width="0.5" fill="none" />
<path d="M987.0,575.8 L989.5,574.3 L991.6,572.2 L993.4,569.7 L994.9,566.8 L996.0,563.4 L996.7,559.7 L996.9,555.7 L996.8,551.3 L996.3,546.8 L995.4,542.1 L994.1,537.3 L992.4,532.4 L990.4,527.6 L988.0,522.8 L985.4,518.1 L982.5,513.7 L979.4,509.5 L976.1,505.5 L972.6,502.0 L969.0,498.8 L965.4,496.0 L961.8,493.7 L958.1,491.9 L954.6,490.6 L951.2,489.8 L947.9,489.6 L944.8,489.9 L942.0,490.7" stroke="#555" stroke-width="0.5" fill="none" />
<path d="M988.5,545.3 L988.2,544.1 L987.9,542.8 L987.5,541.6 L987.1,540.4 L986.7,539.1 L986.3,537.9 L985.9,536.6 L985.4,535.4 L984.9,534.2 L984.4,532.9 L983.8,531.7 L983.3,530.5 L982.7,529.2 L982.1,528.0 L981.5,526.8 L980.8,525.6 L980.2,524.4 L979.5,523.2 L978.8,522.1 L978.1,520.9 L977.3,519.8 L976.6,518.6 L975.8,517.5 L975.0,516.4 L974.2,515.3 L973.4,514.3 L972.6,513.2 L971.8,512.2" stroke="#777" stroke-width="0.5" fill="none" />
<path d="M982.0,578.2 L982.5,577.8 L983.0,577.5 L983.5,577.1 L983.9,576.6 L984.4,576.2 L984.8,575.7 L985.2,575.3 L985.6,574.8 L986.0,574.2 L986.4,573.7 L986.7,573.1 L987.1,572.5 L987.4,571.9 L987.7,571.3 L988.0,570.7 L988.3,570.0 L988.5,569.3 L988.8,568.6 L989.0,567.9 L989.2,567.2 L989.4,566.4 L989.6,565.6 L989.7,564.9 L989.8,564.1 L990.0,563.2 L990.1,562.4 L990.1,561.6 L990.2,560.7" stroke="#777" stroke-width="0.5" fill="none" />
<path d="M990.6,544.1 L990.3,542.9 L990.0,541.6 L989.6,540.4 L989.3,539.2 L988.9,537.9 L988.4,536.7 L988.0,535.4 L987.5,534.2 L987.0,533.0 L986.5,531.7 L986.0,530.5 L985.4,529.2 L984.8,528.0 L984.2,526.8 L983.6,525.6 L983.0,524.4 L982.3,523.2 L981.6,522.0 L980.9,520.8 L980.2,519.7 L979.5,518.5 L978.7,517.4 L978.0,516.3 L977.2,515.2 L976.4,514.1 L975.6,513.0 L974.8,512.0 L973.9,511.0" stroke="#777" stroke-width="0.5" fill="none" />
<path d="M984.1,577.0 L984.6,576.6 L985.1,576.2 L985.6,575.9 L986.1,575.4 L986.5,575.0 L986.9,574.5 L987.4,574.1 L987.8,573.6 L988.1,573.0 L988.5,572.5 L988.9,571.9 L989.2,571.3 L989.5,570.7 L989.9,570.1 L990.1,569.5 L990.4,568.8 L990.7,568.1 L990.9,567.4 L991.1,566.7 L991.3,566.0 L991.5,565.2 L991.7,564.4 L991.8,563.7 L992.0,562.9 L992.1,562.0 L992.2,561.2 L992.3,560.4 L992.3,559.5" stroke="#777" stroke-width="0.5" fill="none" />
<path d="M992.8,542.9 L992.5,541.6 L992.1,540.4 L991.8,539.2 L991.4,537.9 L991.0,536.7 L990.6,535.5 L990.1,534.2 L989.7,533.0 L989.2,531.7 L988.6,530.5 L988.1,529.3 L987.5,528.0 L987.0,526.8 L986.4,525.6 L985.7,524.4 L985.1,523.2 L984.4,522.0 L983.7,520.8 L983.0,519.6 L982.3,518.5 L981.6,517.3 L980.9,516.2 L980.1,515.1 L979.3,514.0 L978.5,512.9 L977.7,511.8 L976.9,510.8 L976.1,509.8" stroke="#777" stroke-width="0.5" fill="none" />
<path d="M986.2,575.8 L986.7,575.4 L987.2,575.0 L987.7,574.6 L988.2,574.2 L988.6,573.8 L989.1,573.3 L989.5,572.9 L989.9,572.3 L990.3,571.8 L990.7,571.3 L991.0,570.7 L991.4,570.1 L991.7,569.5 L992.0,568.9 L992.3,568.3 L992.5,567.6 L992.8,566.9 L993.0,566.2 L993.3,565.5 L993.5,564.8 L993.7,564.0 L993.8,563.2 L994.0,562.4 L994.1,561.6 L994.2,560.8 L994.3,560.0 L994.4,559.2 L994.5,558.3" stroke="#777" stroke-width="0.5" fill="none" />
<path d="M987.8,549.4 L968.5,510.2 L975.6,506.1 L995.6,545.0 Z" stroke="#000" stroke-width="1.1" fill="none" />
<path d="M988.6,543.9 L973.4,512.9 L976.9,510.9 L992.8,541.5 Z" stroke="#666" stroke-width="0.5" fill="none" />
<path d="M978.1,581.7 L979.0,581.6 L979.8,581.4 L980.7,581.3 L981.5,581.0 L982.3,580.8 L983.0,580.5 L983.8,580.2 L984.5,579.8 L985.2,579.4 L985.9,578.9 L986.5,578.4 L987.2,577.9 L987.8,577.3 L988.4,576.7 L988.9,576.1 L989.5,575.4 L990.0,574.7 L990.5,573.9 L990.9,573.1 L991.3,572.3 L991.7,571.5 L992.1,570.6 L992.4,569.7 L992.7,568.7 L993.0,567.8 L993.3,566.8 L993.5,565.7 L993.7,564.7" stroke="#111" stroke-width="1.0" fill="none" />
<path d="M981.4,579.5 L982.1,579.3 L982.8,579.2 L983.4,579.0 L984.1,578.7 L984.7,578.5 L985.3,578.2 L985.9,577.9 L986.4,577.5 L987.0,577.1 L987.5,576.7 L988.1,576.3 L988.6,575.9 L989.1,575.4 L989.5,574.9 L990.0,574.4 L990.4,573.8 L990.9,573.3 L991.3,572.7 L991.7,572.1 L992.0,571.4 L992.4,570.7 L992.7,570.1 L993.0,569.4 L993.3,568.6 L993.6,567.9 L993.8,567.1 L994.1,566.3 L994.3,565.5" stroke="#555" stroke-width="0.5" fill="none" />
<path d="M992.8,573.1 L995.5,571.7 L997.8,569.7 L999.8,567.3 L1001.4,564.3 L1002.6,560.9 L1003.4,557.1 L1003.7,553.0 L1003.7,548.5 L1003.2,543.9 L1002.3,539.0 L1000.9,534.0 L999.2,529.0 L997.1,524.0 L994.7,519.0 L992.0,514.2 L989.0,509.6 L985.7,505.3 L982.3,501.2 L978.7,497.6 L975.0,494.3 L971.2,491.5 L967.4,489.2 L963.7,487.5 L960.1,486.2 L956.6,485.5 L953.2,485.4 L950.1,485.9 L947.3,486.9" stroke="#000" stroke-width="1.7" fill="none" />
<path d="M1004.0,566.8 L1006.6,565.4 L1009.0,563.4 L1010.9,560.9 L1012.5,558.0 L1013.7,554.6 L1014.5,550.8 L1014.9,546.7 L1014.8,542.2 L1014.3,537.6 L1013.4,532.7 L1012.1,527.7 L1010.4,522.7 L1008.3,517.7 L1005.9,512.7 L1003.2,507.9 L1000.1,503.3 L996.9,499.0 L993.4,494.9 L989.8,491.3 L986.1,488.0 L982.4,485.2 L978.6,482.9 L974.9,481.1 L971.2,479.9 L967.7,479.2 L964.4,479.1 L961.3,479.6 L958.4,480.6" stroke="#000" stroke-width="1.7" fill="none" />
<path d="M994.4,571.6 L996.9,570.1 L999.1,568.0 L1000.9,565.5 L1002.3,562.6 L1003.4,559.2 L1004.1,555.5 L1004.4,551.5 L1004.3,547.1 L1003.7,542.6 L1002.8,537.9 L1001.5,533.1 L999.8,528.2 L997.8,523.4 L995.5,518.6 L992.8,513.9 L989.9,509.5 L986.8,505.3 L983.5,501.3 L980.0,497.8 L976.5,494.6 L972.8,491.8 L969.2,489.5 L965.6,487.7 L962.0,486.4 L958.6,485.6 L955.3,485.4 L952.3,485.7 L949.4,486.5" stroke="#555" stroke-width="0.5" fill="none" />
<path d="M1003.5,566.5 L1006.0,564.9 L1008.1,562.9 L1009.9,560.4 L1011.4,557.5 L1012.5,554.1 L1013.2,550.4 L1013.4,546.3 L1013.3,542.0 L1012.8,537.5 L1011.9,532.7 L1010.6,527.9 L1008.9,523.1 L1006.9,518.2 L1004.5,513.4 L1001.9,508.8 L999.0,504.3 L995.9,500.1 L992.6,496.2 L989.1,492.6 L985.5,489.4 L981.9,486.7 L978.3,484.4 L974.6,482.6 L971.1,481.3 L967.7,480.5 L964.4,480.2 L961.3,480.5 L958.5,481.4" stroke="#555" stroke-width="0.5" fill="none" />
<path d="M1004.6,536.1 L1004.3,534.9 L1004.0,533.7 L1003.7,532.5 L1003.3,531.2 L1002.9,530.0 L1002.5,528.7 L1002.0,527.5 L1001.5,526.3 L1001.0,525.0 L1000.5,523.8 L1000.0,522.6 L999.4,521.3 L998.8,520.1 L998.2,518.9 L997.6,517.7 L997.0,516.5 L996.3,515.3 L995.6,514.1 L994.9,512.9 L994.2,511.8 L993.5,510.6 L992.7,509.5 L992.0,508.4 L991.2,507.3 L990.4,506.2 L989.6,505.1 L988.8,504.1 L987.9,503.0" stroke="#777" stroke-width="0.5" fill="none" />
<path d="M998.1,569.0 L998.6,568.7 L999.1,568.3 L999.6,567.9 L1000.1,567.5 L1000.5,567.1 L1001.0,566.6 L1001.4,566.1 L1001.8,565.6 L1002.2,565.1 L1002.5,564.6 L1002.9,564.0 L1003.2,563.4 L1003.6,562.8 L1003.9,562.2 L1004.2,561.5 L1004.4,560.9 L1004.7,560.2 L1004.9,559.5 L1005.1,558.8 L1005.4,558.0 L1005.5,557.3 L1005.7,556.5 L1005.9,555.7 L1006.0,554.9 L1006.1,554.1 L1006.2,553.3 L1006.3,552.4 L1006.3,551.6" stroke="#777" stroke-width="0.5" fill="none" />
<path d="M1006.9,534.9 L1006.6,533.7 L1006.2,532.4 L1005.9,531.2 L1005.5,530.0 L1005.1,528.7 L1004.7,527.5 L1004.2,526.2 L1003.8,525.0 L1003.3,523.8 L1002.8,522.5 L1002.2,521.3 L1001.7,520.1 L1001.1,518.8 L1000.5,517.6 L999.8,516.4 L999.2,515.2 L998.5,514.0 L997.9,512.8 L997.2,511.7 L996.4,510.5 L995.7,509.4 L995.0,508.2 L994.2,507.1 L993.4,506.0 L992.6,504.9 L991.8,503.9 L991.0,502.8 L990.2,501.8" stroke="#777" stroke-width="0.5" fill="none" />
<path d="M1000.4,567.8 L1000.9,567.4 L1001.4,567.1 L1001.8,566.7 L1002.3,566.2 L1002.7,565.8 L1003.2,565.3 L1003.6,564.9 L1004.0,564.4 L1004.4,563.8 L1004.8,563.3 L1005.1,562.7 L1005.5,562.1 L1005.8,561.5 L1006.1,560.9 L1006.4,560.3 L1006.7,559.6 L1006.9,558.9 L1007.2,558.2 L1007.4,557.5 L1007.6,556.8 L1007.8,556.0 L1007.9,555.2 L1008.1,554.5 L1008.2,553.7 L1008.3,552.8 L1008.4,552.0 L1008.5,551.2 L1008.6,550.3" stroke="#777" stroke-width="0.5" fill="none" />
<path d="M1009.1,533.6 L1008.8,532.4 L1008.5,531.2 L1008.1,529.9 L1007.7,528.7 L1007.3,527.5 L1006.9,526.2 L1006.5,525.0 L1006.0,523.7 L1005.5,522.5 L1005.0,521.3 L1004.4,520.0 L1003.9,518.8 L1003.3,517.6 L1002.7,516.4 L1002.1,515.1 L1001.4,513.9 L1000.8,512.7 L1000.1,511.6 L999.4,510.4 L998.7,509.2 L997.9,508.1 L997.2,507.0 L996.4,505.8 L995.7,504.7 L994.9,503.7 L994.1,502.6 L993.2,501.5 L992.4,500.5" stroke="#777" stroke-width="0.5" fill="none" />
<path d="M1002.6,566.5 L1003.1,566.2 L1003.6,565.8 L1004.1,565.4 L1004.5,565.0 L1005.0,564.5 L1005.4,564.1 L1005.8,563.6 L1006.2,563.1 L1006.6,562.6 L1007.0,562.0 L1007.4,561.5 L1007.7,560.9 L1008.0,560.3 L1008.3,559.6 L1008.6,559.0 L1008.9,558.3 L1009.2,557.7 L1009.4,557.0 L1009.6,556.2 L1009.8,555.5 L1010.0,554.8 L1010.2,554.0 L1010.3,553.2 L1010.5,552.4 L1010.6,551.6 L1010.7,550.8 L1010.7,549.9 L1010.8,549.1" stroke="#777" stroke-width="0.5" fill="none" />
<path d="M1003.8,540.3 L984.5,501.1 L992.1,496.8 L1012.1,535.6 Z" stroke="#000" stroke-width="1.1" fill="none" />
<path d="M1004.6,534.8 L989.4,503.8 L993.4,501.5 L1009.3,532.1 Z" stroke="#666" stroke-width="0.5" fill="none" />
<path d="M994.4,572.5 L995.2,572.4 L996.1,572.2 L996.9,572.1 L997.7,571.9 L998.5,571.6 L999.3,571.3 L1000.0,571.0 L1000.7,570.6 L1001.5,570.2 L1002.1,569.7 L1002.8,569.2 L1003.4,568.7 L1004.0,568.1 L1004.6,567.5 L1005.2,566.9 L1005.7,566.2 L1006.2,565.5 L1006.7,564.7 L1007.2,564.0 L1007.6,563.1 L1008.0,562.3 L1008.3,561.4 L1008.7,560.5 L1009.0,559.6 L1009.3,558.6 L1009.5,557.6 L1009.7,556.6 L1009.9,555.5" stroke="#111" stroke-width="1.0" fill="none" />
<path d="M997.7,570.3 L998.4,570.1 L999.0,570.0 L999.7,569.8 L1000.3,569.5 L1000.9,569.3 L1001.5,569.0 L1002.1,568.7 L1002.7,568.3 L1003.2,567.9 L1003.8,567.6 L1004.3,567.1 L1004.8,566.7 L1005.3,566.2 L1005.8,565.7 L1006.3,565.2 L1006.7,564.6 L1007.1,564.1 L1007.5,563.5 L1007.9,562.9 L1008.3,562.2 L1008.6,561.6 L1008.9,560.9 L1009.3,560.2 L1009.5,559.4 L1009.8,558.7 L1010.1,557.9 L1010.3,557.1 L1010.5,556.3" stroke="#555" stroke-width="0.5" fill="none" />
<path d="M1005.0,566.2 L1007.6,564.8 L1010.0,562.8 L1011.9,560.4 L1013.5,557.4 L1014.7,554.0 L1015.5,550.2 L1015.9,546.1 L1015.8,541.7 L1015.3,537.0 L1014.4,532.1 L1013.1,527.2 L1011.4,522.1 L1009.3,517.1 L1006.9,512.2 L1004.1,507.3 L1001.1,502.7 L997.9,498.4 L994.4,494.4 L990.8,490.7 L987.1,487.4 L983.4,484.7 L979.6,482.4 L975.9,480.6 L972.2,479.3 L968.7,478.7 L965.4,478.6 L962.3,479.0 L959.4,480.1" stroke="#000" stroke-width="1.7" fill="none" />
<path d="M1016.7,559.6 L1019.3,558.2 L1021.6,556.2 L1023.6,553.8 L1025.2,550.8 L1026.4,547.4 L1027.2,543.6 L1027.5,539.5 L1027.5,535.1 L1027.0,530.4 L1026.1,525.5 L1024.8,520.6 L1023.0,515.5 L1021.0,510.5 L1018.5,505.6 L1015.8,500.7 L1012.8,496.1 L1009.5,491.8 L1006.1,487.8 L1002.5,484.1 L998.8,480.8 L995.0,478.1 L991.3,475.8 L987.5,474.0 L983.9,472.7 L980.4,472.1 L977.1,472.0 L973.9,472.4 L971.1,473.5" stroke="#000" stroke-width="1.7" fill="none" />
<path d="M1006.6,564.7 L1009.1,563.2 L1011.2,561.2 L1013.0,558.7 L1014.5,555.7 L1015.6,552.4 L1016.2,548.6 L1016.5,544.6 L1016.4,540.2 L1015.9,535.7 L1015.0,531.0 L1013.7,526.2 L1012.0,521.3 L1010.0,516.5 L1007.6,511.7 L1005.0,507.1 L1002.1,502.6 L999.0,498.4 L995.6,494.5 L992.2,490.9 L988.6,487.7 L985.0,484.9 L981.3,482.6 L977.7,480.8 L974.2,479.5 L970.8,478.7 L967.5,478.5 L964.4,478.8 L961.6,479.6" stroke="#555" stroke-width="0.5" fill="none" />
<path d="M1016.2,559.3 L1018.6,557.8 L1020.8,555.7 L1022.6,553.2 L1024.1,550.3 L1025.1,546.9 L1025.8,543.2 L1026.1,539.2 L1026.0,534.8 L1025.5,530.3 L1024.5,525.6 L1023.2,520.8 L1021.6,515.9 L1019.5,511.1 L1017.2,506.3 L1014.6,501.6 L1011.7,497.2 L1008.5,493.0 L1005.2,489.0 L1001.8,485.5 L998.2,482.3 L994.6,479.5 L990.9,477.2 L987.3,475.4 L983.8,474.1 L980.3,473.3 L977.1,473.1 L974.0,473.4 L971.2,474.2" stroke="#555" stroke-width="0.5" fill="none" />
<path d="M1017.0,529.2 L1016.7,528.0 L1016.3,526.7 L1016.0,525.5 L1015.6,524.3 L1015.2,523.0 L1014.8,521.8 L1014.3,520.5 L1013.8,519.3 L1013.3,518.1 L1012.8,516.8 L1012.3,515.6 L1011.7,514.4 L1011.1,513.1 L1010.5,511.9 L1009.9,510.7 L1009.3,509.5 L1008.6,508.3 L1007.9,507.1 L1007.2,506.0 L1006.5,504.8 L1005.8,503.7 L1005.0,502.5 L1004.3,501.4 L1003.5,500.3 L1002.7,499.2 L1001.9,498.2 L1001.1,497.1 L1000.2,496.1" stroke="#777" stroke-width="0.5" fill="none" />
<path d="M1010.4,562.1 L1010.9,561.7 L1011.4,561.4 L1011.9,561.0 L1012.4,560.5 L1012.8,560.1 L1013.3,559.6 L1013.7,559.2 L1014.1,558.7 L1014.5,558.1 L1014.8,557.6 L1015.2,557.0 L1015.5,556.4 L1015.9,555.8 L1016.2,555.2 L1016.5,554.6 L1016.7,553.9 L1017.0,553.2 L1017.2,552.5 L1017.5,551.8 L1017.7,551.1 L1017.8,550.3 L1018.0,549.5 L1018.2,548.8 L1018.3,548.0 L1018.4,547.1 L1018.5,546.3 L1018.6,545.5 L1018.6,544.6" stroke="#777" stroke-width="0.5" fill="none" />
<path d="M1019.3,527.9 L1019.0,526.6 L1018.7,525.4 L1018.3,524.2 L1017.9,522.9 L1017.5,521.7 L1017.1,520.5 L1016.6,519.2 L1016.2,518.0 L1015.7,516.7 L1015.2,515.5 L1014.6,514.3 L1014.1,513.0 L1013.5,511.8 L1012.9,510.6 L1012.3,509.4 L1011.6,508.2 L1010.9,507.0 L1010.3,505.8 L1009.6,504.6 L1008.9,503.5 L1008.1,502.3 L1007.4,501.2 L1006.6,500.1 L1005.8,499.0 L1005.0,497.9 L1004.2,496.8 L1003.4,495.8 L1002.6,494.8" stroke="#777" stroke-width="0.5" fill="none" />
<path d="M1012.8,560.8 L1013.3,560.4 L1013.8,560.0 L1014.2,559.6 L1014.7,559.2 L1015.2,558.8 L1015.6,558.3 L1016.0,557.8 L1016.4,557.3 L1016.8,556.8 L1017.2,556.3 L1017.5,555.7 L1017.9,555.1 L1018.2,554.5 L1018.5,553.9 L1018.8,553.2 L1019.1,552.6 L1019.3,551.9 L1019.6,551.2 L1019.8,550.5 L1020.0,549.7 L1020.2,549.0 L1020.3,548.2 L1020.5,547.4 L1020.6,546.6 L1020.7,545.8 L1020.8,545.0 L1020.9,544.2 L1021.0,543.3" stroke="#777" stroke-width="0.5" fill="none" />
<path d="M1021.6,526.5 L1021.3,525.3 L1021.0,524.1 L1020.6,522.9 L1020.3,521.6 L1019.9,520.4 L1019.4,519.1 L1019.0,517.9 L1018.5,516.7 L1018.0,515.4 L1017.5,514.2 L1017.0,512.9 L1016.4,511.7 L1015.8,510.5 L1015.2,509.3 L1014.6,508.1 L1013.9,506.9 L1013.3,505.7 L1012.6,504.5 L1011.9,503.3 L1011.2,502.2 L1010.5,501.0 L1009.7,499.9 L1008.9,498.8 L1008.2,497.7 L1007.4,496.6 L1006.6,495.5 L1005.7,494.5 L1004.9,493.4" stroke="#777" stroke-width="0.5" fill="none" />
<path d="M1015.1,559.4 L1015.6,559.1 L1016.1,558.7 L1016.6,558.3 L1017.0,557.9 L1017.5,557.5 L1017.9,557.0 L1018.3,556.5 L1018.7,556.0 L1019.1,555.5 L1019.5,555.0 L1019.9,554.4 L1020.2,553.8 L1020.5,553.2 L1020.8,552.6 L1021.1,551.9 L1021.4,551.3 L1021.7,550.6 L1021.9,549.9 L1022.1,549.2 L1022.3,548.4 L1022.5,547.7 L1022.7,546.9 L1022.8,546.1 L1023.0,545.3 L1023.1,544.5 L1023.2,543.7 L1023.3,542.8 L1023.3,542.0" stroke="#777" stroke-width="0.5" fill="none" />
<path d="M1016.0,533.5 L996.6,494.2 L1004.7,489.7 L1024.8,528.5 Z" stroke="#000" stroke-width="1.1" fill="none" />
<path d="M1016.7,528.0 L1001.5,497.0 L1006.1,494.4 L1022.0,525.0 Z" stroke="#666" stroke-width="0.5" fill="none" />
<path d="M1006.8,565.5 L1007.6,565.4 L1008.5,565.2 L1009.3,565.0 L1010.1,564.8 L1010.9,564.6 L1011.7,564.3 L1012.4,563.9 L1013.2,563.6 L1013.9,563.2 L1014.5,562.7 L1015.2,562.2 L1015.8,561.7 L1016.4,561.1 L1017.0,560.5 L1017.6,559.9 L1018.1,559.2 L1018.6,558.5 L1019.1,557.7 L1019.6,556.9 L1020.0,556.1 L1020.4,555.3 L1020.7,554.4 L1021.1,553.5 L1021.4,552.5 L1021.7,551.6 L1021.9,550.6 L1022.1,549.5 L1022.3,548.5" stroke="#111" stroke-width="1.0" fill="none" />
<path d="M1010.1,563.3 L1010.8,563.1 L1011.4,562.9 L1012.1,562.7 L1012.7,562.5 L1013.3,562.2 L1013.9,562.0 L1014.5,561.6 L1015.1,561.3 L1015.7,560.9 L1016.2,560.5 L1016.7,560.1 L1017.2,559.7 L1017.7,559.2 L1018.2,558.7 L1018.7,558.2 L1019.1,557.6 L1019.5,557.1 L1019.9,556.5 L1020.3,555.8 L1020.7,555.2 L1021.0,554.5 L1021.4,553.8 L1021.7,553.1 L1022.0,552.4 L1022.2,551.7 L1022.5,550.9 L1022.7,550.1 L1022.9,549.3" stroke="#555" stroke-width="0.5" fill="none" />
<path d="M1023.9,555.5 L1026.5,554.1 L1028.9,552.1 L1030.8,549.7 L1032.4,546.7 L1033.6,543.3 L1034.4,539.5 L1034.8,535.4 L1034.7,531.0 L1034.2,526.3 L1033.3,521.4 L1032.0,516.5 L1030.3,511.4 L1028.2,506.4 L1025.8,501.5 L1023.1,496.6 L1020.1,492.0 L1016.8,487.7 L1013.4,483.7 L1009.8,480.0 L1006.1,476.7 L1002.3,474.0 L998.5,471.6 L994.8,469.9 L991.1,468.6 L987.6,468.0 L984.3,467.9 L981.2,468.3 L978.3,469.4" stroke="#000" stroke-width="1.7" fill="none" />
<path d="M1037.0,548.1 L1039.6,546.7 L1042.0,544.7 L1043.9,542.3 L1045.5,539.3 L1046.7,535.9 L1047.5,532.1 L1047.9,528.0 L1047.8,523.6 L1047.3,518.9 L1046.4,514.0 L1045.1,509.0 L1043.4,504.0 L1041.3,499.0 L1038.9,494.0 L1036.1,489.2 L1033.1,484.6 L1029.9,480.3 L1026.4,476.3 L1022.8,472.6 L1019.1,469.3 L1015.4,466.5 L1011.6,464.2 L1007.9,462.5 L1004.2,461.2 L1000.7,460.6 L997.4,460.5 L994.3,460.9 L991.4,462.0" stroke="#000" stroke-width="1.7" fill="none" />
<path d="M1025.5,554.0 L1028.0,552.5 L1030.1,550.5 L1031.9,548.0 L1033.4,545.0 L1034.5,541.6 L1035.2,537.9 L1035.4,533.9 L1035.3,529.5 L1034.8,525.0 L1033.9,520.3 L1032.6,515.5 L1030.9,510.6 L1028.9,505.8 L1026.5,501.0 L1023.9,496.3 L1021.0,491.9 L1017.9,487.7 L1014.6,483.8 L1011.1,480.2 L1007.5,477.0 L1003.9,474.2 L1000.3,471.9 L996.6,470.1 L993.1,468.8 L989.7,468.0 L986.4,467.8 L983.3,468.1 L980.5,468.9" stroke="#555" stroke-width="0.5" fill="none" />
<path d="M1036.5,547.8 L1039.0,546.3 L1041.1,544.2 L1042.9,541.7 L1044.4,538.8 L1045.5,535.4 L1046.2,531.7 L1046.4,527.7 L1046.3,523.3 L1045.8,518.8 L1044.9,514.1 L1043.6,509.3 L1041.9,504.4 L1039.9,499.6 L1037.5,494.8 L1034.9,490.1 L1032.0,485.7 L1028.9,481.5 L1025.6,477.5 L1022.1,474.0 L1018.5,470.8 L1014.9,468.0 L1011.3,465.7 L1007.6,463.9 L1004.1,462.6 L1000.7,461.8 L997.4,461.6 L994.3,461.9 L991.5,462.7" stroke="#555" stroke-width="0.5" fill="none" />
<path d="M1036.3,518.2 L1036.0,517.0 L1035.7,515.8 L1035.3,514.6 L1034.9,513.3 L1034.5,512.1 L1034.1,510.8 L1033.7,509.6 L1033.2,508.4 L1032.7,507.1 L1032.2,505.9 L1031.6,504.6 L1031.1,503.4 L1030.5,502.2 L1029.9,501.0 L1029.3,499.8 L1028.6,498.6 L1028.0,497.4 L1027.3,496.2 L1026.6,495.0 L1025.9,493.9 L1025.1,492.7 L1024.4,491.6 L1023.6,490.5 L1022.8,489.4 L1022.0,488.3 L1021.2,487.2 L1020.4,486.2 L1019.6,485.1" stroke="#777" stroke-width="0.5" fill="none" />
<path d="M1029.8,551.1 L1030.3,550.8 L1030.8,550.4 L1031.3,550.0 L1031.7,549.6 L1032.2,549.2 L1032.6,548.7 L1033.0,548.2 L1033.4,547.7 L1033.8,547.2 L1034.2,546.6 L1034.5,546.1 L1034.9,545.5 L1035.2,544.9 L1035.5,544.3 L1035.8,543.6 L1036.1,543.0 L1036.3,542.3 L1036.6,541.6 L1036.8,540.9 L1037.0,540.1 L1037.2,539.4 L1037.4,538.6 L1037.5,537.8 L1037.6,537.0 L1037.8,536.2 L1037.9,535.4 L1037.9,534.5 L1038.0,533.7" stroke="#777" stroke-width="0.5" fill="none" />
<path d="M1038.9,516.8 L1038.6,515.5 L1038.3,514.3 L1037.9,513.1 L1037.6,511.8 L1037.1,510.6 L1036.7,509.4 L1036.3,508.1 L1035.8,506.9 L1035.3,505.6 L1034.8,504.4 L1034.2,503.2 L1033.7,501.9 L1033.1,500.7 L1032.5,499.5 L1031.9,498.3 L1031.2,497.1 L1030.6,495.9 L1029.9,494.7 L1029.2,493.5 L1028.5,492.4 L1027.7,491.2 L1027.0,490.1 L1026.2,489.0 L1025.5,487.9 L1024.7,486.8 L1023.9,485.7 L1023.0,484.7 L1022.2,483.7" stroke="#777" stroke-width="0.5" fill="none" />
<path d="M1032.4,549.6 L1032.9,549.3 L1033.4,548.9 L1033.9,548.5 L1034.3,548.1 L1034.8,547.7 L1035.2,547.2 L1035.6,546.7 L1036.0,546.2 L1036.4,545.7 L1036.8,545.2 L1037.2,544.6 L1037.5,544.0 L1037.8,543.4 L1038.1,542.8 L1038.4,542.1 L1038.7,541.5 L1039.0,540.8 L1039.2,540.1 L1039.4,539.4 L1039.6,538.6 L1039.8,537.9 L1040.0,537.1 L1040.1,536.3 L1040.3,535.5 L1040.4,534.7 L1040.5,533.9 L1040.5,533.0 L1040.6,532.2" stroke="#777" stroke-width="0.5" fill="none" />
<path d="M1041.5,515.3 L1041.2,514.1 L1040.9,512.8 L1040.5,511.6 L1040.2,510.4 L1039.8,509.1 L1039.3,507.9 L1038.9,506.6 L1038.4,505.4 L1037.9,504.2 L1037.4,502.9 L1036.9,501.7 L1036.3,500.5 L1035.7,499.2 L1035.1,498.0 L1034.5,496.8 L1033.9,495.6 L1033.2,494.4 L1032.5,493.2 L1031.8,492.1 L1031.1,490.9 L1030.4,489.7 L1029.6,488.6 L1028.9,487.5 L1028.1,486.4 L1027.3,485.3 L1026.5,484.3 L1025.7,483.2 L1024.8,482.2" stroke="#777" stroke-width="0.5" fill="none" />
<path d="M1035.0,548.2 L1035.5,547.8 L1036.0,547.4 L1036.5,547.1 L1036.9,546.6 L1037.4,546.2 L1037.8,545.7 L1038.3,545.3 L1038.7,544.8 L1039.0,544.2 L1039.4,543.7 L1039.8,543.1 L1040.1,542.5 L1040.4,541.9 L1040.8,541.3 L1041.0,540.7 L1041.3,540.0 L1041.6,539.3 L1041.8,538.6 L1042.0,537.9 L1042.2,537.2 L1042.4,536.4 L1042.6,535.6 L1042.7,534.9 L1042.9,534.1 L1043.0,533.2 L1043.1,532.4 L1043.2,531.6 L1043.2,530.7" stroke="#777" stroke-width="0.5" fill="none" />
<path d="M1034.9,522.8 L1015.5,483.5 L1025.1,478.1 L1045.1,517.0 Z" stroke="#000" stroke-width="1.1" fill="none" />
<path d="M1035.6,517.3 L1020.5,486.3 L1026.4,482.9 L1042.3,513.5 Z" stroke="#666" stroke-width="0.5" fill="none" />
<path d="M1026.4,554.3 L1027.3,554.3 L1028.1,554.1 L1028.9,553.9 L1029.8,553.7 L1030.5,553.5 L1031.3,553.2 L1032.1,552.8 L1032.8,552.5 L1033.5,552.0 L1034.2,551.6 L1034.8,551.1 L1035.5,550.6 L1036.1,550.0 L1036.7,549.4 L1037.2,548.8 L1037.7,548.1 L1038.3,547.4 L1038.7,546.6 L1039.2,545.8 L1039.6,545.0 L1040.0,544.2 L1040.4,543.3 L1040.7,542.4 L1041.0,541.4 L1041.3,540.5 L1041.6,539.5 L1041.8,538.4 L1042.0,537.4" stroke="#111" stroke-width="1.0" fill="none" />
<path d="M1029.7,552.2 L1030.4,552.0 L1031.1,551.8 L1031.7,551.6 L1032.3,551.4 L1033.0,551.1 L1033.6,550.9 L1034.1,550.5 L1034.7,550.2 L1035.3,549.8 L1035.8,549.4 L1036.3,549.0 L1036.9,548.6 L1037.4,548.1 L1037.8,547.6 L1038.3,547.1 L1038.7,546.5 L1039.1,546.0 L1039.6,545.4 L1039.9,544.7 L1040.3,544.1 L1040.7,543.4 L1041.0,542.7 L1041.3,542.0 L1041.6,541.3 L1041.9,540.6 L1042.1,539.8 L1042.3,539.0 L1042.5,538.2" stroke="#555" stroke-width="0.5" fill="none" />
<path d="M1044.7,543.8 L1047.3,542.3 L1049.6,540.4 L1051.6,537.9 L1053.2,535.0 L1054.4,531.6 L1055.2,527.8 L1055.6,523.7 L1055.5,519.2 L1055.0,514.5 L1054.1,509.7 L1052.8,504.7 L1051.1,499.7 L1049.0,494.7 L1046.6,489.7 L1043.8,484.9 L1040.8,480.3 L1037.6,475.9 L1034.1,471.9 L1030.5,468.2 L1026.8,465.0 L1023.1,462.2 L1019.3,459.9 L1015.6,458.1 L1011.9,456.9 L1008.4,456.2 L1005.1,456.1 L1002.0,456.6 L999.1,457.6" stroke="#000" stroke-width="1.7" fill="none" />
<path d="M1057.8,536.4 L1060.4,534.9 L1062.7,533.0 L1064.7,530.5 L1066.3,527.6 L1067.5,524.2 L1068.3,520.4 L1068.6,516.3 L1068.6,511.8 L1068.1,507.1 L1067.2,502.3 L1065.9,497.3 L1064.1,492.3 L1062.1,487.2 L1059.6,482.3 L1056.9,477.5 L1053.9,472.9 L1050.6,468.5 L1047.2,464.5 L1043.6,460.8 L1039.9,457.6 L1036.1,454.8 L1032.4,452.5 L1028.6,450.7 L1025.0,449.5 L1021.5,448.8 L1018.2,448.7 L1015.0,449.2 L1012.2,450.2" stroke="#000" stroke-width="1.7" fill="none" />
<path d="M1046.3,542.3 L1048.7,540.7 L1050.9,538.7 L1052.7,536.2 L1054.2,533.3 L1055.2,529.9 L1055.9,526.2 L1056.2,522.1 L1056.1,517.8 L1055.6,513.3 L1054.6,508.5 L1053.3,503.7 L1051.7,498.9 L1049.6,494.0 L1047.3,489.2 L1044.7,484.6 L1041.8,480.1 L1038.6,475.9 L1035.3,472.0 L1031.9,468.4 L1028.3,465.2 L1024.7,462.5 L1021.0,460.2 L1017.4,458.4 L1013.9,457.1 L1010.4,456.3 L1007.2,456.0 L1004.1,456.3 L1001.3,457.2" stroke="#555" stroke-width="0.5" fill="none" />
<path d="M1057.3,536.0 L1059.7,534.5 L1061.9,532.5 L1063.7,530.0 L1065.2,527.0 L1066.2,523.7 L1066.9,520.0 L1067.2,515.9 L1067.1,511.6 L1066.6,507.0 L1065.6,502.3 L1064.3,497.5 L1062.7,492.7 L1060.6,487.8 L1058.3,483.0 L1055.7,478.4 L1052.8,473.9 L1049.6,469.7 L1046.3,465.8 L1042.9,462.2 L1039.3,459.0 L1035.7,456.3 L1032.0,454.0 L1028.4,452.1 L1024.9,450.8 L1021.4,450.1 L1018.2,449.8 L1015.1,450.1 L1012.3,451.0" stroke="#555" stroke-width="0.5" fill="none" />
<path d="M1057.1,506.5 L1056.8,505.3 L1056.4,504.0 L1056.1,502.8 L1055.7,501.6 L1055.3,500.3 L1054.9,499.1 L1054.4,497.8 L1053.9,496.6 L1053.5,495.4 L1052.9,494.1 L1052.4,492.9 L1051.8,491.7 L1051.3,490.4 L1050.6,489.2 L1050.0,488.0 L1049.4,486.8 L1048.7,485.6 L1048.0,484.4 L1047.3,483.3 L1046.6,482.1 L1045.9,481.0 L1045.1,479.8 L1044.4,478.7 L1043.6,477.6 L1042.8,476.5 L1042.0,475.5 L1041.2,474.4 L1040.4,473.4" stroke="#777" stroke-width="0.5" fill="none" />
<path d="M1050.5,539.4 L1051.0,539.0 L1051.5,538.7 L1052.0,538.3 L1052.5,537.9 L1052.9,537.4 L1053.4,537.0 L1053.8,536.5 L1054.2,536.0 L1054.6,535.4 L1055.0,534.9 L1055.3,534.3 L1055.6,533.7 L1056.0,533.1 L1056.3,532.5 L1056.6,531.9 L1056.8,531.2 L1057.1,530.5 L1057.3,529.8 L1057.6,529.1 L1057.8,528.4 L1058.0,527.6 L1058.1,526.9 L1058.3,526.1 L1058.4,525.3 L1058.5,524.5 L1058.6,523.6 L1058.7,522.8 L1058.8,521.9" stroke="#777" stroke-width="0.5" fill="none" />
<path d="M1059.7,505.0 L1059.4,503.8 L1059.0,502.6 L1058.7,501.3 L1058.3,500.1 L1057.9,498.9 L1057.5,497.6 L1057.0,496.4 L1056.6,495.1 L1056.1,493.9 L1055.6,492.6 L1055.0,491.4 L1054.4,490.2 L1053.9,489.0 L1053.3,487.7 L1052.6,486.5 L1052.0,485.3 L1051.3,484.1 L1050.7,483.0 L1050.0,481.8 L1049.2,480.6 L1048.5,479.5 L1047.8,478.3 L1047.0,477.2 L1046.2,476.1 L1045.4,475.1 L1044.6,474.0 L1043.8,472.9 L1043.0,471.9" stroke="#777" stroke-width="0.5" fill="none" />
<path d="M1053.2,537.9 L1053.7,537.6 L1054.2,537.2 L1054.6,536.8 L1055.1,536.4 L1055.5,535.9 L1056.0,535.5 L1056.4,535.0 L1056.8,534.5 L1057.2,534.0 L1057.6,533.4 L1057.9,532.9 L1058.3,532.3 L1058.6,531.7 L1058.9,531.0 L1059.2,530.4 L1059.5,529.7 L1059.7,529.0 L1060.0,528.3 L1060.2,527.6 L1060.4,526.9 L1060.6,526.1 L1060.7,525.4 L1060.9,524.6 L1061.0,523.8 L1061.1,523.0 L1061.2,522.1 L1061.3,521.3 L1061.4,520.4" stroke="#777" stroke-width="0.5" fill="none" />
<path d="M1062.3,503.5 L1062.0,502.3 L1061.7,501.1 L1061.3,499.8 L1060.9,498.6 L1060.5,497.4 L1060.1,496.1 L1059.7,494.9 L1059.2,493.6 L1058.7,492.4 L1058.2,491.2 L1057.6,489.9 L1057.1,488.7 L1056.5,487.5 L1055.9,486.3 L1055.3,485.1 L1054.6,483.8 L1054.0,482.7 L1053.3,481.5 L1052.6,480.3 L1051.9,479.1 L1051.1,478.0 L1050.4,476.9 L1049.6,475.8 L1048.8,474.7 L1048.0,473.6 L1047.2,472.5 L1046.4,471.5 L1045.6,470.4" stroke="#777" stroke-width="0.5" fill="none" />
<path d="M1055.8,536.4 L1056.3,536.1 L1056.8,535.7 L1057.2,535.3 L1057.7,534.9 L1058.2,534.5 L1058.6,534.0 L1059.0,533.5 L1059.4,533.0 L1059.8,532.5 L1060.2,531.9 L1060.5,531.4 L1060.9,530.8 L1061.2,530.2 L1061.5,529.6 L1061.8,528.9 L1062.1,528.2 L1062.3,527.6 L1062.6,526.9 L1062.8,526.1 L1063.0,525.4 L1063.2,524.7 L1063.4,523.9 L1063.5,523.1 L1063.6,522.3 L1063.8,521.5 L1063.8,520.7 L1063.9,519.8 L1064.0,519.0" stroke="#777" stroke-width="0.5" fill="none" />
<path d="M1055.7,511.0 L1036.3,471.8 L1045.8,466.4 L1065.9,505.2 Z" stroke="#000" stroke-width="1.1" fill="none" />
<path d="M1056.4,505.5 L1041.2,474.5 L1047.2,471.1 L1063.1,501.7 Z" stroke="#666" stroke-width="0.5" fill="none" />
<path d="M1047.2,542.6 L1048.0,542.5 L1048.9,542.4 L1049.7,542.2 L1050.5,542.0 L1051.3,541.7 L1052.1,541.4 L1052.8,541.1 L1053.5,540.7 L1054.3,540.3 L1054.9,539.8 L1055.6,539.4 L1056.2,538.8 L1056.8,538.3 L1057.4,537.6 L1058.0,537.0 L1058.5,536.3 L1059.0,535.6 L1059.5,534.9 L1059.9,534.1 L1060.4,533.3 L1060.8,532.4 L1061.1,531.5 L1061.5,530.6 L1061.8,529.7 L1062.1,528.7 L1062.3,527.7 L1062.5,526.7 L1062.7,525.6" stroke="#111" stroke-width="1.0" fill="none" />
<path d="M1050.5,540.4 L1051.2,540.3 L1051.8,540.1 L1052.5,539.9 L1053.1,539.7 L1053.7,539.4 L1054.3,539.1 L1054.9,538.8 L1055.5,538.4 L1056.0,538.1 L1056.6,537.7 L1057.1,537.3 L1057.6,536.8 L1058.1,536.3 L1058.6,535.8 L1059.0,535.3 L1059.5,534.8 L1059.9,534.2 L1060.3,533.6 L1060.7,533.0 L1061.1,532.3 L1061.4,531.7 L1061.7,531.0 L1062.1,530.3 L1062.3,529.6 L1062.6,528.8 L1062.9,528.0 L1063.1,527.2 L1063.3,526.4" stroke="#555" stroke-width="0.5" fill="none" />
<path d="M1063.7,533.0 L1066.4,531.6 L1068.7,529.6 L1070.7,527.1 L1072.3,524.2 L1073.5,520.8 L1074.3,517.0 L1074.6,512.9 L1074.6,508.4 L1074.1,503.8 L1073.2,498.9 L1071.8,493.9 L1070.1,488.9 L1068.0,483.9 L1065.6,478.9 L1062.9,474.1 L1059.9,469.5 L1056.6,465.2 L1053.2,461.1 L1049.6,457.5 L1045.9,454.2 L1042.1,451.4 L1038.3,449.1 L1034.6,447.3 L1031.0,446.1 L1027.5,445.4 L1024.1,445.3 L1021.0,445.8 L1018.2,446.8" stroke="#000" stroke-width="1.7" fill="none" />
<path d="M1070.8,528.9 L1073.5,527.5 L1075.8,525.6 L1077.8,523.1 L1079.4,520.2 L1080.6,516.8 L1081.4,513.0 L1081.7,508.9 L1081.7,504.4 L1081.2,499.7 L1080.3,494.9 L1078.9,489.9 L1077.2,484.9 L1075.2,479.8 L1072.7,474.9 L1070.0,470.1 L1067.0,465.5 L1063.7,461.1 L1060.3,457.1 L1056.7,453.4 L1053.0,450.2 L1049.2,447.4 L1045.5,445.1 L1041.7,443.3 L1038.1,442.1 L1034.6,441.4 L1031.2,441.3 L1028.1,441.8 L1025.3,442.8" stroke="#000" stroke-width="1.7" fill="none" />
<path d="M1065.3,531.5 L1067.8,530.0 L1069.9,527.9 L1071.8,525.4 L1073.2,522.5 L1074.3,519.1 L1075.0,515.4 L1075.3,511.3 L1075.1,507.0 L1074.6,502.5 L1073.7,497.8 L1072.4,493.0 L1070.7,488.1 L1068.7,483.2 L1066.4,478.5 L1063.7,473.8 L1060.8,469.4 L1057.7,465.1 L1054.4,461.2 L1050.9,457.7 L1047.4,454.5 L1043.7,451.7 L1040.1,449.4 L1036.5,447.6 L1032.9,446.3 L1029.5,445.5 L1026.2,445.3 L1023.2,445.6 L1020.3,446.4" stroke="#555" stroke-width="0.5" fill="none" />
<path d="M1070.3,528.6 L1072.8,527.1 L1075.0,525.1 L1076.8,522.6 L1078.2,519.6 L1079.3,516.3 L1080.0,512.6 L1080.3,508.5 L1080.2,504.2 L1079.6,499.6 L1078.7,494.9 L1077.4,490.1 L1075.7,485.2 L1073.7,480.4 L1071.4,475.6 L1068.7,471.0 L1065.8,466.5 L1062.7,462.3 L1059.4,458.4 L1055.9,454.8 L1052.4,451.6 L1048.7,448.9 L1045.1,446.6 L1041.5,444.7 L1037.9,443.4 L1034.5,442.7 L1031.3,442.4 L1028.2,442.7 L1025.4,443.6" stroke="#555" stroke-width="0.5" fill="none" />
<path d="M1074.3,496.7 L1074.0,495.5 L1073.7,494.3 L1073.3,493.0 L1073.0,491.8 L1072.6,490.6 L1072.1,489.3 L1071.7,488.1 L1071.2,486.8 L1070.7,485.6 L1070.2,484.4 L1069.7,483.1 L1069.1,481.9 L1068.5,480.7 L1067.9,479.5 L1067.3,478.2 L1066.6,477.0 L1066.0,475.8 L1065.3,474.7 L1064.6,473.5 L1063.9,472.3 L1063.2,471.2 L1062.4,470.1 L1061.6,468.9 L1060.9,467.8 L1060.1,466.8 L1059.3,465.7 L1058.4,464.7 L1057.6,463.6" stroke="#777" stroke-width="0.5" fill="none" />
<path d="M1067.8,529.6 L1068.3,529.3 L1068.8,528.9 L1069.3,528.5 L1069.7,528.1 L1070.2,527.6 L1070.6,527.2 L1071.1,526.7 L1071.5,526.2 L1071.8,525.7 L1072.2,525.1 L1072.6,524.6 L1072.9,524.0 L1073.2,523.4 L1073.5,522.8 L1073.8,522.1 L1074.1,521.4 L1074.4,520.8 L1074.6,520.1 L1074.8,519.3 L1075.0,518.6 L1075.2,517.9 L1075.4,517.1 L1075.5,516.3 L1075.7,515.5 L1075.8,514.7 L1075.9,513.9 L1076.0,513.0 L1076.0,512.2" stroke="#777" stroke-width="0.5" fill="none" />
<path d="M1075.7,495.9 L1075.4,494.7 L1075.1,493.5 L1074.8,492.2 L1074.4,491.0 L1074.0,489.8 L1073.6,488.5 L1073.1,487.3 L1072.6,486.0 L1072.1,484.8 L1071.6,483.6 L1071.1,482.3 L1070.5,481.1 L1069.9,479.9 L1069.3,478.7 L1068.7,477.4 L1068.1,476.2 L1067.4,475.0 L1066.7,473.9 L1066.0,472.7 L1065.3,471.5 L1064.6,470.4 L1063.8,469.3 L1063.1,468.1 L1062.3,467.0 L1061.5,466.0 L1060.7,464.9 L1059.9,463.8 L1059.0,462.8" stroke="#777" stroke-width="0.5" fill="none" />
<path d="M1069.2,528.8 L1069.7,528.5 L1070.2,528.1 L1070.7,527.7 L1071.2,527.3 L1071.6,526.8 L1072.1,526.4 L1072.5,525.9 L1072.9,525.4 L1073.3,524.9 L1073.6,524.3 L1074.0,523.8 L1074.3,523.2 L1074.7,522.6 L1075.0,521.9 L1075.3,521.3 L1075.5,520.6 L1075.8,520.0 L1076.0,519.3 L1076.2,518.5 L1076.5,517.8 L1076.6,517.1 L1076.8,516.3 L1077.0,515.5 L1077.1,514.7 L1077.2,513.9 L1077.3,513.1 L1077.4,512.2 L1077.4,511.4" stroke="#777" stroke-width="0.5" fill="none" />
<path d="M1077.2,495.1 L1076.9,493.9 L1076.5,492.7 L1076.2,491.4 L1075.8,490.2 L1075.4,489.0 L1075.0,487.7 L1074.5,486.5 L1074.1,485.2 L1073.6,484.0 L1073.0,482.8 L1072.5,481.5 L1071.9,480.3 L1071.4,479.1 L1070.8,477.8 L1070.1,476.6 L1069.5,475.4 L1068.8,474.2 L1068.1,473.1 L1067.5,471.9 L1066.7,470.7 L1066.0,469.6 L1065.3,468.5 L1064.5,467.3 L1063.7,466.2 L1062.9,465.2 L1062.1,464.1 L1061.3,463.0 L1060.5,462.0" stroke="#777" stroke-width="0.5" fill="none" />
<path d="M1070.6,528.0 L1071.2,527.7 L1071.6,527.3 L1072.1,526.9 L1072.6,526.5 L1073.0,526.0 L1073.5,525.6 L1073.9,525.1 L1074.3,524.6 L1074.7,524.1 L1075.1,523.5 L1075.4,523.0 L1075.8,522.4 L1076.1,521.8 L1076.4,521.1 L1076.7,520.5 L1077.0,519.8 L1077.2,519.2 L1077.4,518.5 L1077.7,517.7 L1077.9,517.0 L1078.1,516.2 L1078.2,515.5 L1078.4,514.7 L1078.5,513.9 L1078.6,513.1 L1078.7,512.2 L1078.8,511.4 L1078.9,510.5" stroke="#777" stroke-width="0.5" fill="none" />
<path d="M1074.7,500.2 L1055.4,461.0 L1058.9,459.0 L1079.0,497.8 Z" stroke="#000" stroke-width="1.1" fill="none" />
<path d="M1075.5,494.7 L1060.3,463.7 L1060.3,463.7 L1076.2,494.3 Z" stroke="#666" stroke-width="0.5" fill="none" />
<path d="M1063.2,533.5 L1064.1,533.4 L1065.0,533.3 L1065.8,533.1 L1066.6,532.9 L1067.4,532.6 L1068.1,532.3 L1068.9,532.0 L1069.6,531.6 L1070.3,531.2 L1071.0,530.8 L1071.7,530.3 L1072.3,529.7 L1072.9,529.2 L1073.5,528.6 L1074.0,527.9 L1074.6,527.2 L1075.1,526.5 L1075.6,525.8 L1076.0,525.0 L1076.4,524.2 L1076.8,523.3 L1077.2,522.4 L1077.5,521.5 L1077.9,520.6 L1078.1,519.6 L1078.4,518.6 L1078.6,517.6 L1078.8,516.5" stroke="#111" stroke-width="1.0" fill="none" />
<path d="M1066.6,531.3 L1067.2,531.2 L1067.9,531.0 L1068.5,530.8 L1069.2,530.6 L1069.8,530.3 L1070.4,530.0 L1071.0,529.7 L1071.6,529.4 L1072.1,529.0 L1072.7,528.6 L1073.2,528.2 L1073.7,527.7 L1074.2,527.3 L1074.7,526.8 L1075.1,526.2 L1075.6,525.7 L1076.0,525.1 L1076.4,524.5 L1076.8,523.9 L1077.1,523.3 L1077.5,522.6 L1077.8,521.9 L1078.1,521.2 L1078.4,520.5 L1078.7,519.7 L1078.9,518.9 L1079.2,518.2 L1079.4,517.3" stroke="#555" stroke-width="0.5" fill="none" />
<path d="M920.1,611.5 L922.3,609.9 L924.3,607.8 L925.9,605.3 L927.2,602.4 L928.1,599.1 L928.7,595.5 L928.9,591.6 L928.7,587.4 L928.1,583.1 L927.1,578.6 L925.8,574.0 L924.2,569.4 L922.2,564.8 L919.9,560.3 L917.4,555.9 L914.6,551.7 L911.6,547.7 L908.4,544.0 L905.1,540.7 L901.7,537.7 L898.3,535.1 L894.8,532.9 L891.4,531.2 L888.0,530.0 L884.8,529.3 L881.7,529.1 L878.8,529.4 L876.1,530.2" stroke="#222" stroke-width="0.8" fill="none" />
<path d="M940.4,600.0 L942.7,598.4 L944.6,596.3 L946.3,593.8 L947.5,590.9 L948.5,587.6 L949.0,584.0 L949.2,580.1 L949.0,575.9 L948.4,571.6 L947.5,567.1 L946.2,562.5 L944.5,557.9 L942.5,553.3 L940.3,548.8 L937.7,544.4 L934.9,540.2 L931.9,536.2 L928.8,532.5 L925.5,529.2 L922.1,526.2 L918.6,523.6 L915.2,521.4 L911.7,519.7 L908.4,518.5 L905.1,517.8 L902.0,517.6 L899.1,517.9 L896.4,518.7" stroke="#222" stroke-width="0.8" fill="none" />
<path d="M960.7,588.5 L962.9,586.9 L964.9,584.9 L966.5,582.4 L967.8,579.4 L968.7,576.2 L969.3,572.5 L969.5,568.6 L969.3,564.5 L968.7,560.1 L967.7,555.6 L966.4,551.0 L964.8,546.4 L962.8,541.8 L960.5,537.3 L958.0,532.9 L955.2,528.7 L952.2,524.7 L949.0,521.1 L945.7,517.7 L942.3,514.7 L938.9,512.1 L935.4,510.0 L932.0,508.3 L928.6,507.1 L925.4,506.3 L922.3,506.1 L919.4,506.4 L916.7,507.2" stroke="#222" stroke-width="0.8" fill="none" />
<path d="M990.6,571.6 L992.8,570.0 L994.8,568.0 L996.4,565.5 L997.7,562.6 L998.6,559.3 L999.2,555.6 L999.3,551.7 L999.1,547.6 L998.5,543.2 L997.6,538.7 L996.3,534.1 L994.6,529.5 L992.7,524.9 L990.4,520.4 L987.8,516.0 L985.1,511.8 L982.1,507.8 L978.9,504.2 L975.6,500.8 L972.2,497.8 L968.8,495.2 L965.3,493.1 L961.9,491.4 L958.5,490.2 L955.3,489.4 L952.2,489.2 L949.3,489.5 L946.6,490.3" stroke="#222" stroke-width="0.8" fill="none" />
<path d="M1021.2,554.3 L1023.5,552.7 L1025.4,550.6 L1027.0,548.1 L1028.3,545.2 L1029.2,541.9 L1029.8,538.3 L1030.0,534.4 L1029.8,530.2 L1029.2,525.9 L1028.2,521.4 L1026.9,516.8 L1025.3,512.2 L1023.3,507.6 L1021.0,503.1 L1018.5,498.7 L1015.7,494.5 L1012.7,490.5 L1009.5,486.8 L1006.2,483.5 L1002.8,480.5 L999.4,477.9 L995.9,475.7 L992.5,474.0 L989.2,472.8 L985.9,472.1 L982.8,471.9 L979.9,472.2 L977.2,473.0" stroke="#222" stroke-width="0.8" fill="none" />
<path d="M1041.1,543.0 L1043.4,541.4 L1045.3,539.4 L1046.9,536.9 L1048.2,533.9 L1049.2,530.7 L1049.7,527.0 L1049.9,523.1 L1049.7,519.0 L1049.1,514.6 L1048.2,510.1 L1046.8,505.5 L1045.2,500.9 L1043.2,496.3 L1040.9,491.8 L1038.4,487.4 L1035.6,483.2 L1032.6,479.2 L1029.5,475.6 L1026.2,472.2 L1022.8,469.2 L1019.3,466.6 L1015.9,464.5 L1012.4,462.8 L1009.1,461.6 L1005.8,460.8 L1002.7,460.6 L999.8,460.9 L997.1,461.7" stroke="#222" stroke-width="0.8" fill="none" />
<path d="M1061.0,531.7 L1063.3,530.2 L1065.2,528.1 L1066.9,525.6 L1068.1,522.7 L1069.1,519.4 L1069.6,515.8 L1069.8,511.9 L1069.6,507.7 L1069.0,503.4 L1068.1,498.9 L1066.8,494.3 L1065.1,489.7 L1063.1,485.1 L1060.9,480.5 L1058.3,476.1 L1055.5,471.9 L1052.5,468.0 L1049.4,464.3 L1046.1,460.9 L1042.7,457.9 L1039.2,455.4 L1035.8,453.2 L1032.3,451.5 L1029.0,450.3 L1025.7,449.6 L1022.6,449.4 L1019.7,449.7 L1017.0,450.4" stroke="#222" stroke-width="0.8" fill="none" />
<path d="M992.0,574.2 L994.4,572.5 L996.5,570.4 L998.3,567.7 L999.6,564.6 L1000.6,561.1 L1001.2,557.2 L1001.4,553.1 L1001.2,548.6 L1000.6,544.0 L999.5,539.2 L998.1,534.3 L996.4,529.4 L994.3,524.5 L991.9,519.7 L989.2,515.0 L986.2,510.5 L983.0,506.3 L979.6,502.4 L976.1,498.8 L972.5,495.6 L968.8,492.9 L965.1,490.6 L961.5,488.8 L957.9,487.5 L954.4,486.7 L951.1,486.5 L948.0,486.8 L945.2,487.6" stroke="#000" stroke-width="1.6" fill="none" />
<path d="M1072.6,528.1 L1075.1,526.3 L1077.2,524.1 L1078.9,521.4 L1080.3,518.2 L1081.2,514.6 L1081.8,510.7 L1081.9,506.4 L1081.6,501.9 L1080.9,497.2 L1079.8,492.3 L1078.3,487.3 L1076.4,482.4 L1074.2,477.4 L1071.6,472.6 L1068.8,467.9 L1065.7,463.5 L1062.4,459.3 L1058.9,455.4 L1055.3,452.0 L1051.6,448.9 L1047.9,446.4 L1044.2,444.3 L1040.5,442.7 L1037.0,441.7 L1033.6,441.2 L1030.3,441.3 L1027.3,442.0 L1024.6,443.1" stroke="#000" stroke-width="1.3" fill="none" />
<path d="M1070.5,529.3 L1072.9,527.6 L1075.0,525.3 L1076.7,522.6 L1078.1,519.4 L1079.0,515.9 L1079.6,511.9 L1079.7,507.6 L1079.4,503.1 L1078.7,498.4 L1077.6,493.5 L1076.1,488.6 L1074.2,483.6 L1072.0,478.6 L1069.5,473.8 L1066.6,469.1 L1063.5,464.7 L1060.2,460.5 L1056.8,456.7 L1053.2,453.2 L1049.5,450.2 L1045.7,447.6 L1042.0,445.5 L1038.4,444.0 L1034.8,442.9 L1031.4,442.5 L1028.1,442.5 L1025.2,443.2 L1022.4,444.4" stroke="#333" stroke-width="0.7" fill="none" />
<line x1="886.49" y1="557.30" x2="901.42" y2="548.85" stroke="#000" stroke-width="1.1" />
<line x1="886.49" y1="560.50" x2="901.42" y2="552.05" stroke="#555" stroke-width="0.5" />
<line x1="877.31" y1="547.90" x2="892.24" y2="539.45" stroke="#000" stroke-width="1.1" />
<line x1="877.31" y1="551.10" x2="892.24" y2="542.65" stroke="#555" stroke-width="0.5" />
<line x1="866.47" y1="540.67" x2="881.40" y2="532.23" stroke="#000" stroke-width="1.1" />
<line x1="866.47" y1="543.87" x2="881.40" y2="535.43" stroke="#555" stroke-width="0.5" />
<path d="M886.5,557.3 L883.1,553.5 L879.7,550.0 L876.1,546.9 L872.5,544.2 L868.9,541.9" stroke="#000" stroke-width="1.1" fill="none" />
<path d="M894.0,553.1 L890.6,549.3 L887.1,545.8 L883.6,542.7 L880.0,540.0 L876.3,537.7" stroke="#000" stroke-width="1.1" fill="none" />
<path d="M901.4,548.9 L898.1,545.0 L894.6,541.6 L891.0,538.5 L887.4,535.8 L883.8,533.5" stroke="#000" stroke-width="1.1" fill="none" />
<line x1="922.05" y1="537.19" x2="943.38" y2="525.12" stroke="#000" stroke-width="1.1" />
<line x1="922.05" y1="540.39" x2="943.38" y2="528.32" stroke="#555" stroke-width="0.5" />
<line x1="912.86" y1="527.78" x2="934.19" y2="515.71" stroke="#000" stroke-width="1.1" />
<line x1="912.86" y1="530.98" x2="934.19" y2="518.91" stroke="#555" stroke-width="0.5" />
<line x1="902.02" y1="520.56" x2="923.36" y2="508.49" stroke="#000" stroke-width="1.1" />
<line x1="902.02" y1="523.76" x2="923.36" y2="511.69" stroke="#555" stroke-width="0.5" />
<path d="M922.0,537.2 L918.7,533.4 L915.2,529.9 L911.7,526.8 L908.1,524.1 L904.4,521.8" stroke="#000" stroke-width="1.1" fill="none" />
<path d="M929.2,533.2 L925.8,529.4 L922.3,525.9 L918.8,522.8 L915.2,520.1 L911.5,517.8" stroke="#000" stroke-width="1.1" fill="none" />
<path d="M936.3,529.1 L932.9,525.3 L929.5,521.8 L925.9,518.7 L922.3,516.0 L918.6,513.8" stroke="#000" stroke-width="1.1" fill="none" />
<path d="M943.4,525.1 L940.0,521.3 L936.6,517.8 L933.0,514.7 L929.4,512.0 L925.8,509.7" stroke="#000" stroke-width="1.1" fill="none" />
<line x1="961.87" y1="514.66" x2="1004.53" y2="490.52" stroke="#000" stroke-width="1.1" />
<line x1="961.87" y1="517.86" x2="1004.53" y2="493.72" stroke="#555" stroke-width="0.5" />
<line x1="952.68" y1="505.25" x2="995.35" y2="481.11" stroke="#000" stroke-width="1.1" />
<line x1="952.68" y1="508.45" x2="995.35" y2="484.31" stroke="#555" stroke-width="0.5" />
<line x1="941.84" y1="498.03" x2="984.51" y2="473.89" stroke="#000" stroke-width="1.1" />
<line x1="941.84" y1="501.23" x2="984.51" y2="477.09" stroke="#555" stroke-width="0.5" />
<path d="M961.9,514.7 L958.5,510.8 L955.1,507.4 L951.5,504.3 L947.9,501.6 L944.2,499.3" stroke="#000" stroke-width="1.1" fill="none" />
<path d="M969.0,510.6 L965.6,506.8 L962.2,503.3 L958.6,500.2 L955.0,497.5 L951.4,495.3" stroke="#000" stroke-width="1.1" fill="none" />
<path d="M976.1,506.6 L972.7,502.8 L969.3,499.3 L965.7,496.2 L962.1,493.5 L958.5,491.2" stroke="#000" stroke-width="1.1" fill="none" />
<path d="M983.2,502.6 L979.9,498.8 L976.4,495.3 L972.8,492.2 L969.2,489.5 L965.6,487.2" stroke="#000" stroke-width="1.1" fill="none" />
<path d="M990.3,498.6 L987.0,494.8 L983.5,491.3 L979.9,488.2 L976.3,485.5 L972.7,483.2" stroke="#000" stroke-width="1.1" fill="none" />
<path d="M997.4,494.5 L994.1,490.7 L990.6,487.3 L987.0,484.1 L983.4,481.4 L979.8,479.2" stroke="#000" stroke-width="1.1" fill="none" />
<path d="M1004.5,490.5 L1001.2,486.7 L997.7,483.2 L994.2,480.1 L990.5,477.4 L986.9,475.1" stroke="#000" stroke-width="1.1" fill="none" />
<line x1="1023.02" y1="480.06" x2="1044.35" y2="467.99" stroke="#000" stroke-width="1.1" />
<line x1="1023.02" y1="483.26" x2="1044.35" y2="471.19" stroke="#555" stroke-width="0.5" />
<line x1="1013.84" y1="470.65" x2="1035.17" y2="458.58" stroke="#000" stroke-width="1.1" />
<line x1="1013.84" y1="473.85" x2="1035.17" y2="461.78" stroke="#555" stroke-width="0.5" />
<line x1="1003.00" y1="463.43" x2="1024.33" y2="451.36" stroke="#000" stroke-width="1.1" />
<line x1="1003.00" y1="466.63" x2="1024.33" y2="454.56" stroke="#555" stroke-width="0.5" />
<path d="M1023.0,480.1 L1019.7,476.2 L1016.2,472.8 L1012.6,469.7 L1009.0,467.0 L1005.4,464.7" stroke="#000" stroke-width="1.1" fill="none" />
<path d="M1030.1,476.0 L1026.8,472.2 L1023.3,468.7 L1019.8,465.6 L1016.1,462.9 L1012.5,460.7" stroke="#000" stroke-width="1.1" fill="none" />
<path d="M1037.2,472.0 L1033.9,468.2 L1030.4,464.7 L1026.9,461.6 L1023.2,458.9 L1019.6,456.6" stroke="#000" stroke-width="1.1" fill="none" />
<path d="M1044.4,468.0 L1041.0,464.2 L1037.5,460.7 L1034.0,457.6 L1030.4,454.9 L1026.7,452.6" stroke="#000" stroke-width="1.1" fill="none" />
<line x1="899.88" y1="602.72" x2="1082.82" y2="499.22" stroke="#000" stroke-width="1.7" />
<line x1="900.53" y1="608.06" x2="1083.46" y2="504.56" stroke="#111" stroke-width="0.9" />
<line x1="899.30" y1="610.82" x2="1082.24" y2="507.32" stroke="#444" stroke-width="0.6" />
<rect x="916.41" y="591.70" width="6.80" height="4.60" rx="0" stroke="#111" stroke-width="0.9" fill="#fff" transform="rotate(-29.5 919.8 594.3)"/>
<rect x="918.41" y="593.10" width="2.80" height="2.20" rx="0" stroke="#111" stroke-width="0.5" fill="#888" transform="rotate(-29.5 919.8 594.3)"/>
<rect x="999.25" y="544.83" width="6.80" height="4.60" rx="0" stroke="#111" stroke-width="0.9" fill="#fff" transform="rotate(-29.5 1002.6 547.4)"/>
<rect x="1001.25" y="546.23" width="2.80" height="2.20" rx="0" stroke="#111" stroke-width="0.5" fill="#888" transform="rotate(-29.5 1002.6 547.4)"/>
<rect x="1076.40" y="501.18" width="6.80" height="4.60" rx="0" stroke="#111" stroke-width="0.9" fill="#fff" transform="rotate(-29.5 1079.8 503.8)"/>
<rect x="1078.40" y="502.58" width="2.80" height="2.20" rx="0" stroke="#111" stroke-width="0.5" fill="#888" transform="rotate(-29.5 1079.8 503.8)"/>
<path d="M828.8,550.2 L848.7,539.0 L853.3,537.3 L858.6,537.0 L864.4,538.1 L870.4,540.7 L876.6,544.5 L882.7,549.6 L888.6,555.7 L894.0,562.7 L898.8,570.4 L902.9,578.4 L906.1,586.7 L908.3,594.9 L909.5,602.7 L909.7,610.0 L908.7,616.5 L906.7,622.0 L903.7,626.4 L899.9,629.5 L880.0,640.8 Z" stroke="#111" stroke-width="0" fill="#fff" />
<path d="M895.6,629.6 L898.7,628.4 L901.5,626.5 L903.9,624.0 L905.8,620.9 L907.2,617.3 L908.2,613.1 L908.7,608.6 L908.6,603.6 L908.0,598.4 L907.0,593.0 L905.4,587.4 L903.4,581.8 L900.9,576.2 L898.1,570.8 L894.9,565.5 L891.4,560.5 L887.6,555.9 L883.6,551.7 L879.5,548.0 L875.3,544.8 L871.1,542.2 L867.0,540.3 L862.9,539.0 L859.1,538.3 L855.4,538.4 L852.0,539.1 L849.0,540.5 L846.3,542.6" stroke="#000" stroke-width="1.2" fill="none" />
<path d="M893.2,631.6 L896.3,630.3 L899.1,628.4 L901.5,625.9 L903.5,622.8 L905.0,619.1 L905.9,614.9 L906.4,610.3 L906.3,605.3 L905.8,600.0 L904.7,594.5 L903.1,588.9 L901.1,583.3 L898.6,577.6 L895.7,572.1 L892.5,566.8 L888.9,561.8 L885.1,557.1 L881.1,552.9 L877.0,549.1 L872.7,545.9 L868.5,543.3 L864.3,541.3 L860.2,540.0 L856.3,539.4 L852.6,539.4 L849.2,540.2 L846.1,541.6 L843.4,543.7" stroke="#444" stroke-width="0.6" fill="none" />
<path d="M891.3,634.3 L894.6,633.1 L897.5,631.1 L899.9,628.5 L901.9,625.3 L903.5,621.5 L904.5,617.2 L904.9,612.4 L904.9,607.3 L904.3,601.9 L903.2,596.2 L901.6,590.4 L899.5,584.6 L896.9,578.8 L893.9,573.1 L890.6,567.7 L887.0,562.5 L883.0,557.7 L878.9,553.3 L874.6,549.4 L870.3,546.1 L865.9,543.5 L861.6,541.4 L857.4,540.1 L853.3,539.4 L849.5,539.5 L846.0,540.2 L842.9,541.7 L840.1,543.8" stroke="#000" stroke-width="1.5" fill="none" />
<path d="M889.1,635.6 L892.4,634.3 L895.3,632.3 L897.8,629.7 L899.8,626.5 L901.3,622.7 L902.3,618.4 L902.8,613.7 L902.7,608.5 L902.1,603.1 L901.0,597.4 L899.4,591.7 L897.3,585.8 L894.7,580.0 L891.8,574.3 L888.4,568.9 L884.8,563.7 L880.9,558.9 L876.7,554.5 L872.5,550.7 L868.1,547.4 L863.7,544.7 L859.4,542.6 L855.2,541.3 L851.2,540.6 L847.4,540.7 L843.9,541.5 L840.7,542.9 L837.9,545.1" stroke="#333" stroke-width="0.6" fill="none" />
<path d="M883.7,638.1 L886.9,636.8 L889.8,634.9 L892.2,632.3 L894.2,629.1 L895.7,625.3 L896.7,621.1 L897.2,616.4 L897.1,611.3 L896.6,605.9 L895.5,600.3 L893.9,594.6 L891.8,588.8 L889.3,583.1 L886.3,577.4 L883.0,572.0 L879.4,566.9 L875.5,562.1 L871.4,557.8 L867.2,554.0 L862.9,550.7 L858.5,548.1 L854.3,546.0 L850.1,544.7 L846.1,544.0 L842.3,544.1 L838.9,544.9 L835.7,546.3 L833.0,548.4" stroke="#111" stroke-width="0.9" fill="none" />
<path d="M878.5,641.0 L881.7,639.8 L884.6,637.8 L887.0,635.3 L889.0,632.1 L890.5,628.3 L891.5,624.0 L892.0,619.3 L891.9,614.2 L891.3,608.9 L890.2,603.3 L888.6,597.5 L886.6,591.8 L884.0,586.0 L881.1,580.4 L877.8,575.0 L874.2,569.9 L870.3,565.1 L866.2,560.8 L862.0,556.9 L857.7,553.7 L853.3,551.0 L849.0,549.0 L844.9,547.6 L840.9,547.0 L837.1,547.1 L833.6,547.8 L830.5,549.3 L827.8,551.4" stroke="#000" stroke-width="1.0" fill="none" />
<line x1="898.22" y1="630.44" x2="902.20" y2="625.89" stroke="#111" stroke-width="0.9" />
<line x1="901.94" y1="625.28" x2="905.78" y2="620.94" stroke="#111" stroke-width="0.9" />
<line x1="904.22" y1="618.46" x2="907.98" y2="614.38" stroke="#111" stroke-width="0.9" />
<line x1="904.98" y1="610.27" x2="908.70" y2="606.50" stroke="#111" stroke-width="0.9" />
<line x1="904.17" y1="601.07" x2="907.92" y2="597.65" stroke="#111" stroke-width="0.9" />
<line x1="901.83" y1="591.25" x2="905.67" y2="588.21" stroke="#111" stroke-width="0.9" />
<line x1="898.06" y1="581.26" x2="902.05" y2="578.60" stroke="#111" stroke-width="0.9" />
<line x1="893.03" y1="571.53" x2="897.21" y2="569.24" stroke="#111" stroke-width="0.9" />
<line x1="886.96" y1="562.48" x2="891.37" y2="560.54" stroke="#111" stroke-width="0.9" />
<line x1="880.11" y1="554.50" x2="884.78" y2="552.87" stroke="#111" stroke-width="0.9" />
<line x1="872.78" y1="547.95" x2="877.74" y2="546.57" stroke="#111" stroke-width="0.9" />
<line x1="865.29" y1="543.12" x2="870.54" y2="541.92" stroke="#111" stroke-width="0.9" />
<line x1="857.97" y1="540.21" x2="863.50" y2="539.12" stroke="#111" stroke-width="0.9" />
<line x1="851.14" y1="539.35" x2="856.93" y2="538.29" stroke="#111" stroke-width="0.9" />
<line x1="845.10" y1="540.57" x2="851.12" y2="539.47" stroke="#111" stroke-width="0.9" />
<ellipse cx="853.5" cy="596.0" rx="52.0" ry="28.2" transform="rotate(60.5 853.5 596.0)" stroke="#000" stroke-width="1.2" fill="#fff"/>
<ellipse cx="854.5" cy="595.4" rx="47.5" ry="25.7" transform="rotate(60.5 854.5 595.4)" stroke="#000" stroke-width="1.0" fill="none"/>
<path d="M845.3,550.2 L843.0,550.5 L840.8,551.1 L838.8,552.1 L837.0,553.3 L835.4,554.9 L834.0,556.7 L832.8,558.8 L831.8,561.2 L831.1,563.9 L830.6,566.7 L830.4,569.7 L830.4,572.9 L830.6,576.3 L831.1,579.8 L831.8,583.4 L832.7,587.0 L833.9,590.7 L835.3,594.4 L836.9,598.0 L838.7,601.6 L840.7,605.2 L842.8,608.6 L845.1,611.9 L847.6,615.0 L850.1,617.9 L852.7,620.7 L855.4,623.2 L858.1,625.4 L860.9,627.4 L863.6,629.1" stroke="#444" stroke-width="0.7" fill="none" />
<path d="M850.8,548.2 L848.6,548.5 L846.5,549.1 L844.6,550.0 L842.8,551.2 L841.2,552.7 L839.8,554.5 L838.7,556.6 L837.7,558.9 L837.0,561.5 L836.5,564.3 L836.3,567.3 L836.3,570.4 L836.5,573.7 L837.0,577.1 L837.7,580.6 L838.6,584.1 L839.8,587.7 L841.1,591.3 L842.7,594.9 L844.5,598.4 L846.4,601.9 L848.5,605.2 L850.7,608.5 L853.1,611.5 L855.5,614.4 L858.1,617.1 L860.7,619.5 L863.4,621.7 L866.1,623.6 L868.8,625.3" stroke="#555" stroke-width="0.6" fill="none" />
<path d="M856.4,546.1 L854.2,546.4 L852.2,547.0 L850.3,547.9 L848.5,549.1 L847.0,550.6 L845.7,552.4 L844.5,554.4 L843.6,556.7 L842.9,559.2 L842.4,561.9 L842.2,564.8 L842.2,567.9 L842.4,571.1 L842.9,574.4 L843.5,577.8 L844.5,581.3 L845.6,584.8 L846.9,588.3 L848.5,591.8 L850.2,595.3 L852.1,598.6 L854.1,601.9 L856.3,605.1 L858.6,608.0 L861.0,610.9 L863.5,613.5 L866.1,615.9 L868.7,618.0 L871.3,619.9 L874.0,621.5" stroke="#666" stroke-width="0.6" fill="none" />
<path d="M861.9,543.8 L859.7,544.1 L857.7,544.7 L855.8,545.6 L854.1,546.7 L852.6,548.2 L851.3,549.9 L850.2,551.9 L849.3,554.2 L848.6,556.6 L848.1,559.3 L847.9,562.2 L847.9,565.2 L848.1,568.4 L848.5,571.6 L849.2,575.0 L850.1,578.4 L851.2,581.9 L852.5,585.3 L854.1,588.8 L855.7,592.2 L857.6,595.5 L859.6,598.7 L861.8,601.8 L864.0,604.7 L866.4,607.5 L868.9,610.1 L871.4,612.4 L874.0,614.5 L876.5,616.4 L879.1,618.0" stroke="#777" stroke-width="0.6" fill="none" />
<path d="M868.1,540.7 L866.0,541.0 L864.0,541.6 L862.1,542.5 L860.5,543.6 L858.9,545.1 L857.6,546.8 L856.5,548.8 L855.6,551.0 L854.9,553.4 L854.5,556.1 L854.2,558.9 L854.2,561.9 L854.5,565.0 L854.9,568.3 L855.6,571.6 L856.5,575.0 L857.6,578.4 L858.9,581.9 L860.4,585.3 L862.0,588.6 L863.9,591.9 L865.9,595.1 L868.0,598.2 L870.3,601.1 L872.6,603.8 L875.0,606.4 L877.5,608.7 L880.1,610.8 L882.6,612.6 L885.2,614.2" stroke="#888" stroke-width="0.5" fill="none" />
<path d="M875.2,537.0 L873.0,537.2 L871.0,537.8 L869.2,538.7 L867.5,539.9 L866.0,541.3 L864.7,543.0 L863.6,545.0 L862.7,547.2 L862.0,549.6 L861.6,552.3 L861.3,555.1 L861.3,558.1 L861.6,561.2 L862.0,564.4 L862.7,567.7 L863.6,571.1 L864.7,574.5 L866.0,577.9 L867.4,581.3 L869.1,584.6 L870.9,587.9 L872.9,591.1 L875.0,594.1 L877.3,597.0 L879.6,599.8 L882.0,602.3 L884.5,604.6 L887.1,606.7 L889.6,608.5 L892.2,610.1" stroke="#999" stroke-width="0.5" fill="none" />
<path d="M873.0,637.8 L875.1,637.5 L877.1,636.9 L879.0,636.0 L880.8,634.8 L882.3,633.4 L883.7,631.8 L884.9,629.9 L886.0,627.8 L886.8,625.5 L887.4,622.9 L887.8,620.2 L888.0,617.3 L888.1,614.3 L887.9,611.1 L887.4,607.9 L886.8,604.5 L886.0,601.1 L885.0,597.7 L883.8,594.2 L882.4,590.8 L880.9,587.3 L879.1,583.9 L877.3,580.6 L875.3,577.4 L873.1,574.2 L870.9,571.3 L868.5,568.4 L866.1,565.8 L863.6,563.3 L861.1,561.0 L858.5,559.0 L855.9,557.1 L853.3,555.6 L850.7,554.2 L848.2,553.2 L845.7,552.4" stroke="#000" stroke-width="2.1" fill="none" />
<path d="M879.7,634.5 L881.2,633.8 L882.7,633.0 L884.0,631.9 L885.2,630.7 L886.3,629.3 L887.3,627.8 L888.2,626.0 L888.9,624.2 L889.5,622.2 L890.0,620.1 L890.3,617.8 L890.4,615.5 L890.5,613.0 L890.4,610.5 L890.1,607.9 L889.7,605.2 L889.2,602.4 L888.5,599.6 L887.7,596.8 L886.8,594.0 L885.7,591.2 L884.6,588.3 L883.3,585.5 L881.9,582.7 L880.4,580.0 L878.8,577.4 L877.1,574.8 L875.3,572.2 L873.4,569.8 L871.5,567.5" stroke="#222" stroke-width="0.8" fill="none" />
<line x1="885.21" y1="629.83" x2="891.41" y2="624.27" stroke="#000" stroke-width="1.5" />
<line x1="887.74" y1="622.79" x2="893.74" y2="617.33" stroke="#000" stroke-width="1.5" />
<line x1="888.40" y1="614.06" x2="894.24" y2="608.81" stroke="#000" stroke-width="1.5" />
<line x1="887.14" y1="604.18" x2="892.89" y2="599.21" stroke="#000" stroke-width="1.5" />
<line x1="884.04" y1="593.73" x2="889.77" y2="589.09" stroke="#000" stroke-width="1.5" />
<line x1="879.27" y1="583.32" x2="885.06" y2="579.06" stroke="#000" stroke-width="1.5" />
<line x1="873.13" y1="573.58" x2="879.05" y2="569.72" stroke="#000" stroke-width="1.5" />
<line x1="865.98" y1="565.08" x2="872.09" y2="561.61" stroke="#000" stroke-width="1.5" />
<line x1="858.25" y1="558.33" x2="864.59" y2="555.23" stroke="#000" stroke-width="1.5" />
<line x1="850.38" y1="553.73" x2="857.00" y2="550.95" stroke="#000" stroke-width="1.5" />
<path d="M844.4,553.6 L843.7,550.2 L840.2,549.4 L841.2,552.8 Z" stroke="#333" stroke-width="0.5" fill="#999" />
<path d="M831.6,553.6 L829.9,550.2 L827.3,551.6 L829.2,554.9 Z" stroke="#333" stroke-width="0.5" fill="#999" />
<path d="M822.8,563.2 L820.4,560.6 L819.3,564.0 L821.9,566.4 Z" stroke="#333" stroke-width="0.5" fill="#999" />
<path d="M821.6,583.3 L819.1,582.3 L820.1,587.1 L822.5,587.7 Z" stroke="#333" stroke-width="0.5" fill="#999" />
<path d="M829.4,605.8 L827.4,606.6 L830.0,611.3 L831.8,610.2 Z" stroke="#333" stroke-width="0.5" fill="#999" />
<path d="M843.5,625.7 L842.7,628.1 L846.3,631.5 L846.8,628.9 Z" stroke="#333" stroke-width="0.5" fill="#999" />
<path d="M861.0,566.5 L866.0,563.9 L874.0,587.5 L868.5,590.5 Z" stroke="#666" stroke-width="0.6" fill="#fff" />
<path d="M860.0,559.5 L866.0,556.9 L866.0,563.9 L861.0,566.5 Z" stroke="#666" stroke-width="0.6" fill="#fff" />
<line x1="889.72" y1="550.18" x2="907.07" y2="540.36" stroke="#000" stroke-width="1.0" />
<line x1="885.07" y1="545.83" x2="902.42" y2="536.01" stroke="#000" stroke-width="1.0" />
<line x1="880.31" y1="542.17" x2="897.66" y2="532.35" stroke="#000" stroke-width="1.0" />
<path d="M890.9,551.4 L887.4,547.9 L883.9,544.8 L880.3,542.2" stroke="#000" stroke-width="1.0" fill="none" />
<path d="M899.5,546.5 L896.1,543.0 L892.6,539.9 L889.0,537.3" stroke="#000" stroke-width="1.0" fill="none" />
<path d="M908.2,541.5 L904.8,538.1 L901.2,535.0 L897.7,532.4" stroke="#000" stroke-width="1.0" fill="none" />
<line x1="908.78" y1="539.40" x2="926.77" y2="529.22" stroke="#000" stroke-width="1.0" />
<line x1="904.13" y1="535.04" x2="922.12" y2="524.87" stroke="#000" stroke-width="1.0" />
<line x1="899.37" y1="531.39" x2="917.36" y2="521.21" stroke="#000" stroke-width="1.0" />
<path d="M909.9,540.6 L906.5,537.1 L902.9,534.1 L899.4,531.4" stroke="#000" stroke-width="1.0" fill="none" />
<path d="M918.9,535.5 L915.5,532.0 L911.9,529.0 L908.4,526.3" stroke="#000" stroke-width="1.0" fill="none" />
<path d="M927.9,530.4 L924.5,527.0 L920.9,523.9 L917.4,521.2" stroke="#000" stroke-width="1.0" fill="none" />
<line x1="929.68" y1="527.57" x2="947.10" y2="517.71" stroke="#000" stroke-width="1.0" />
<line x1="925.03" y1="523.22" x2="942.46" y2="513.36" stroke="#000" stroke-width="1.0" />
<line x1="920.27" y1="519.56" x2="937.69" y2="509.70" stroke="#000" stroke-width="1.0" />
<path d="M930.8,528.8 L927.4,525.3 L923.9,522.2 L920.3,519.6" stroke="#000" stroke-width="1.0" fill="none" />
<path d="M939.5,523.8 L936.1,520.4 L932.6,517.3 L929.0,514.6" stroke="#000" stroke-width="1.0" fill="none" />
<path d="M948.2,518.9 L944.8,515.5 L941.3,512.4 L937.7,509.7" stroke="#000" stroke-width="1.0" fill="none" />
<line x1="949.24" y1="516.50" x2="966.09" y2="506.97" stroke="#000" stroke-width="1.0" />
<line x1="944.59" y1="512.15" x2="961.44" y2="502.62" stroke="#000" stroke-width="1.0" />
<line x1="939.83" y1="508.49" x2="956.68" y2="498.96" stroke="#000" stroke-width="1.0" />
<path d="M950.4,517.7 L946.9,514.2 L943.4,511.2 L939.8,508.5" stroke="#000" stroke-width="1.0" fill="none" />
<path d="M958.8,512.9 L955.4,509.5 L951.8,506.4 L948.3,503.7" stroke="#000" stroke-width="1.0" fill="none" />
<path d="M967.2,508.2 L963.8,504.7 L960.3,501.6 L956.7,499.0" stroke="#000" stroke-width="1.0" fill="none" />
<line x1="962.82" y1="508.82" x2="977.75" y2="500.37" stroke="#000" stroke-width="1.0" />
<line x1="958.17" y1="504.47" x2="973.10" y2="496.02" stroke="#000" stroke-width="1.0" />
<line x1="953.41" y1="500.81" x2="968.34" y2="492.36" stroke="#000" stroke-width="1.0" />
<path d="M964.0,510.0 L960.5,506.6 L957.0,503.5 L953.4,500.8" stroke="#000" stroke-width="1.0" fill="none" />
<path d="M971.4,505.8 L968.0,502.3 L964.5,499.3 L960.9,496.6" stroke="#000" stroke-width="1.0" fill="none" />
<path d="M978.9,501.6 L975.4,498.1 L971.9,495.0 L968.3,492.4" stroke="#000" stroke-width="1.0" fill="none" />
<line x1="978.82" y1="499.77" x2="994.25" y2="491.04" stroke="#000" stroke-width="1.0" />
<line x1="974.17" y1="495.42" x2="989.60" y2="486.69" stroke="#000" stroke-width="1.0" />
<line x1="969.41" y1="491.76" x2="984.84" y2="483.03" stroke="#000" stroke-width="1.0" />
<path d="M980.0,501.0 L976.5,497.5 L973.0,494.4 L969.4,491.8" stroke="#000" stroke-width="1.0" fill="none" />
<path d="M987.7,496.6 L984.2,493.1 L980.7,490.1 L977.1,487.4" stroke="#000" stroke-width="1.0" fill="none" />
<path d="M995.4,492.2 L991.9,488.8 L988.4,485.7 L984.8,483.0" stroke="#000" stroke-width="1.0" fill="none" />
<line x1="990.98" y1="492.89" x2="1006.91" y2="483.88" stroke="#000" stroke-width="1.0" />
<line x1="986.33" y1="488.54" x2="1002.26" y2="479.53" stroke="#000" stroke-width="1.0" />
<line x1="981.57" y1="484.88" x2="997.50" y2="475.87" stroke="#000" stroke-width="1.0" />
<path d="M992.1,494.1 L988.7,490.6 L985.1,487.6 L981.6,484.9" stroke="#000" stroke-width="1.0" fill="none" />
<path d="M1000.1,489.6 L996.6,486.1 L993.1,483.0 L989.5,480.4" stroke="#000" stroke-width="1.0" fill="none" />
<path d="M1008.0,485.1 L1004.6,481.6 L1001.1,478.5 L997.5,475.9" stroke="#000" stroke-width="1.0" fill="none" />
<line x1="1009.89" y1="482.19" x2="1027.24" y2="472.37" stroke="#000" stroke-width="1.0" />
<line x1="1005.24" y1="477.84" x2="1022.60" y2="468.02" stroke="#000" stroke-width="1.0" />
<line x1="1000.48" y1="474.18" x2="1017.83" y2="464.36" stroke="#000" stroke-width="1.0" />
<path d="M1011.0,483.4 L1007.6,479.9 L1004.1,476.9 L1000.5,474.2" stroke="#000" stroke-width="1.0" fill="none" />
<path d="M1019.7,478.5 L1016.3,475.0 L1012.7,471.9 L1009.2,469.3" stroke="#000" stroke-width="1.0" fill="none" />
<path d="M1028.4,473.6 L1024.9,470.1 L1021.4,467.0 L1017.8,464.4" stroke="#000" stroke-width="1.0" fill="none" />
<line x1="1030.66" y1="470.44" x2="1048.01" y2="460.62" stroke="#000" stroke-width="1.0" />
<line x1="1026.01" y1="466.09" x2="1043.36" y2="456.27" stroke="#000" stroke-width="1.0" />
<line x1="1021.25" y1="462.43" x2="1038.60" y2="452.61" stroke="#000" stroke-width="1.0" />
<path d="M1031.8,471.6 L1028.4,468.2 L1024.8,465.1 L1021.2,462.4" stroke="#000" stroke-width="1.0" fill="none" />
<path d="M1040.5,466.7 L1037.0,463.3 L1033.5,460.2 L1029.9,457.5" stroke="#000" stroke-width="1.0" fill="none" />
<path d="M1049.1,461.8 L1045.7,458.4 L1042.2,455.3 L1038.6,452.6" stroke="#000" stroke-width="1.0" fill="none" />
<line x1="1049.71" y1="459.66" x2="1061.09" y2="453.22" stroke="#000" stroke-width="1.0" />
<line x1="1045.07" y1="455.31" x2="1056.44" y2="448.87" stroke="#000" stroke-width="1.0" />
<line x1="1040.30" y1="451.65" x2="1051.68" y2="445.21" stroke="#000" stroke-width="1.0" />
<path d="M1050.8,460.8 L1047.4,457.4 L1043.9,454.3 L1040.3,451.6" stroke="#000" stroke-width="1.0" fill="none" />
<path d="M1056.5,457.6 L1053.1,454.2 L1049.6,451.1 L1046.0,448.4" stroke="#000" stroke-width="1.0" fill="none" />
<path d="M1062.2,454.4 L1058.8,451.0 L1055.3,447.9 L1051.7,445.2" stroke="#000" stroke-width="1.0" fill="none" />
<path d="M887.8,511.3 L898.4,507.0 L899.2,542.6 L889.2,538.3 L877.0,528.4 Z" stroke="#000" stroke-width="1.0" fill="#fff" />
<line x1="893.18" y1="509.20" x2="892.18" y2="536.10" stroke="#666" stroke-width="0.5" />
<path d="M887.8,511.3 Q887.2,522.6 877.0,528.4" stroke="#444" stroke-width="0.6" fill="none" />
<line x1="876.98" y1="528.40" x2="889.48" y2="535.00" stroke="#444" stroke-width="0.6" />
<line x1="889.48" y1="535.00" x2="899.18" y2="539.10" stroke="#444" stroke-width="0.6" />
<path d="M887.8,511.3 L895.7,505.6 L906.3,501.3 L898.4,507.0 Z" stroke="#111" stroke-width="0.8" fill="#fff" />
<path d="M898.4,507.0 L906.3,501.3 L914.8,539.8 L899.2,542.6 Z" stroke="#000" stroke-width="1.1" fill="#fff" />
<line x1="901.48" y1="504.80" x2="904.68" y2="541.40" stroke="#444" stroke-width="0.6" />
<line x1="903.88" y1="503.00" x2="910.18" y2="540.60" stroke="#444" stroke-width="0.6" />
<text x="904.28" y="512.60" font-size="4.6" text-anchor="start" fill="#000" font-weight="bold" transform="rotate(80 904.28 512.60)" textLength="9.80" lengthAdjust="spacing" stroke="#000" stroke-width="0.25">ACO</text>
<path d="M899.2,542.6 L914.8,539.8 L915.3,543.2 L899.7,546.0 Z" stroke="#111" stroke-width="0.9" fill="#fff" />
<path d="M877.0,528.4 L889.2,538.3 L889.5,541.3 L877.1,531.4 Z" stroke="#111" stroke-width="0.9" fill="#fff" />
<rect x="899.08" y="493.40" width="7.20" height="4.40" rx="1.5" stroke="#000" stroke-width="1.1" fill="#bbb" transform="rotate(-29.5 902.7 495.6)"/>
<path d="M898.2,498.6 L898.4,507.0 M906.1,494.1 L906.3,501.3" stroke="#111" stroke-width="0.9" fill="none" />
<path d="M898.2,498.6 L901.7,503.6 L906.1,494.1" stroke="#333" stroke-width="0.7" fill="none" />
<path d="M928.0,488.5 L938.6,484.2 L939.4,519.8 L929.4,515.5 L917.2,505.6 Z" stroke="#000" stroke-width="1.0" fill="#fff" />
<line x1="933.43" y1="486.43" x2="932.43" y2="513.33" stroke="#666" stroke-width="0.5" />
<path d="M928.0,488.5 Q927.4,499.8 917.2,505.6" stroke="#444" stroke-width="0.6" fill="none" />
<line x1="917.23" y1="505.63" x2="929.73" y2="512.23" stroke="#444" stroke-width="0.6" />
<line x1="929.73" y1="512.23" x2="939.43" y2="516.33" stroke="#444" stroke-width="0.6" />
<path d="M928.0,488.5 L935.9,482.8 L946.5,478.5 L938.6,484.2 Z" stroke="#111" stroke-width="0.8" fill="#fff" />
<path d="M938.6,484.2 L946.5,478.5 L955.0,517.0 L939.4,519.8 Z" stroke="#000" stroke-width="1.1" fill="#fff" />
<line x1="941.73" y1="482.03" x2="944.93" y2="518.63" stroke="#444" stroke-width="0.6" />
<line x1="944.13" y1="480.23" x2="950.43" y2="517.83" stroke="#444" stroke-width="0.6" />
<text x="944.53" y="489.83" font-size="4.6" text-anchor="start" fill="#000" font-weight="bold" transform="rotate(80 944.53 489.83)" textLength="9.80" lengthAdjust="spacing" stroke="#000" stroke-width="0.25">ACO</text>
<path d="M939.4,519.8 L955.0,517.0 L955.5,520.4 L939.9,523.2 Z" stroke="#111" stroke-width="0.9" fill="#fff" />
<path d="M917.2,505.6 L929.4,515.5 L929.7,518.5 L917.3,508.6 Z" stroke="#111" stroke-width="0.9" fill="#fff" />
<rect x="939.33" y="470.63" width="7.20" height="4.40" rx="1.5" stroke="#000" stroke-width="1.1" fill="#bbb" transform="rotate(-29.5 942.9 472.8)"/>
<path d="M938.4,475.8 L938.6,484.2 M946.3,471.3 L946.5,478.5" stroke="#111" stroke-width="0.9" fill="none" />
<path d="M938.4,475.8 L941.9,480.8 L946.3,471.3" stroke="#333" stroke-width="0.7" fill="none" />
<path d="M989.0,454.0 L999.6,449.7 L1000.4,485.3 L990.4,481.0 L978.2,471.1 Z" stroke="#000" stroke-width="1.0" fill="#fff" />
<line x1="994.44" y1="451.91" x2="993.44" y2="478.81" stroke="#666" stroke-width="0.5" />
<path d="M989.0,454.0 Q988.4,465.3 978.2,471.1" stroke="#444" stroke-width="0.6" fill="none" />
<line x1="978.24" y1="471.11" x2="990.74" y2="477.71" stroke="#444" stroke-width="0.6" />
<line x1="990.74" y1="477.71" x2="1000.44" y2="481.81" stroke="#444" stroke-width="0.6" />
<path d="M989.0,454.0 L996.9,448.3 L1007.5,444.0 L999.6,449.7 Z" stroke="#111" stroke-width="0.8" fill="#fff" />
<path d="M999.6,449.7 L1007.5,444.0 L1016.0,482.5 L1000.4,485.3 Z" stroke="#000" stroke-width="1.1" fill="#fff" />
<line x1="1002.74" y1="447.51" x2="1005.94" y2="484.11" stroke="#444" stroke-width="0.6" />
<line x1="1005.14" y1="445.71" x2="1011.44" y2="483.31" stroke="#444" stroke-width="0.6" />
<text x="1005.54" y="455.31" font-size="4.6" text-anchor="start" fill="#000" font-weight="bold" transform="rotate(80 1005.54 455.31)" textLength="9.80" lengthAdjust="spacing" stroke="#000" stroke-width="0.25">ACO</text>
<path d="M1000.4,485.3 L1016.0,482.5 L1016.5,485.9 L1000.9,488.7 Z" stroke="#111" stroke-width="0.9" fill="#fff" />
<path d="M978.2,471.1 L990.4,481.0 L990.7,484.0 L978.3,474.1 Z" stroke="#111" stroke-width="0.9" fill="#fff" />
<rect x="1000.34" y="436.11" width="7.20" height="4.40" rx="1.5" stroke="#000" stroke-width="1.1" fill="#bbb" transform="rotate(-29.5 1003.9 438.3)"/>
<path d="M999.4,441.3 L999.6,449.7 M1007.3,436.8 L1007.5,444.0" stroke="#111" stroke-width="0.9" fill="none" />
<path d="M999.4,441.3 L1002.9,446.3 L1007.3,436.8" stroke="#333" stroke-width="0.7" fill="none" />
<path d="M1029.3,431.2 L1039.9,426.9 L1040.7,462.5 L1030.7,458.2 L1018.5,448.3 Z" stroke="#000" stroke-width="1.0" fill="#fff" />
<line x1="1034.69" y1="429.14" x2="1033.69" y2="456.04" stroke="#666" stroke-width="0.5" />
<path d="M1029.3,431.2 Q1028.7,442.5 1018.5,448.3" stroke="#444" stroke-width="0.6" fill="none" />
<line x1="1018.49" y1="448.34" x2="1030.99" y2="454.94" stroke="#444" stroke-width="0.6" />
<line x1="1030.99" y1="454.94" x2="1040.69" y2="459.04" stroke="#444" stroke-width="0.6" />
<path d="M1029.3,431.2 L1037.2,425.5 L1047.8,421.2 L1039.9,426.9 Z" stroke="#111" stroke-width="0.8" fill="#fff" />
<path d="M1039.9,426.9 L1047.8,421.2 L1056.3,459.7 L1040.7,462.5 Z" stroke="#000" stroke-width="1.1" fill="#fff" />
<line x1="1042.99" y1="424.74" x2="1046.19" y2="461.34" stroke="#444" stroke-width="0.6" />
<line x1="1045.39" y1="422.94" x2="1051.69" y2="460.54" stroke="#444" stroke-width="0.6" />
<text x="1045.79" y="432.54" font-size="4.6" text-anchor="start" fill="#000" font-weight="bold" transform="rotate(80 1045.79 432.54)" textLength="9.80" lengthAdjust="spacing" stroke="#000" stroke-width="0.25">ACO</text>
<path d="M1040.7,462.5 L1056.3,459.7 L1056.8,463.1 L1041.2,465.9 Z" stroke="#111" stroke-width="0.9" fill="#fff" />
<path d="M1018.5,448.3 L1030.7,458.2 L1031.0,461.2 L1018.6,451.3 Z" stroke="#111" stroke-width="0.9" fill="#fff" />
<rect x="1040.59" y="413.34" width="7.20" height="4.40" rx="1.5" stroke="#000" stroke-width="1.1" fill="#bbb" transform="rotate(-29.5 1044.2 415.5)"/>
<path d="M1039.7,418.5 L1039.9,426.9 M1047.6,414.0 L1047.8,421.2" stroke="#111" stroke-width="0.9" fill="none" />
<path d="M1039.7,418.5 L1043.2,423.5 L1047.6,414.0" stroke="#333" stroke-width="0.7" fill="none" />
<path d="M858.5,501.4 L1061.1,386.8 L1072.1,393.9 L1072.1,402.5 L869.5,517.1 L869.5,508.5 Z" stroke="#111" stroke-width="0" fill="#fff" />
<path d="M858.5,501.4 L1061.1,386.8 L1072.1,393.9 L869.5,508.5 Z" stroke="#000" stroke-width="1.4" fill="#fff" />
<path d="M869.5,508.5 L1072.1,393.9 L1072.1,402.5 L869.5,517.1 Z" stroke="#000" stroke-width="1.0" fill="#fff" />
<line x1="871.56" y1="518.82" x2="1074.15" y2="404.20" stroke="#222" stroke-width="0.8" />
<line x1="860.63" y1="501.88" x2="1061.79" y2="388.07" stroke="#444" stroke-width="0.6" />
<line x1="868.85" y1="507.24" x2="1070.01" y2="393.43" stroke="#444" stroke-width="0.6" />
<line x1="870.85" y1="501.10" x2="891.76" y2="489.27" stroke="#000" stroke-width="5.0" />
<line x1="870.85" y1="501.10" x2="891.76" y2="489.27" stroke="#fff" stroke-width="2.8" />
<line x1="876.75" y1="496.30" x2="878.75" y2="498.10" stroke="#333" stroke-width="0.7" />
<line x1="883.65" y1="492.40" x2="885.65" y2="494.20" stroke="#333" stroke-width="0.7" />
<line x1="870.85" y1="501.10" x2="891.76" y2="489.27" stroke="#666" stroke-width="0.5" />
<line x1="904.48" y1="482.07" x2="925.39" y2="470.24" stroke="#000" stroke-width="5.0" />
<line x1="904.48" y1="482.07" x2="925.39" y2="470.24" stroke="#fff" stroke-width="2.8" />
<line x1="910.38" y1="477.27" x2="912.38" y2="479.07" stroke="#333" stroke-width="0.7" />
<line x1="917.28" y1="473.37" x2="919.28" y2="475.17" stroke="#333" stroke-width="0.7" />
<line x1="904.48" y1="482.07" x2="925.39" y2="470.24" stroke="#666" stroke-width="0.5" />
<line x1="938.12" y1="463.04" x2="959.02" y2="451.22" stroke="#000" stroke-width="5.0" />
<line x1="938.12" y1="463.04" x2="959.02" y2="451.22" stroke="#fff" stroke-width="2.8" />
<line x1="944.02" y1="458.24" x2="946.02" y2="460.04" stroke="#333" stroke-width="0.7" />
<line x1="950.92" y1="454.34" x2="952.92" y2="456.14" stroke="#333" stroke-width="0.7" />
<line x1="938.12" y1="463.04" x2="959.02" y2="451.22" stroke="#666" stroke-width="0.5" />
<line x1="971.75" y1="444.01" x2="992.66" y2="432.19" stroke="#000" stroke-width="5.0" />
<line x1="971.75" y1="444.01" x2="992.66" y2="432.19" stroke="#fff" stroke-width="2.8" />
<line x1="977.65" y1="439.21" x2="979.65" y2="441.01" stroke="#333" stroke-width="0.7" />
<line x1="984.55" y1="435.31" x2="986.55" y2="437.11" stroke="#333" stroke-width="0.7" />
<line x1="971.75" y1="444.01" x2="992.66" y2="432.19" stroke="#666" stroke-width="0.5" />
<line x1="1005.39" y1="424.99" x2="1026.29" y2="413.16" stroke="#000" stroke-width="5.0" />
<line x1="1005.39" y1="424.99" x2="1026.29" y2="413.16" stroke="#fff" stroke-width="2.8" />
<line x1="1011.29" y1="420.18" x2="1013.29" y2="421.98" stroke="#333" stroke-width="0.7" />
<line x1="1018.18" y1="416.28" x2="1020.18" y2="418.08" stroke="#333" stroke-width="0.7" />
<line x1="1005.39" y1="424.99" x2="1026.29" y2="413.16" stroke="#666" stroke-width="0.5" />
<line x1="1039.02" y1="405.96" x2="1059.93" y2="394.13" stroke="#000" stroke-width="5.0" />
<line x1="1039.02" y1="405.96" x2="1059.93" y2="394.13" stroke="#fff" stroke-width="2.8" />
<line x1="1044.92" y1="401.15" x2="1046.92" y2="402.95" stroke="#333" stroke-width="0.7" />
<line x1="1051.82" y1="397.25" x2="1053.82" y2="399.05" stroke="#333" stroke-width="0.7" />
<line x1="1039.02" y1="405.96" x2="1059.93" y2="394.13" stroke="#666" stroke-width="0.5" />
<path d="M960.1,443.9 L971.0,451.1 L971.0,459.6" stroke="#000" stroke-width="1.0" fill="none" />
<rect x="930.66" y="464.18" width="2.40" height="4.80" rx="0" stroke="#000" stroke-width="0" fill="#111" transform="rotate(-29.5 931.9 466.6)"/>
<rect x="1031.49" y="407.14" width="2.40" height="4.80" rx="0" stroke="#000" stroke-width="0" fill="#111" transform="rotate(-29.5 1032.7 409.5)"/>
<path d="M858.5,501.4 L858.5,511.5 L856.8,511.1 L856.8,509.2" stroke="#000" stroke-width="0.9" fill="none" />
<path d="M859.9,503.8 L859.9,511.6 L861.3,514.8 L866.8,518.4 L868.1,517.0 L868.1,509.2 L859.9,503.8 Z" stroke="#000" stroke-width="0.9" fill="#fff" />
<path d="M869.5,517.1 L871.6,518.8 L871.6,520.8 L869.5,519.4" stroke="#000" stroke-width="0.9" fill="none" />
<path d="M1063.2,389.7 L1077.4,381.6 L1084.3,386.1 L1070.0,394.1 Z" stroke="#222" stroke-width="0.7" fill="#fff" />
<path d="M1084.3,386.1 L1084.3,390.0 L1075.7,394.8 L1075.7,390.9 Z" stroke="#444" stroke-width="0.5" fill="#888" />
<path d="M936.5,588.0 L945.2,584.0 L945.2,617.5 L936.5,621.5 Z" stroke="#111" stroke-width="0.9" fill="#fff" />
<path d="M931.5,586.0 L936.5,588.0 L936.5,621.5 L931.5,618.6 Z" stroke="#222" stroke-width="0.8" fill="#fff" />
<line x1="941.90" y1="587.00" x2="941.90" y2="619.60" stroke="#444" stroke-width="0.7" />
<path d="M925.5,608.8 L941.9,618.6 L941.9,622.5 L925.5,612.4" stroke="#111" stroke-width="0.9" fill="#fff" />
<line x1="925.50" y1="608.80" x2="925.50" y2="612.40" stroke="#111" stroke-width="0.9" />
<path d="M1036.0,530.0 L1045.6,525.5 L1045.6,560.5 L1036.0,565.0 Z" stroke="#111" stroke-width="0.9" fill="#fff" />
<path d="M1030.5,528.0 L1036.0,530.0 L1036.0,565.0 L1030.5,562.0 Z" stroke="#222" stroke-width="0.8" fill="#fff" />
<line x1="1042.30" y1="527.00" x2="1042.30" y2="562.00" stroke="#444" stroke-width="0.7" />
<path d="M1028.1,551 L1042.3,558.6 L1042.3,562.6 L1028.1,554.8 Z" stroke="#111" stroke-width="0.9" fill="#fff" />
<path d="M1052.0,537.0 L1057.6,534.6 L1082.7,549.0 L1082.7,559.7 L1070.7,567.3 L1070.7,561.9 L1046.0,548.5 L1046.0,540.0 Z" stroke="#111" stroke-width="0" fill="#fff" />
<path d="M1057.6,534.8 L1082.7,549.2 L1070.7,556.6 L1046,542.2 Z" stroke="#111" stroke-width="0.9" fill="#fff" />
<path d="M1082.7,549.2 L1082.7,559.7 L1070.7,567.3 L1070.7,556.6" stroke="#111" stroke-width="0.9" fill="#fff" />
<path d="M1070.7,561.9 L1046,548.2 L1046,542.2" stroke="#111" stroke-width="0.9" fill="none" />
<line x1="1080.20" y1="552.40" x2="1080.20" y2="561.20" stroke="#444" stroke-width="0.6" />
<ellipse cx="1071.70" cy="550.40" rx="1.30" ry="1.00" stroke="#000" stroke-width="0" fill="#111" />
</g>
</svg></body></html>
